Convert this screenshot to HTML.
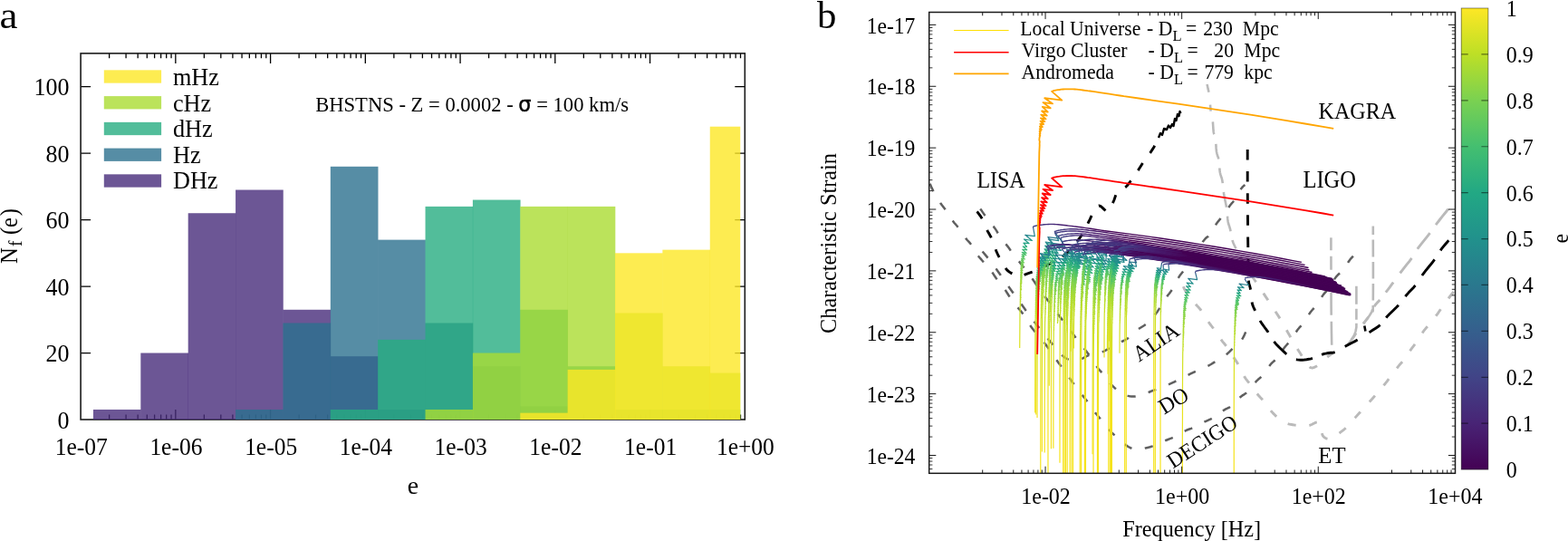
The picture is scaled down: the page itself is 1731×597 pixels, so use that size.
<!DOCTYPE html>
<html><head><meta charset="utf-8"><title>figure</title>
<style>
html,body{margin:0;padding:0;background:#fff;}
svg{display:block;font-family:"Liberation Serif", serif;fill:#000;}
</style></head><body>
<svg width="1731" height="597" viewBox="0 0 1731 597">
<rect width="1731" height="597" fill="#fff"/>
<g id="panelA">
<path d="M120.63 463v-5.4M120.63 58.9v5.4M139.08 463v-5.4M139.08 58.9v5.4M152.16 463v-5.4M152.16 58.9v5.4M162.31 463v-5.4M162.31 58.9v5.4M170.61 463v-5.4M170.61 58.9v5.4M177.62 463v-5.4M177.62 58.9v5.4M183.69 463v-5.4M183.69 58.9v5.4M189.05 463v-5.4M189.05 58.9v5.4M193.84 463v-11M193.84 58.9v11M225.37 463v-5.4M225.37 58.9v5.4M243.82 463v-5.4M243.82 58.9v5.4M256.9 463v-5.4M256.9 58.9v5.4M267.05 463v-5.4M267.05 58.9v5.4M275.35 463v-5.4M275.35 58.9v5.4M282.36 463v-5.4M282.36 58.9v5.4M288.44 463v-5.4M288.44 58.9v5.4M293.79 463v-5.4M293.79 58.9v5.4M298.59 463v-11M298.59 58.9v11M330.12 463v-5.4M330.12 58.9v5.4M348.56 463v-5.4M348.56 58.9v5.4M361.65 463v-5.4M361.65 58.9v5.4M371.8 463v-5.4M371.8 58.9v5.4M380.09 463v-5.4M380.09 58.9v5.4M387.1 463v-5.4M387.1 58.9v5.4M393.18 463v-5.4M393.18 58.9v5.4M398.54 463v-5.4M398.54 58.9v5.4M403.33 463v-11M403.33 58.9v11M434.86 463v-5.4M434.86 58.9v5.4M453.3 463v-5.4M453.3 58.9v5.4M466.39 463v-5.4M466.39 58.9v5.4M476.54 463v-5.4M476.54 58.9v5.4M484.83 463v-5.4M484.83 58.9v5.4M491.85 463v-5.4M491.85 58.9v5.4M497.92 463v-5.4M497.92 58.9v5.4M503.28 463v-5.4M503.28 58.9v5.4M508.07 463v-11M508.07 58.9v11M539.6 463v-5.4M539.6 58.9v5.4M558.05 463v-5.4M558.05 58.9v5.4M571.13 463v-5.4M571.13 58.9v5.4M581.28 463v-5.4M581.28 58.9v5.4M589.58 463v-5.4M589.58 58.9v5.4M596.59 463v-5.4M596.59 58.9v5.4M602.66 463v-5.4M602.66 58.9v5.4M608.02 463v-5.4M608.02 58.9v5.4M612.81 463v-11M612.81 58.9v11M644.35 463v-5.4M644.35 58.9v5.4M662.79 463v-5.4M662.79 58.9v5.4M675.88 463v-5.4M675.88 58.9v5.4M686.03 463v-5.4M686.03 58.9v5.4M694.32 463v-5.4M694.32 58.9v5.4M701.33 463v-5.4M701.33 58.9v5.4M707.41 463v-5.4M707.41 58.9v5.4M712.76 463v-5.4M712.76 58.9v5.4M717.56 463v-11M717.56 58.9v11M749.09 463v-5.4M749.09 58.9v5.4M767.53 463v-5.4M767.53 58.9v5.4M780.62 463v-5.4M780.62 58.9v5.4M790.77 463v-5.4M790.77 58.9v5.4M799.06 463v-5.4M799.06 58.9v5.4M806.08 463v-5.4M806.08 58.9v5.4M812.15 463v-5.4M812.15 58.9v5.4M817.51 463v-5.4M817.51 58.9v5.4M89.1 389.53h11M822.3 389.53h-11M89.1 316.05h11M822.3 316.05h-11M89.1 242.58h11M822.3 242.58h-11M89.1 169.11h11M822.3 169.11h-11M89.1 95.64h11M822.3 95.64h-11" stroke="#000" stroke-width="1.3" fill="none"/>
<rect x="89.1" y="58.9" width="733.2" height="404.1" fill="none" stroke="#1a1a1a" stroke-width="1.6"/>
<g fill="#472c7a" fill-opacity="0.8">
<rect x="102.95" y="451.98" width="52.67" height="11.02"/>
<rect x="155.32" y="389.53" width="52.67" height="73.47"/>
<rect x="207.69" y="235.23" width="52.67" height="227.77"/>
<rect x="260.06" y="209.52" width="52.67" height="253.48"/>
<rect x="312.43" y="341.77" width="52.67" height="121.23"/>
<rect x="364.8" y="393.2" width="52.67" height="69.8"/>
<rect x="417.17" y="451.98" width="52.67" height="11.02"/>
</g>
<g fill="#2c718e" fill-opacity="0.8">
<rect x="260.06" y="451.98" width="52.67" height="11.02"/>
<rect x="312.43" y="356.46" width="52.67" height="106.54"/>
<rect x="364.8" y="183.8" width="52.67" height="279.2"/>
<rect x="417.17" y="264.62" width="52.67" height="198.38"/>
<rect x="469.54" y="356.46" width="52.67" height="106.54"/>
<rect x="521.91" y="404.22" width="52.67" height="58.78"/>
<rect x="574.28" y="448.31" width="52.67" height="14.69"/>
</g>
<g fill="#27ad81" fill-opacity="0.8">
<rect x="364.8" y="451.98" width="52.67" height="11.02"/>
<rect x="417.17" y="374.83" width="52.67" height="88.17"/>
<rect x="469.54" y="227.89" width="52.67" height="235.11"/>
<rect x="521.91" y="220.54" width="52.67" height="242.46"/>
<rect x="574.28" y="341.77" width="52.67" height="121.23"/>
<rect x="626.65" y="404.22" width="52.67" height="58.78"/>
<rect x="679.02" y="451.98" width="52.67" height="11.02"/>
<rect x="731.39" y="451.98" width="52.67" height="11.02"/>
<rect x="783.76" y="451.98" width="33.49" height="11.02"/>
</g>
<g fill="#aadc32" fill-opacity="0.8">
<rect x="469.54" y="451.98" width="52.67" height="11.02"/>
<rect x="521.91" y="389.53" width="52.67" height="73.47"/>
<rect x="574.28" y="227.89" width="52.67" height="235.11"/>
<rect x="626.65" y="227.89" width="52.67" height="235.11"/>
<rect x="679.02" y="345.44" width="52.67" height="117.56"/>
<rect x="731.39" y="404.22" width="52.67" height="58.78"/>
<rect x="783.76" y="411.57" width="33.49" height="51.43"/>
</g>
<g fill="#fde725" fill-opacity="0.8">
<rect x="574.28" y="455.65" width="52.67" height="7.35"/>
<rect x="626.65" y="407.9" width="52.67" height="55.1"/>
<rect x="679.02" y="279.32" width="52.67" height="183.68"/>
<rect x="731.39" y="275.64" width="52.67" height="187.36"/>
<rect x="783.76" y="139.72" width="33.49" height="323.28"/>
</g>
<rect x="114.8" y="77.35" width="63.3" height="14.3" fill="#fde725" fill-opacity="0.8"/>
<text transform="translate(190.93,94.2) scale(1,1.050)" font-size="26.26">mHz</text>
<rect x="114.8" y="106.1" width="63.3" height="14.3" fill="#aadc32" fill-opacity="0.8"/>
<text transform="translate(190.93,122.7) scale(1,1.050)" font-size="26.26">cHz</text>
<rect x="114.8" y="134.85" width="63.3" height="14.3" fill="#27ad81" fill-opacity="0.8"/>
<text transform="translate(190.93,151.2) scale(1,1.050)" font-size="26.26">dHz</text>
<rect x="114.8" y="163.6" width="63.3" height="14.3" fill="#2c718e" fill-opacity="0.8"/>
<text transform="translate(190.93,179.7) scale(1,1.050)" font-size="26.26">Hz</text>
<rect x="114.8" y="192.35" width="63.3" height="14.3" fill="#472c7a" fill-opacity="0.8"/>
<text transform="translate(190.93,208.2) scale(1,1.050)" font-size="26.26">DHz</text>
<text transform="translate(76.5,472.6) scale(1,1.070)" font-size="26" text-anchor="end">0</text>
<text transform="translate(76.5,399.13) scale(1,1.070)" font-size="26" text-anchor="end">20</text>
<text transform="translate(76.5,325.65) scale(1,1.070)" font-size="26" text-anchor="end">40</text>
<text transform="translate(76.5,252.18) scale(1,1.070)" font-size="26" text-anchor="end">60</text>
<text transform="translate(76.5,178.71) scale(1,1.070)" font-size="26" text-anchor="end">80</text>
<text transform="translate(76.5,105.24) scale(1,1.070)" font-size="26" text-anchor="end">100</text>
<text transform="translate(89.65,502.3) scale(1,1.100)" font-size="25.5" text-anchor="middle">1e-07</text>
<text transform="translate(194.39,502.3) scale(1,1.100)" font-size="25.5" text-anchor="middle">1e-06</text>
<text transform="translate(299.14,502.3) scale(1,1.100)" font-size="25.5" text-anchor="middle">1e-05</text>
<text transform="translate(403.88,502.3) scale(1,1.100)" font-size="25.5" text-anchor="middle">1e-04</text>
<text transform="translate(508.62,502.3) scale(1,1.100)" font-size="25.5" text-anchor="middle">1e-03</text>
<text transform="translate(613.36,502.3) scale(1,1.100)" font-size="25.5" text-anchor="middle">1e-02</text>
<text transform="translate(718.11,502.3) scale(1,1.100)" font-size="25.5" text-anchor="middle">1e-01</text>
<text transform="translate(822.85,502.3) scale(1,1.100)" font-size="25.5" text-anchor="middle">1e+00</text>
<text transform="translate(449.69,544.63) scale(1,0.970)" font-size="27.84">e</text>
<text transform="translate(18.8,290.4) rotate(-90) scale(1,1.08)" font-size="24.6"><tspan x="-0.7">N</tspan><tspan x="18.3" dy="4.9" font-size="19.5">f</tspan><tspan x="31.4" dy="-4.9">(</tspan><tspan x="39.3">e</tspan><tspan x="52.2">)</tspan></text>
<text transform="translate(348.2,122.5) scale(1,1.060)" font-size="22.6">BHSTNS - Z = 0.0002 - <tspan font-family="DejaVu Sans, Liberation Sans, sans-serif" font-size="22.5" stroke="#000" stroke-width="0.45">σ</tspan> = 100 km/s</text>
<text transform="translate(-0.53,30.8) scale(1,0.880)" font-size="45.05">a</text>
</g>
<g id="panelB">
<clipPath id="cb"><rect x="1025.7" y="13.5" width="580.8" height="508.8"/></clipPath>
<g clip-path="url(#cb)">
<path d="M1332.5 93 L1333 95 L1333.6 97.9 L1334.4 101.3 L1335 105 L1335.5 109.4 L1335.9 114.4 L1336.3 119.2 L1336.7 123 L1337.2 125.2 L1337.6 126.2 L1338.1 127.3 L1338.5 129.3 L1338.8 132.9 L1339.1 137.5 L1339.4 142.1 L1339.7 145.7 L1340.2 147.8 L1340.8 148.9 L1341.3 150 L1341.8 152 L1342.1 155.4 L1342.4 159.6 L1342.6 163.9 L1343 167.5 L1343.6 170.1 L1344.2 172 L1344.9 173.9 L1345.5 176.3 L1345.9 179.5 L1346.2 183.3 L1346.4 187 L1346.8 190.2 L1347.4 192.6 L1348 194.5 L1348.7 196.5 L1349.3 199 L1349.8 202.3 L1350.2 206 L1350.6 210 L1351.1 214 L1351.8 218.1 L1352.7 222.3 L1353.6 226.5 L1354.3 230.4 L1354.7 234.2 L1355 237.8 L1355.2 241.2 L1355.6 244.2 L1356.1 246.7 L1356.8 248.7 L1357.4 250.7 L1358.1 253 L1358.7 256 L1359.3 259.2 L1359.9 262.5 L1360.6 265.5 L1361.5 268.2 L1362.7 270.7 L1363.7 272.8 L1364.4 274.3" fill="none" stroke="#bababa" stroke-width="2.6" stroke-dasharray="9 14 7 12 14 11 17 10 17 10 17 10 17 10 17 10 17 100" stroke-dashoffset="0" stroke-linejoin="round"/>
<path d="M1364.4 274.3 L1365.8 277 L1367.8 281 L1370 285.2 L1372 289 L1373.8 292 L1375.5 294.8 L1377.3 297.4 L1379 300 L1380.7 302.5 L1382.3 305 L1384 307.5 L1385.9 310.3 L1388.1 313.6 L1390.5 317.2 L1392.9 320.8 L1395.1 324.1 L1396.9 326.9 L1398.6 329.4 L1400.3 332 L1402.4 335.2 L1405.2 339.5 L1408.5 344.5 L1411.7 349.4 L1414.4 353.6 L1416.2 356.6 L1417.5 359 L1418.6 361.2 L1420 363.7 L1421.7 366.8 L1423.7 370.2 L1425.6 373.6 L1427.3 376.6 L1428.8 379.2 L1430.2 381.6 L1431.6 383.7 L1432.9 385.9 L1434.2 388 L1435.5 390.1 L1436.8 392.1 L1438 394 L1439.2 395.9 L1440.3 397.7 L1441.5 399.5 L1442.5 401 L1443.4 402.3 L1444.3 403.5 L1445.1 404.5 L1446 405.2 L1446.9 405.7 L1447.8 405.9 L1448.8 406 L1450 405.7 L1451.4 405.1 L1453.1 404.3 L1454.8 403.2 L1456.5 402 L1458.1 400.7 L1459.7 399.1 L1461.3 397.5 L1463 396 L1464.7 394.6 L1466.4 393.1 L1468.2 391.8 L1470 390.5 L1471.9 389.4 L1473.9 388.4 L1476 387.5 L1478 386.5 L1480.2 385.3 L1482.5 383.9 L1484.6 382.7 L1486 381.8" fill="none" stroke="#bababa" stroke-width="2.9" stroke-dasharray="9.2 14.8" stroke-dashoffset="-10" stroke-linejoin="round"/>
<path d="M1486 381.8 L1487.3 380.3 L1489.1 378.2 L1491.2 375.8 L1493 373.5 L1494.6 371.4 L1496 369.2 L1497.5 367.1 L1499 365 L1500.6 362.9 L1502.2 360.9 L1503.8 358.9 L1505.3 356.9 L1506.7 355.1 L1508 353.4 L1509.4 351.6 L1510.8 349.5 L1512.4 346.8 L1514 343.6 L1515.7 340.5 L1517.3 337.8 L1518.9 335.7 L1520.5 333.9 L1522.1 332.3 L1523.7 330.5 L1525.3 328.6 L1526.8 326.6 L1528.4 324.5 L1530.2 322.2 L1532.2 319.6 L1534.3 316.8 L1536.4 313.9 L1538.5 311.1 L1540.3 308.7 L1541.9 306.4 L1543.7 304 L1545.9 301 L1548.9 297.2 L1552.4 292.7 L1555.9 288.3 L1558.8 284.4 L1560.7 281.6 L1561.9 279.4 L1563.2 277.1 L1565.2 274.2 L1568.3 270.1 L1572.1 265.4 L1575.9 260.7 L1579 256.7 L1581 254 L1582.2 252.1 L1583.5 250.2 L1585.5 247.5 L1588.6 243.5 L1592.4 238.7 L1596.2 234 L1599.3 230 L1601.7 226.9 L1603.7 224.4 L1605.2 222.4 L1606.3 221" fill="none" stroke="#bababa" stroke-width="2.9" stroke-dasharray="0 9 9 13 9.2 13.3 9.7 10.6 13.9 12.5 21 12 22.3 11.2 22.3 50" stroke-dashoffset="0" stroke-linejoin="round"/>
<path d="M1304.7 312 L1305.4 313.8 L1306.4 316.3 L1307.7 319.3 L1309.4 322.3 L1311.6 325.5 L1314.3 328.9 L1317.1 332.3 L1319.5 335.2 L1321.3 337.3 L1322.8 338.8 L1324.3 340.4 L1325.9 342.5 L1327.9 345.5 L1330.1 348.9 L1332.3 352.4 L1334.2 355.4 L1335.7 357.5 L1337 359.2 L1338.3 360.8 L1339.8 362.8 L1341.7 365.6 L1343.9 368.7 L1346.1 372 L1348.1 374.8 L1349.8 377.1 L1351.4 379 L1352.9 380.9 L1354.5 383.1 L1356.3 385.8 L1358.3 388.7 L1360.2 391.7 L1361.9 394.4 L1363.4 396.6 L1364.7 398.6 L1366 400.6 L1367.4 403 L1369 406 L1370.6 409.5 L1372.3 412.9 L1373.9 415.9 L1375.5 418.3 L1377 420.2 L1378.6 422.1 L1380.3 424.2 L1382.1 426.7 L1383.9 429.3 L1385.8 431.9 L1387.7 434.4 L1389.5 436.5 L1391.3 438.5 L1393.2 440.5 L1395.1 442.7 L1397.1 445.3 L1399.3 448.3 L1401.4 451.1 L1403.4 453.7 L1405.3 455.9 L1407.2 457.8 L1409 459.6 L1410.7 461.1 L1412.1 462.3 L1413.4 463.3 L1414.6 464.2 L1416 465 L1417.5 465.8 L1419 466.5 L1420.6 467.2 L1422.5 467.8 L1424.7 468.3 L1427.1 468.7 L1429.6 469.1 L1431.9 469.4 L1434.1 469.6 L1436.2 469.8 L1438.2 470 L1440 470 L1441.5 470 L1442.8 470 L1444.2 469.8 L1445.8 469.4 L1448 468.5 L1450.4 467.2 L1452.8 466.1 L1454.7 465.7 L1455.8 466.1 L1456.5 467 L1457 468.4 L1457.5 470 L1458.1 472.2 L1458.6 474.9 L1459.2 477.6 L1459.8 479.7 L1460.5 481.1 L1461.3 482 L1462.1 482.7 L1463 483.3 L1464 483.8 L1465.1 484.1 L1466.3 484.3 L1467.5 484.2 L1468.8 483.9 L1470.1 483.5 L1471.5 482.8 L1473 482 L1474.5 481 L1476.2 479.9 L1477.9 478.6 L1479.6 477.2 L1481.3 475.9 L1483 474.6 L1484.9 473 L1487.2 470.8 L1490 467.8 L1493.1 464.3 L1496.5 460.4 L1500 456.5 L1503.6 452.5 L1507.4 448.4 L1511.2 444.2 L1515 440 L1518.8 435.6 L1522.7 431 L1526.4 426.7 L1529.3 423.2 L1531.2 420.8 L1532.4 419.2 L1533.4 417.8 L1534.8 415.9 L1536.9 413.1 L1539.3 409.9 L1541.8 406.7 L1544 403.9 L1545.8 401.8 L1547.4 400.1 L1548.9 398.5 L1550.5 396.5 L1552.3 393.9 L1554.2 390.9 L1556.1 388 L1557.8 385.4 L1559.3 383.4 L1560.5 381.9 L1561.8 380.2 L1563.4 378.1 L1565.3 375.1 L1567.5 371.7 L1569.7 368.2 L1571.7 365.2 L1573.4 363.1 L1574.8 361.4 L1576.3 359.8 L1578.1 357.8 L1580.3 355 L1582.7 351.9 L1585.2 348.6 L1587.3 345.8 L1588.9 343.5 L1590.2 341.6 L1591.4 339.7 L1592.9 337.5 L1594.9 334.8 L1597.1 331.9 L1599.3 329 L1601.2 326.5 L1602.8 324.3 L1604.3 322.3 L1605.5 320.7 L1606.3 319.5" fill="none" stroke="#bababa" stroke-width="2.9" stroke-dasharray="9.2 14.8" stroke-dashoffset="-4.5" stroke-linejoin="round"/>
<path d="M1469.4 262.3 L1469.4 277 L1469.5 298.2 L1469.5 320.8 L1469.6 340 L1469.8 355.2 L1470 368.9 L1470.2 380.1 L1470.4 388" fill="none" stroke="#bababa" stroke-width="2.6" stroke-dasharray="14 6.5 15 25 25 7 26 100" stroke-dashoffset="0" stroke-linejoin="round"/>
<path d="M1497.4 315.7 L1497.4 323.5 L1497.4 334.9 L1497.4 346.5 L1497.4 355 L1497.4 359 L1497.4 360.5 L1497.4 360.9 L1497.2 362 L1496.9 363.9 L1496.4 366 L1495.8 368 L1495 370 L1493.9 372 L1492.6 374 L1491.2 375.9 L1490 377.5 L1488.8 378.9 L1487.7 380.1 L1486.7 381.1 L1486 381.8" fill="none" stroke="#bababa" stroke-width="2.6" stroke-dasharray="20 5 12 4 30 100" stroke-dashoffset="0" stroke-linejoin="round"/>
<path d="M1515.8 249.4 L1515.8 266.6 L1515.9 291.8 L1515.9 317.1 L1515.8 335 L1515.7 342.3 L1515.6 343.5 L1515.4 342.2 L1515 342 L1514.5 343.5 L1513.9 344.9 L1513.1 346.3 L1512 348 L1510.4 350.2 L1508.5 352.8 L1506.6 355.2 L1505.3 356.9" fill="none" stroke="#bababa" stroke-width="2.6" stroke-dasharray="9.5 5.5 19 5.5 18.5 5.5 18.5 5.5 30 100" stroke-dashoffset="0" stroke-linejoin="round"/>
<path d="M1025.7 200.5 L1026.4 202.2 L1027.4 204.6 L1028.6 207.4 L1030.1 210.4 L1031.9 213.7 L1034 217.3 L1036.2 220.9 L1038.1 223.9 L1039.6 226 L1040.8 227.6 L1042.1 229.2 L1043.6 231.2 L1045.5 234.1 L1047.6 237.4 L1049.8 240.7 L1051.7 243.6 L1053.3 245.7 L1054.7 247.3 L1056.2 249 L1057.8 251 L1059.8 253.8 L1061.9 256.9 L1064.1 260.1 L1066.1 262.9 L1067.8 265 L1069.4 266.7 L1071 268.4 L1072.5 270.3 L1074 272.7 L1075.5 275.3 L1077 278 L1078.6 280.5 L1080.2 282.7 L1081.8 284.7 L1083.6 286.7 L1085.4 288.8 L1087.5 291.2 L1089.8 293.7 L1092 296.2 L1094 298.6 L1095.5 300.7 L1096.8 302.6 L1098 304.6 L1099.5 306.7 L1101.4 309.1 L1103.6 311.7 L1105.8 314.3 L1107.8 316.9 L1109.4 319.3 L1110.8 321.6 L1112.3 324 L1113.9 326.5 L1115.9 329.3 L1118.2 332.4 L1120.4 335.4 L1122.5 338.1 L1124.2 340.2 L1125.8 342 L1127.3 343.8 L1129 346 L1130.9 348.9 L1132.9 352.2 L1134.9 355.5 L1136.7 358.3 L1138.2 360.4 L1139.4 362.1 L1140.7 363.8 L1142.3 365.7 L1144.3 368.1 L1146.6 370.7 L1149 373.4 L1151.1 375.9 L1152.8 378.1 L1154.4 380.2 L1155.9 382.3 L1157.6 384.7 L1159.6 387.6 L1161.8 390.7 L1164 393.9 L1166 396.7 L1167.6 399 L1169 400.9 L1170.4 402.8 L1172 405 L1173.9 407.6 L1175.9 410.6 L1178 413.4 L1179.8 416 L1181.3 418 L1182.5 419.7 L1183.7 421.4 L1185.3 423.5 L1187.4 426.3 L1189.7 429.5 L1192.1 432.6 L1194.2 435.4 L1195.9 437.4 L1197.2 439 L1198.6 440.7 L1200.2 442.7 L1202.2 445.5 L1204.3 448.7 L1206.5 451.9 L1208.5 454.7 L1210.2 456.8 L1211.6 458.5 L1213.1 460.3 L1214.9 462.4 L1217.2 465.3 L1219.8 468.6 L1222.4 471.8 L1224.6 474.5 L1226.3 476.4 L1227.6 477.7 L1228.9 478.9 L1230.6 480.5 L1232.9 482.7 L1235.5 485.1 L1238.2 487.6 L1240.8 489.7 L1243.2 491.4 L1245.6 493 L1247.9 494.2 L1250 495.2 L1251.9 495.8 L1253.6 496.2 L1255.3 496.3 L1257 496.3 L1258.7 496.1 L1260.4 495.7 L1262.1 495.1 L1263.9 494.6 L1265.7 494.2 L1267.6 493.8 L1269.6 493.3 L1272.2 492.4 L1275.6 491 L1279.5 489.3 L1283.5 487.5 L1286.9 486 L1289.5 485 L1291.6 484.2 L1293.7 483.4 L1296.1 482.3 L1299.1 480.7 L1302.4 478.8 L1305.7 476.9 L1308.7 475.3 L1311.1 474.2 L1313.1 473.5 L1315 472.8 L1317.4 471.8 L1320.3 470.4 L1323.6 468.6 L1326.9 466.9 L1329.9 465.4 L1332.4 464.3 L1334.5 463.4 L1336.7 462.4 L1339.1 461.1 L1341.9 459.2 L1345 457 L1348 454.7 L1350.8 452.8 L1353.2 451.4 L1355.4 450.4 L1357.5 449.3 L1359.7 447.8 L1362.1 445.6 L1364.7 442.9 L1367.2 440.3 L1369.5 438 L1371.5 436.4 L1373.4 435.3 L1375.3 434 L1377.3 432.3 L1379.6 429.7 L1382.1 426.6 L1384.6 423.4 L1386.9 420.7 L1388.9 418.8 L1390.7 417.3 L1392.4 415.8 L1394.3 413.8 L1396.4 411.1 L1398.5 407.9 L1400.7 404.6 L1402.8 401.9 L1404.8 399.9 L1406.7 398.3 L1408.5 396.8 L1410.3 394.9 L1412.1 392.5 L1413.8 389.9 L1415.5 387.2 L1417.2 384.6 L1419 382.3 L1420.8 380.2 L1422.7 378.1 L1424.6 375.7 L1426.6 372.8 L1428.7 369.7 L1430.7 366.5 L1432.6 363.8 L1434.3 361.7 L1435.8 360.1 L1437.4 358.4 L1439 356.4 L1440.8 353.7 L1442.7 350.7 L1444.6 347.6 L1446.5 344.8 L1448.3 342.5 L1450 340.6 L1451.7 338.6 L1453.5 336.4 L1455.4 333.6 L1457.4 330.5 L1459.3 327.5 L1461.1 324.9 L1462.6 323.1 L1463.8 321.8 L1465.1 320.4 L1466.6 318.5 L1468.5 315.6 L1470.6 312.1 L1472.8 308.6 L1474.9 305.6 L1476.8 303.5 L1478.6 301.8 L1480.4 300.2 L1482.3 298.2 L1484.3 295.4 L1486.5 292.2 L1488.6 289 L1490.6 286.2 L1492.7 283.9 L1494.8 281.8 L1496.6 280 L1497.9 278.8" fill="none" stroke="#5f5f5f" stroke-width="2.5" stroke-dasharray="9.2 14.8" stroke-dashoffset="-2.5" stroke-linejoin="round"/>
<path d="M1078.6 225.7 L1079.5 226.9 L1080.8 228.7 L1082.4 230.8 L1084.1 233.1 L1086 235.9 L1088.2 239 L1090.3 242.2 L1092.3 244.9 L1093.9 246.9 L1095.3 248.4 L1096.8 249.9 L1098.3 251.9 L1100.1 254.6 L1102 257.9 L1103.9 261.1 L1105.7 263.9 L1107.3 266 L1108.9 267.8 L1110.5 269.5 L1112.2 271.6 L1114.2 274.3 L1116.3 277.4 L1118.5 280.5 L1120.5 283.2 L1122.2 285.3 L1123.7 287.1 L1125.3 288.9 L1127.1 291.1 L1129.3 293.9 L1131.8 297.1 L1134.3 300.2 L1136.4 303 L1137.9 305 L1139 306.7 L1140.1 308.3 L1141.5 310.4 L1143.4 313.2 L1145.6 316.3 L1147.9 319.6 L1150.2 322.8 L1152.5 325.9 L1154.8 328.9 L1157.2 331.9 L1159.4 334.9 L1161.6 337.9 L1163.8 340.9 L1165.8 343.8 L1167.7 346.4 L1169.2 348.4 L1170.4 350 L1171.6 351.6 L1173.2 353.7 L1175.3 356.5 L1177.8 359.7 L1180.3 362.9 L1182.4 365.7 L1183.9 367.7 L1185.1 369.2 L1186.3 370.9 L1188 373.1 L1190.6 376.4 L1193.7 380.5 L1196.8 384.4 L1199.1 387.5 L1200.3 389.1 L1200.8 389.7 L1201.3 390.3 L1202.3 391.8 L1204.2 394.6 L1206.6 398.3 L1209 402 L1211.1 405 L1212.6 407 L1213.8 408.3 L1215 409.6 L1216.6 411.5 L1218.7 414.2 L1221 417.4 L1223.5 420.6 L1225.9 423.5 L1228.3 425.9 L1230.6 428.1 L1233 430.1 L1235.1 431.8 L1237 433.2 L1238.7 434.2 L1240.3 435.1 L1242 435.8 L1243.7 436.4 L1245.4 436.9 L1247.2 437.3 L1249.1 437.5 L1251.1 437.6 L1253.3 437.6 L1255.6 437.4 L1258.3 436.8 L1261.6 435.7 L1265.3 434.1 L1269 432.5 L1272.2 431.2 L1274.5 430.4 L1276.4 429.8 L1278.2 429.2 L1280.5 428.3 L1283.7 427 L1287.3 425.5 L1291 423.9 L1294.3 422.4 L1296.6 421.3 L1298.4 420.4 L1300.4 419.3 L1303.5 417.8 L1308.3 415.4 L1314.4 412.4 L1320.4 409.5 L1325.2 407.2 L1328.3 405.9 L1330.3 405.1 L1332.1 404.5 L1334.2 403.5 L1336.9 402 L1339.9 400.1 L1342.8 398.2 L1345.5 396.5 L1347.9 395 L1350.1 393.7 L1352.2 392.4 L1354.4 390.7 L1356.8 388.6 L1359.3 386.2 L1361.7 383.8 L1364 381.5 L1366.1 379.6 L1368 378 L1369.8 376.2 L1371.5 374 L1373.2 370.9 L1374.8 367.2 L1376.3 363.7 L1377.6 361 L1378.8 359.4 L1379.8 358.6 L1380.6 358.1 L1381.2 357.8" fill="none" stroke="#5f5f5f" stroke-width="2.5" stroke-dasharray="9.2 14.8" stroke-dashoffset="-6" stroke-linejoin="round"/>
<path d="M1079 270.5 L1079.2 270.8 L1079.4 271 L1080.1 271.9 L1081.8 274 L1084.8 277.7 L1088.9 282.6 L1093.3 288.1 L1097.3 293.3 L1100.8 298.2 L1104.2 303 L1107.5 307.9 L1110.9 312.8 L1114.5 317.7 L1118.1 322.7 L1121.8 327.7 L1125.3 332.5 L1128.7 337.2 L1131.9 341.8 L1135.2 346.3 L1138.6 351 L1142.3 355.8 L1146.1 360.6 L1150 365.5 L1153.9 370.3 L1158.1 375.4 L1162.6 380.7 L1166.8 385.5 L1170.2 389.4 L1172.5 391.9 L1174.1 393.5 L1175.4 394.5 L1177 395.5 L1178.9 396.5 L1180.8 397.3 L1182.9 397.8 L1185 398 L1187.3 397.8 L1189.8 397.3 L1192.2 396.6 L1194.5 395.8 L1196.4 394.9 L1198.2 393.9 L1200 392.8 L1202.3 391.8 L1205.4 391 L1209.1 390.2 L1212.7 389.5 L1215.7 388.8 L1217.6 388.1 L1218.9 387.6 L1220.2 386.8 L1222.2 385.7 L1225.4 384 L1229.4 381.8 L1233.5 379.6 L1236.9 377.7 L1239.4 376.5 L1241.3 375.6 L1243.1 374.7 L1245.2 373.3 L1247.7 371.2 L1250.3 368.8 L1253 366.2 L1255.6 364 L1258.1 362.2 L1260.6 360.7 L1263 359.2 L1265.1 357.7 L1266.9 356.1 L1268.5 354.5 L1269.9 352.9 L1271.4 351.2 L1272.9 349.6 L1274.3 348.1 L1275.9 346.3 L1277.7 343.9 L1280 340.4 L1282.7 336.1 L1285.4 331.7 L1287.7 328.1 L1289.5 325.6 L1291 323.7 L1292.4 321.8 L1294 319.5 L1295.8 316.3 L1297.8 312.6 L1299.7 308.9 L1301.5 305.7 L1302.8 303.6 L1303.9 302.3 L1305.3 300.5 L1307.8 296.9 L1312.1 290.3 L1317.8 281.7 L1323.4 273.2 L1327.9 266.7 L1330.7 263.3 L1332.4 261.8 L1333.8 260.9 L1335.4 259.2 L1337.3 256.3 L1339.3 253 L1341.2 249.6 L1343 246.7 L1344.6 244.6 L1346 242.9 L1347.5 241.2 L1349.2 239.1 L1351.3 236.2 L1353.7 232.8 L1356 229.4 L1358 226.6 L1359.5 224.7 L1360.6 223.5 L1361.7 222.2 L1363.1 220.3 L1364.9 217.4 L1366.9 213.8 L1368.9 210.4 L1370.6 207.7 L1371.9 206.1 L1373 205.1 L1373.8 204.5 L1374.4 204" fill="none" stroke="#5f5f5f" stroke-width="2.5" stroke-dasharray="9.2 14.8" stroke-dashoffset="-9" stroke-linejoin="round"/>
<path d="M1078.6 233.4 L1079.7 234.8 L1081.2 236.8 L1082.9 239.2 L1084.5 241.8 L1086 244.8 L1087.4 248.3 L1088.9 251.8 L1090.2 254.8 L1091.4 257.1 L1092.5 259 L1093.6 260.9 L1094.8 263.3 L1096 266.5 L1097.3 270.1 L1098.6 273.8 L1099.8 277 L1100.9 279.5 L1101.9 281.6 L1103 283.7 L1104.3 286 L1105.9 288.9 L1107.7 292.1 L1109.6 295.2 L1111.6 297.8 L1113.7 299.7 L1115.9 301.1 L1118.1 302.2 L1120.2 303.1 L1122 303.8 L1123.7 304.1 L1125.3 304.3 L1127 304.2 L1128.8 303.9 L1130.6 303.3 L1132.5 302.6 L1134.5 301.8 L1136.6 301.1 L1138.9 300.3 L1141.3 299.5 L1143.9 298.4 L1147 297 L1150.4 295.4 L1153.8 293.8 L1156.7 292.4 L1158.8 291.3 L1160.5 290.3 L1162.1 289.3 L1164 288.2 L1166.4 286.8 L1169 285.3 L1171.7 283.8 L1174.1 282.2 L1176.2 280.8 L1178.1 279.5 L1180 277.9 L1182 276 L1184.2 273.3 L1186.6 270.2 L1188.8 267 L1190.8 264.2 L1192.3 262.1 L1193.5 260.5 L1194.6 258.8 L1195.8 256.7 L1197.3 253.9 L1198.9 250.7 L1200.6 247.4 L1202 244.5 L1203.2 242.1 L1204.2 239.9 L1205.2 237.9 L1206.2 236 L1207.2 234 L1208.1 232.1 L1209 230.3 L1210 229 L1211 228 L1212.1 227.3 L1213.2 227 L1214.6 227.3 L1216.4 228.6 L1218.5 230.6 L1220.5 232.6 L1222.2 233.6 L1223.4 233.3 L1224.3 232.2 L1225.1 230.6 L1226 229 L1227 227.3 L1227.9 225.3 L1228.8 223.2 L1229.8 221 L1230.6 218.7 L1231.4 216.3 L1232.3 214 L1233.6 212 L1235.5 210.4 L1237.9 209.1 L1240.4 207.9 L1242.5 206.5 L1244.1 205 L1245.4 203.5 L1246.6 201.9 L1248 200 L1249.6 197.9 L1251.3 195.6 L1253.1 193 L1255 190.2 L1257.2 186.8 L1259.6 183 L1261.9 179.3 L1263.9 176.3 L1265.4 174.3 L1266.6 172.9 L1267.7 171.7 L1268.9 170 L1270.4 167.7 L1272.1 165.1 L1273.8 162.4 L1275.2 160 L1276.4 157.7 L1277.5 155.4 L1278.4 153.4 L1279 152" fill="none" stroke="#000" stroke-width="2.9" stroke-dasharray="9.6 13.8" stroke-dashoffset="0" stroke-linejoin="round"/>
<path d="M1279 152 L1281 147 L1283 149 L1285 142 L1288 143 L1290 138.5 L1292 141 L1294 137 L1295.5 139 L1297 131 L1298.5 133 L1300 126 L1301.5 128 L1302.5 123 L1303.5 125" fill="none" stroke="#000" stroke-width="2.4" stroke-linejoin="round"/>
<path d="M1377.2 165 L1377.2 200 L1377.6 260 L1378.2 300 L1378.6 312 L1379 313.4 L1379.6 315.3 L1380.2 317.7 L1380.7 320.4 L1381.1 323.6 L1381.4 327.2 L1381.7 330.9 L1382.2 334.2 L1382.9 336.8 L1383.8 339 L1384.8 341.2 L1385.9 343.5 L1387.1 346.1 L1388.3 348.8 L1389.7 351.6 L1391.4 354.5 L1393.5 357.7 L1395.9 361 L1398.4 364.3 L1400.6 367.4 L1402.4 370.2 L1403.9 372.8 L1405.4 375.3 L1407 377.6 L1408.7 379.7 L1410.5 381.5 L1412.2 383.3 L1414 385 L1415.8 386.7 L1417.6 388.4 L1419.3 390 L1420.9 391.4 L1422.3 392.5 L1423.5 393.5 L1424.7 394.3 L1426 395 L1427.4 395.6 L1428.8 396.2 L1430.3 396.6 L1431.9 396.9 L1433.7 397.1 L1435.7 397.2 L1437.8 397.2 L1440 397 L1442.4 396.7 L1444.9 396.3 L1447.4 395.8 L1450 395.1 L1452.6 394.2 L1455.2 393 L1457.8 391.9 L1460.1 391 L1462 390.4 L1463.7 390.1 L1465.3 389.8 L1467 389.5 L1468.8 389.3 L1470.7 389.2 L1472.7 388.9 L1474.9 388.2 L1477.4 387 L1480 385.4 L1482.9 383.6 L1485.9 381.8 L1489.3 379.9 L1493.1 378 L1496.8 376.1 L1499.8 374.4 L1502 373.1 L1503.6 372 L1505 371 L1506.5 370 L1507.9 369.1 L1509.3 368.3 L1510.8 367.4 L1512.7 366.1 L1515.4 364.3 L1518.7 362.2 L1522 360 L1524.7 357.8 L1526.5 355.9 L1527.8 354 L1529.1 352 L1531.1 349.5 L1534.2 346.3 L1537.9 342.7 L1541.7 339 L1544.9 335.7 L1547.1 333 L1548.8 330.7 L1550.3 328.5 L1552.3 326 L1554.9 323.1 L1557.9 320 L1560.8 316.9 L1563.4 313.9 L1565.3 311.2 L1566.9 308.7 L1568.5 306 L1570.7 302.8 L1573.9 298.7 L1577.7 294 L1581.5 289.3 L1584.6 285.3 L1586.7 282.3 L1588.1 279.9 L1589.4 277.6 L1591 275.2 L1593.2 272.4 L1595.6 269.5 L1598.1 266.7 L1600.2 264.1 L1602.1 261.8 L1603.8 259.6 L1605.3 257.8 L1606.3 256.5" fill="none" stroke="#000" stroke-width="2.9" stroke-dasharray="11.5 12.6 11.5 12.6 11.5 12.6 11.5 12.6 11.5 12.6 11.5 12.6 10.3 14 10 12.3 15.8 12 19.6 12.3 18.2 10.9 15 12.7 15.7 15.3 14.6 10.5 19.5 12.2 16.4 13.3 22.3 12 14.4 100" stroke-linejoin="round"/>
<path d="M1506.3 359.6L1507.4 365.4" fill="none" stroke="#000" stroke-width="2.6"/>
<defs><linearGradient id="tg" gradientUnits="userSpaceOnUse" x1="0" y1="0" x2="0" y2="230"><stop offset="0.000" stop-color="#472a79"/><stop offset="0.022" stop-color="#355f8d"/><stop offset="0.043" stop-color="#287d8e"/><stop offset="0.070" stop-color="#21918c"/><stop offset="0.104" stop-color="#29ad80"/><stop offset="0.148" stop-color="#4fc36a"/><stop offset="0.200" stop-color="#7ad151"/><stop offset="0.287" stop-color="#a9db33"/><stop offset="0.400" stop-color="#c8e024"/><stop offset="0.543" stop-color="#dae121"/><stop offset="0.717" stop-color="#e8e21e"/><stop offset="1.000" stop-color="#f6e31c"/></linearGradient><linearGradient id="hg" gradientUnits="userSpaceOnUse" x1="0" y1="0" x2="80" y2="0"><stop offset="0" stop-color="#414487"/><stop offset="0.35" stop-color="#482475"/><stop offset="1" stop-color="#440154"/></linearGradient></defs>
<g fill="none" stroke="url(#tg)" stroke-width="1.2" stroke-linejoin="round">
<path vector-effect="non-scaling-stroke" transform="translate(1126.9,247.4) scale(1.00)" d="M-1.2 136.6 L-1 111.6 L-0.9 95 L-0.9 95 L-0.5 95 L-0.9 93 L-0.5 92.9 L-0.9 91 L-0.4 91.1 L-0.8 89.1 L-0.2 89.4 L-0.8 87.4 L-0.2 87.4 L-0.8 85.4 L-0.1 85.2 L-0.8 83.3 L-0 83.4 L-0.7 81.3 L0.2 81.2 L-0.7 79.5 L0.1 79.9 L-0.7 77.7 L0.2 78.1 L-0.7 75.7 L0.1 75.8 L-0.6 73.7 L0.2 73.5 L-0.6 71.7 L0.7 71.9 L-0.6 69.7 L0.7 69.6 L-0.5 67.9 L0.5 68.2 L-0.5 66.2 L0.6 66.2 L-0.5 64.5 L1.1 64.8 L-0.4 62.5 L1.1 62.8 L-0.4 60.6 L1.2 60.7 L-0.3 58.7 L1.3 59.1 L-0.3 56.7 L1.4 57.2 L-0.2 54.7 L1.8 54.7 L-0.2 52.9 L1.7 53 L-0.1 51.1 L2 51.1 L-0.1 49.3 L1.6 49.3 L-0 47.4 L2.6 47.4 L0.1 45.4 L2.7 45.8 L0.1 43.7 L2.6 44 L0.2 41.8 L3.7 42.5 L0.5 39.8 L3 40.2 L0.7 38 L4.5 38.5 L1 35.7 L3.9 35.9 L1.2 33.5 L5.9 34 L1.4 31 L6.3 32 L1.8 27.9 L6.8 28.4 L2.4 24.6 L6.7 25.1 L3 20.7 L9.2 21.3 L3.6 16.6 L12.5 18.1 L4.8 11.9 L15.4 13.2 L13.5 2.5"/>
<path vector-effect="non-scaling-stroke" transform="translate(1150.1,252.8) scale(1.03)" d="M-1.3 268.4 L-1.3 243.4 L-1.3 218.4 L-1.3 193.4 L-1.2 168.4 L-1.2 143.4 L-1.1 118.4 L-0.9 95 L-0.9 95 L-0.6 95 L-0.9 92.9 L-0.5 92.8 L-0.9 91 L-0.5 91.3 L-0.8 89.1 L-0.5 89.2 L-0.8 87.2 L-0.4 87.1 L-0.8 85.3 L-0.4 85.6 L-0.8 83.5 L-0.2 83.6 L-0.8 81.6 L-0.3 81.6 L-0.7 79.8 L-0.1 79.7 L-0.7 77.7 L0.1 77.7 L-0.7 75.7 L0.1 75.7 L-0.6 73.8 L0.3 73.9 L-0.6 71.9 L0.1 72.2 L-0.6 70.1 L0.3 70 L-0.5 68.2 L0.5 68.6 L-0.5 66.5 L0.3 66.4 L-0.5 64.5 L0.5 64.8 L-0.4 62.7 L0.6 62.6 L-0.4 60.6 L1.2 61 L-0.3 58.5 L1.1 58.7 L-0.3 56.8 L1.3 56.8 L-0.2 54.9 L1.1 55.4 L-0.2 52.9 L1.1 53.1 L-0.1 51.1 L1.7 51.3 L-0.1 49.1 L1.5 49.5 L-0 47.2 L1.6 47.4 L0.1 45.4 L2 45.5 L0.1 43.6 L2.6 44.1 L0.2 41.7 L2.7 41.9 L0.5 39.7 L2.5 40.1 L0.7 38 L3.6 38.5 L1 35.8 L4.5 36.2 L1.2 33.5 L4.5 34 L1.4 30.8 L3.9 31 L1.8 28.1 L5 28.6 L2.4 24.7 L6 25.4 L2.9 21.4 L7.5 22.1 L3.5 17.8 L7.8 18.6 L4 13.8 L11.5 14.9 L6.5 8.6 L18.7 10.1 L13.5 2.5"/>
<path vector-effect="non-scaling-stroke" transform="translate(1151.6,254.9) scale(0.96)" d="M-1.3 253.8 L-1.3 228.8 L-1.3 203.8 L-1.3 178.8 L-1.2 153.8 L-1.1 128.8 L-1 103.8 L-0.9 95 L-0.9 95 L-0.7 95.3 L-0.9 93.1 L-0.5 93.2 L-0.9 91.1 L-0.5 91.1 L-0.8 89 L-0.4 89.1 L-0.8 87.2 L-0.4 87.3 L-0.8 85.1 L-0.2 85 L-0.8 83.2 L-0.2 83 L-0.7 81.3 L-0.1 81.2 L-0.7 79.3 L-0.2 79.6 L-0.7 77.3 L0.1 77.3 L-0.7 75.4 L0.3 75.4 L-0.6 73.5 L0.2 73.6 L-0.6 71.7 L0.2 71.5 L-0.6 69.9 L0.5 70 L-0.5 68.1 L0.6 68.1 L-0.5 66.2 L0.4 66.4 L-0.5 64.3 L0.6 64.3 L-0.4 62.5 L0.9 62.8 L-0.4 60.7 L1.3 61.1 L-0.3 58.8 L1.5 58.8 L-0.3 56.9 L1.1 56.8 L-0.2 55.1 L1.1 55.2 L-0.2 53.2 L1.8 53.7 L-0.1 51.5 L2 51.7 L-0.1 49.7 L2 50.2 L-0 47.8 L2.3 48.3 L0 46 L2.6 46.4 L0.1 44.1 L3 44.5 L0.2 42.2 L2.6 42.4 L0.3 40.5 L3.2 40.9 L0.7 38.5 L3.5 38.7 L0.9 36.6 L4.4 36.8 L1.1 34.2 L4.4 34.6 L1.3 31.8 L5.4 32.5 L1.6 29.1 L6 29.9 L2.2 25.8 L6.1 26.3 L2.8 22.2 L7.8 22.7 L3.3 18.7 L8.3 19.4 L4 14.2 L12.3 15.3 L5.9 9.3 L17.9 11.2 L13.5 2.5"/>
<path vector-effect="non-scaling-stroke" transform="translate(1154.5,257.8) scale(1.01)" d="M-1.3 239.4 L-1.3 214.4 L-1.3 189.4 L-1.2 164.4 L-1.2 139.4 L-1.1 114.4 L-0.9 95 L-0.9 95 L-0.7 95.3 L-0.9 93.2 L-0.7 93.5 L-0.9 91.2 L-0.6 91.4 L-0.8 89.1 L-0.5 89 L-0.8 87.3 L-0.4 87.5 L-0.8 85.3 L-0.3 85.5 L-0.8 83.4 L-0.2 83.3 L-0.8 81.7 L-0.1 81.9 L-0.7 79.8 L-0.1 79.9 L-0.7 77.8 L-0.1 77.6 L-0.7 76 L-0.1 76.2 L-0.6 74.1 L0.2 74 L-0.6 72.4 L0 72.7 L-0.6 70.5 L0.2 70.7 L-0.5 68.7 L0.5 69.1 L-0.5 66.7 L0.6 66.8 L-0.5 64.8 L0.5 64.8 L-0.4 62.8 L0.9 63.1 L-0.4 61 L0.7 61 L-0.3 59.1 L1.1 59.6 L-0.3 57.4 L1 57.8 L-0.3 55.6 L1.1 56 L-0.2 53.8 L1.2 54.3 L-0.1 51.9 L1.7 52.1 L-0.1 49.9 L1.5 50.2 L-0 48.1 L1.7 48.1 L0 46.3 L2 46.7 L0.1 44.5 L2.2 44.8 L0.2 42.5 L2.5 43 L0.4 40.4 L2.7 41 L0.6 38.6 L3.3 38.8 L0.9 36.7 L3.2 37.2 L1.1 34.3 L3.3 34.6 L1.3 31.7 L3.8 32.2 L1.6 29.2 L5.8 29.8 L2.1 26.3 L6.1 26.9 L2.6 23 L7.3 23.8 L3.2 19.3 L8.3 20.1 L3.8 15.2 L10.2 16 L5.5 10.3 L19.6 12.1 L13.5 2.5"/>
<path vector-effect="non-scaling-stroke" transform="translate(1158.2,259.9) scale(0.94)" d="M-1.3 287.4 L-1.3 262.4 L-1.3 237.4 L-1.3 212.4 L-1.3 187.4 L-1.2 162.4 L-1.2 137.4 L-1 112.4 L-0.9 95 L-0.9 95 L-0.6 95.3 L-0.9 93.2 L-0.6 93.2 L-0.9 91.4 L-0.5 91.6 L-0.9 89.7 L-0.5 90 L-0.8 87.7 L-0.4 87.8 L-0.8 85.9 L-0.2 86.2 L-0.8 84.2 L-0.3 84 L-0.8 82.1 L-0.2 82.1 L-0.7 80.1 L-0.2 80.3 L-0.7 78.2 L-0.1 78.1 L-0.7 76.3 L-0.1 76.5 L-0.6 74.6 L0.1 74.5 L-0.6 72.8 L0 73.2 L-0.6 70.9 L0.4 71.2 L-0.5 68.8 L0.3 68.7 L-0.5 67 L0.6 67.2 L-0.5 64.9 L0.8 65.3 L-0.4 63 L0.7 63.1 L-0.4 61.3 L1 61.7 L-0.3 59.4 L1.3 59.4 L-0.3 57.4 L1.3 57.8 L-0.2 55.4 L1.2 55.5 L-0.2 53.5 L1.8 53.5 L-0.1 51.6 L1.9 51.7 L-0.1 49.9 L1.9 50 L-0 48 L2.2 48.5 L0 46.2 L2.4 46.6 L0.1 44.4 L2.4 44.5 L0.2 42.6 L2.8 42.8 L0.3 40.8 L2.8 41.3 L0.6 38.9 L3.4 39.3 L0.9 37 L4.4 37.3 L1.1 35 L3.8 35.4 L1.3 32.3 L4.7 32.5 L1.5 29.8 L5.1 30.3 L2 26.6 L6.1 27.5 L2.6 23.2 L6.9 23.9 L3.1 19.9 L8.6 20.5 L3.7 15.9 L8.7 16.5 L5.1 11.2 L17 12.7 L13.5 2.5"/>
<path vector-effect="non-scaling-stroke" transform="translate(1143.8,269.5) scale(0.87)" d="M-1.3 213.8 L-1.3 188.8 L-1.2 163.8 L-1.2 138.8 L-1.1 113.8 L-0.9 95 L-0.9 95 L-0.6 94.8 L-0.9 93.1 L-0.5 93 L-0.9 91 L-0.5 91.1 L-0.8 89 L-0.4 88.8 L-0.8 87 L-0.2 87.3 L-0.8 84.9 L-0.2 85.2 L-0.8 82.9 L-0.2 83 L-0.7 80.8 L-0.1 80.8 L-0.7 79.1 L-0 79.1 L-0.7 77.1 L-0.1 77 L-0.7 75.1 L0.4 75 L-0.6 73.3 L0.2 73.3 L-0.6 71.4 L0.5 71.6 L-0.6 69.7 L0.7 69.6 L-0.5 67.9 L0.7 68.3 L-0.5 65.9 L0.9 66.3 L-0.4 64 L1.1 64.3 L-0.4 62.1 L0.7 62 L-0.4 60.1 L1.4 60.1 L-0.3 58.4 L1.6 58.4 L-0.3 56.5 L1.6 56.5 L-0.2 54.8 L1.8 55.3 L-0.2 52.9 L2 53.4 L-0.1 50.9 L2.4 51 L-0.1 49 L2.6 49.2 L-0 47.2 L1.9 47.6 L0.1 45.4 L2.6 45.9 L0.1 43.6 L3.2 43.8 L0.2 41.7 L2.7 42.2 L0.5 39.7 L3.2 39.8 L0.8 37.7 L3.9 38.3 L1 35.4 L3.6 35.6 L1.2 32.8 L5.6 33.4 L1.4 30.2 L4.7 30.8 L1.9 27.3 L5.8 27.7 L2.5 24.2 L8.2 24.8 L3.1 20.3 L8.8 21.2 L3.7 16.1 L9.1 16.8 L5 11.5 L18 13.5 L13.5 2.5"/>
<path vector-effect="non-scaling-stroke" transform="translate(1144.9,270.4) scale(0.93)" d="M-1.3 201.3 L-1.2 176.3 L-1.2 151.3 L-1.1 126.3 L-1 101.3 L-0.9 95 L-0.9 95 L-0.6 95 L-0.9 93.3 L-0.5 93 L-0.9 91.5 L-0.5 91.5 L-0.9 89.7 L-0.5 90 L-0.8 87.9 L-0.4 87.6 L-0.8 85.8 L-0.2 85.8 L-0.8 84 L-0.2 83.9 L-0.8 82.1 L-0.1 82.1 L-0.7 80.1 L-0 80.4 L-0.7 78.4 L0.1 78.7 L-0.7 76.6 L0.2 76.9 L-0.7 74.7 L0.1 75 L-0.6 72.9 L0.1 72.7 L-0.6 71 L0.4 71.2 L-0.6 69.2 L0.2 69.1 L-0.5 67.4 L0.8 67.8 L-0.5 65.5 L0.7 65.5 L-0.4 63.8 L0.5 63.6 L-0.4 62 L1 61.9 L-0.4 60.3 L1.1 60.8 L-0.3 58.5 L1.3 58.7 L-0.3 56.4 L1.4 56.7 L-0.2 54.5 L1.6 54.7 L-0.2 52.7 L1.5 53.2 L-0.1 50.8 L2 50.8 L-0.1 48.8 L1.9 48.8 L0 46.8 L1.8 47.3 L0.1 45 L2.2 45.2 L0.2 43 L2.9 43 L0.3 41 L2.8 41 L0.5 39.3 L3.1 39.5 L0.9 37.2 L3.8 37.5 L1.1 34.8 L3.5 35.3 L1.3 32.2 L4.9 33 L1.5 29.6 L4.8 30 L2.1 26.5 L6.4 27 L2.6 23 L7.5 23.8 L3.2 19.5 L7.7 20.2 L3.7 15.8 L9.8 16.7 L5.2 10.9 L14.6 12.1 L13.5 2.5"/>
<path vector-effect="non-scaling-stroke" transform="translate(1146.1,273) scale(0.83)" d="M-1.3 226.4 L-1.3 201.4 L-1.2 176.4 L-1.2 151.4 L-1.1 126.4 L-1 101.4 L-0.9 95 L-0.9 95 L-0.6 94.9 L-0.9 92.9 L-0.6 93.2 L-0.9 91.1 L-0.4 91.1 L-0.8 89.1 L-0.4 89.2 L-0.8 87 L-0.3 87.3 L-0.8 84.9 L-0.2 85.1 L-0.8 83.1 L-0.1 83.1 L-0.7 81.1 L0 81.1 L-0.7 79 L0.1 79.4 L-0.7 77.3 L-0 77.2 L-0.7 75.2 L0.1 75.4 L-0.6 73.2 L0.5 73.2 L-0.6 71.2 L0.2 71.5 L-0.6 69.5 L0.3 69.3 L-0.5 67.7 L0.5 67.8 L-0.5 65.8 L0.7 66.1 L-0.4 64 L0.6 64.3 L-0.4 62.2 L1.1 62.4 L-0.4 60.2 L0.9 60.5 L-0.3 58.2 L1.1 58.3 L-0.3 56.4 L1.2 56.5 L-0.2 54.4 L1.9 54.9 L-0.2 52.5 L1.8 52.5 L-0.1 50.7 L1.5 51 L-0.1 48.8 L2.4 49.1 L0 46.8 L2 47 L0.1 44.9 L3 45.1 L0.2 43 L2.8 43.4 L0.3 40.9 L3.2 41.2 L0.6 39.2 L2.9 39.7 L0.8 37.4 L3.8 37.8 L1.1 35.1 L4.8 35.7 L1.2 32.9 L4.4 33.1 L1.5 30 L6.2 30.6 L2 26.9 L5.9 27.2 L2.5 24 L7.6 24.8 L3 20.7 L9.5 21.4 L3.6 16.7 L10.7 17.5 L4.5 12.7 L13.5 13.7 L13.5 2.5"/>
<path vector-effect="non-scaling-stroke" transform="translate(1161.5,264.7) scale(0.81)" d="M-1.3 284.5 L-1.3 259.5 L-1.3 234.5 L-1.3 209.5 L-1.3 184.5 L-1.2 159.5 L-1.2 134.5 L-1 109.5 L-0.9 95 L-0.9 95 L-0.7 95.3 L-0.9 92.9 L-0.6 93.1 L-0.9 91.1 L-0.5 91.1 L-0.8 89.1 L-0.4 89.3 L-0.8 87.1 L-0.5 86.9 L-0.8 85.2 L-0.3 85.2 L-0.8 83.1 L-0.3 83.2 L-0.7 81 L-0.3 81.3 L-0.7 79.1 L0 79.2 L-0.7 77.2 L0.1 77.5 L-0.7 75.2 L0.1 75.2 L-0.6 73.2 L0.3 73.5 L-0.6 71.2 L0.2 71.6 L-0.6 69.2 L0.5 69.4 L-0.5 67.3 L0.4 67.6 L-0.5 65.4 L0.4 65.4 L-0.4 63.7 L0.6 63.7 L-0.4 61.7 L0.8 61.9 L-0.4 59.7 L0.6 60 L-0.3 57.7 L1.2 57.8 L-0.3 55.6 L0.9 56.1 L-0.2 53.7 L1.1 54.1 L-0.1 51.8 L1.4 51.7 L-0.1 49.8 L1.9 50.2 L-0 47.9 L2.1 47.9 L0 45.8 L1.7 45.9 L0.1 43.9 L1.7 44.1 L0.2 42.1 L2.9 42.3 L0.4 40.3 L3.2 40.7 L0.7 38.5 L3.3 39.1 L1 36.3 L3.3 36.7 L1.1 34.2 L3.4 34.6 L1.3 31.5 L3.8 31.8 L1.7 28.7 L4.7 28.9 L2.3 25.3 L6 25.9 L2.9 21.5 L7.6 22 L3.5 17.4 L8.3 18 L4.1 13.4 L12.4 14.6 L6.3 8.9 L18.1 10.3 L13.5 2.5"/>
<path vector-effect="non-scaling-stroke" transform="translate(1164.1,274.6) scale(0.95)" d="M-1.3 231.8 L-1.3 206.8 L-1.3 181.8 L-1.2 156.8 L-1.1 131.8 L-1 106.8 L-0.9 95 L-0.9 95 L-0.7 94.9 L-0.9 93.3 L-0.6 93.3 L-0.9 91.5 L-0.6 91.7 L-0.9 89.6 L-0.5 89.4 L-0.8 87.5 L-0.5 87.7 L-0.8 85.8 L-0.3 85.6 L-0.8 84 L-0.3 83.9 L-0.8 82.1 L-0.2 82.4 L-0.7 80 L-0.1 80.1 L-0.7 78.3 L-0 78.1 L-0.7 76.5 L-0.1 76.6 L-0.6 74.6 L0 74.7 L-0.6 72.5 L0.3 72.6 L-0.6 70.8 L0.1 70.9 L-0.5 68.9 L0.4 69 L-0.5 66.9 L0.6 66.8 L-0.5 65 L0.4 64.9 L-0.4 63 L0.4 62.8 L-0.4 61.2 L1 61.7 L-0.3 59.4 L0.6 59.7 L-0.3 57.6 L1.1 58 L-0.3 55.7 L0.9 55.9 L-0.2 53.8 L1 53.7 L-0.2 52 L1.5 52.5 L-0.1 49.9 L1.5 50.1 L-0 48.1 L2.1 48.6 L0 46.2 L1.9 46.7 L0.1 44.2 L2 44.3 L0.2 42.1 L2.6 42.4 L0.4 40.4 L2.3 40.9 L0.6 38.7 L3.2 39.1 L0.9 36.4 L4 36.6 L1.1 33.9 L4.2 34.4 L1.3 31.6 L3.9 31.7 L1.6 29 L5.5 29.4 L2.1 26.1 L6.2 26.5 L2.7 22.7 L7.3 23.5 L3.2 19.2 L7.7 19.9 L3.8 15.5 L9.3 16.4 L5 11.3 L12.6 12.1 L13.5 2.5"/>
<path vector-effect="non-scaling-stroke" transform="translate(1171.1,268.3) scale(0.87)" d="M-1.3 278.6 L-1.3 253.6 L-1.3 228.6 L-1.3 203.6 L-1.3 178.6 L-1.2 153.6 L-1.1 128.6 L-1 103.6 L-0.9 95 L-0.9 95 L-0.5 94.9 L-0.9 93 L-0.5 93.3 L-0.9 91 L-0.5 91.2 L-0.8 89.1 L-0.5 89.3 L-0.8 87.3 L-0.2 87.2 L-0.8 85.5 L-0.1 85.6 L-0.8 83.5 L-0 83.3 L-0.8 81.4 L-0.1 81.5 L-0.7 79.5 L-0.1 79.7 L-0.7 77.4 L-0 77.6 L-0.7 75.4 L0.3 75.7 L-0.6 73.7 L0.2 74 L-0.6 71.8 L0.5 71.7 L-0.6 70.1 L0.5 70.5 L-0.5 68.2 L0.4 68.4 L-0.5 66.3 L0.6 66.2 L-0.5 64.3 L1.2 64.5 L-0.4 62.4 L1.3 62.5 L-0.4 60.4 L0.9 60.4 L-0.3 58.6 L1.4 58.6 L-0.3 56.8 L1.6 57.4 L-0.2 55.1 L1.4 55.3 L-0.2 53.3 L1.3 53.4 L-0.1 51.6 L2.4 52 L-0.1 49.6 L2.5 49.9 L-0 47.6 L2.5 47.9 L0 45.6 L2.1 45.7 L0.1 43.7 L2.4 44.1 L0.2 41.6 L3.1 42 L0.5 39.8 L3.9 40.5 L0.7 38.1 L4.2 38.6 L1 35.9 L3.7 36.5 L1.2 33.5 L5.3 34.1 L1.4 31 L5.1 31.8 L1.7 28.2 L5.6 28.9 L2.3 24.9 L8.7 25.6 L2.8 21.7 L9.1 22.5 L3.5 17.5 L9.4 18.4 L4.4 12.9 L16.7 14.3 L7.2 8 L21.7 10 L13.5 2.5"/>
<path vector-effect="non-scaling-stroke" transform="translate(1174.8,275.9) scale(0.85)" d="M-1.3 297.6 L-1.3 272.6 L-1.3 247.6 L-1.3 222.6 L-1.3 197.6 L-1.2 172.6 L-1.2 147.6 L-1.1 122.6 L-0.9 95 L-0.9 95 L-0.6 95 L-0.9 93.2 L-0.5 93.3 L-0.9 91.2 L-0.5 91.3 L-0.8 89.2 L-0.5 89.2 L-0.8 87.4 L-0.4 87.3 L-0.8 85.4 L-0.2 85.7 L-0.8 83.3 L-0.3 83.4 L-0.7 81.4 L-0.1 81.2 L-0.7 79.7 L0.2 80 L-0.7 77.6 L0.2 77.6 L-0.7 75.7 L-0 76 L-0.6 73.7 L0.4 73.6 L-0.6 71.7 L0.3 71.8 L-0.6 69.8 L0.3 70 L-0.5 68 L0.7 68.3 L-0.5 66 L0.7 66.3 L-0.5 64.1 L0.8 64.3 L-0.4 62.3 L1.2 62.2 L-0.4 60.4 L0.9 60.8 L-0.3 58.4 L1.4 58.8 L-0.3 56.4 L1.3 56.7 L-0.2 54.3 L1.1 54.6 L-0.2 52.6 L1.8 52.7 L-0.1 50.6 L1.6 50.9 L-0.1 48.7 L1.5 48.8 L0 46.9 L2.2 47.4 L0.1 44.9 L1.9 45.2 L0.2 43 L3 43.4 L0.3 41 L2.9 41.3 L0.5 39.2 L4.1 39.5 L0.9 37.3 L3.7 37.7 L1 35.2 L4 35.7 L1.3 32.6 L5.2 33.3 L1.5 29.8 L6.2 30.3 L2 27 L6.8 27.7 L2.6 23.5 L7.7 24.3 L3.2 19.8 L8.3 20.3 L3.8 15.3 L11.6 16.2 L5.1 11.2 L16.9 12.5 L13.5 2.5"/>
<path vector-effect="non-scaling-stroke" transform="translate(1176.3,264.1) scale(0.93)" d="M-1.3 285.3 L-1.3 260.3 L-1.3 235.3 L-1.3 210.3 L-1.3 185.3 L-1.2 160.3 L-1.2 135.3 L-1 110.3 L-0.9 95 L-0.9 95 L-0.5 95.2 L-0.9 92.9 L-0.5 93 L-0.9 91 L-0.4 90.8 L-0.8 89.1 L-0.4 89.4 L-0.8 87.2 L-0.2 87.6 L-0.8 85.1 L-0.2 85.3 L-0.8 83.4 L-0.1 83.7 L-0.8 81.5 L-0.2 81.8 L-0.7 79.4 L0.1 79.8 L-0.7 77.4 L0.1 77.6 L-0.7 75.4 L0.4 75.8 L-0.6 73.4 L0.4 73.6 L-0.6 71.4 L0.3 71.4 L-0.6 69.6 L0.4 69.6 L-0.5 67.5 L0.6 67.7 L-0.5 65.7 L1.1 66.1 L-0.4 64 L1.1 63.9 L-0.4 62.1 L1.4 62.2 L-0.4 60.4 L1.3 60.5 L-0.3 58.3 L1.3 58.5 L-0.3 56.3 L1.6 56.5 L-0.2 54.4 L1.3 54.4 L-0.2 52.5 L1.6 52.5 L-0.1 50.5 L2.4 51.1 L-0.1 48.6 L1.7 48.7 L0 46.7 L2.2 46.8 L0.1 44.9 L2.8 45.2 L0.2 42.8 L3.5 43.3 L0.3 40.9 L2.9 41 L0.6 39.1 L3.8 39.5 L0.9 36.9 L4.7 37.4 L1.1 34.5 L4.3 35.3 L1.3 32.1 L4.7 32.4 L1.5 29.6 L4.8 29.8 L2 26.7 L6.9 27.6 L2.6 23.1 L7.8 23.8 L3.2 19.6 L8.4 20.3 L3.7 15.8 L10.2 16.6 L5.1 11.2 L18.9 13.1 L13.5 2.5"/>
<path vector-effect="non-scaling-stroke" transform="translate(1177.8,272.6) scale(0.99)" d="M-1.3 259.8 L-1.3 234.8 L-1.3 209.8 L-1.3 184.8 L-1.2 159.8 L-1.2 134.8 L-1 109.8 L-0.9 95 L-0.9 95 L-0.7 95 L-0.9 93.2 L-0.5 93.3 L-0.9 91.3 L-0.5 91.4 L-0.8 89.2 L-0.6 89.5 L-0.8 87.4 L-0.5 87.3 L-0.8 85.4 L-0.4 85.7 L-0.8 83.4 L-0.3 83.6 L-0.7 81.3 L-0.2 81.4 L-0.7 79.4 L-0.2 79.5 L-0.7 77.6 L-0.2 77.7 L-0.7 75.5 L0.2 75.8 L-0.6 73.6 L0.2 73.6 L-0.6 71.6 L0 71.7 L-0.6 69.6 L0.3 69.6 L-0.5 67.5 L0.2 67.5 L-0.5 65.8 L0.3 66.1 L-0.4 64 L0.8 64.4 L-0.4 62.1 L0.7 62.1 L-0.4 60.1 L0.8 60.4 L-0.3 58.2 L1.1 58.3 L-0.3 56.5 L1.3 56.5 L-0.2 54.6 L1.5 54.8 L-0.2 52.6 L1.1 52.8 L-0.1 50.6 L1.8 51.1 L-0.1 48.8 L1.6 49 L-0 47 L1.6 47.2 L0.1 45 L1.9 45 L0.2 43 L2.1 43.1 L0.3 41 L2.4 41.4 L0.6 39.2 L2.9 39.2 L0.9 37 L3.3 37.5 L1.1 34.7 L3.6 35.2 L1.3 32 L4 32.6 L1.6 29 L4.4 29.7 L2.2 25.7 L6.2 26.3 L2.8 22.3 L8 23 L3.3 18.7 L7.2 19.3 L3.9 14.9 L9.6 15.9 L5.4 10.3 L15 11.4 L13.5 2.5"/>
<path vector-effect="non-scaling-stroke" transform="translate(1179.3,270) scale(0.83)" d="M-1.3 314.3 L-1.3 289.3 L-1.3 264.3 L-1.3 239.3 L-1.3 214.3 L-1.3 189.3 L-1.2 164.3 L-1.2 139.3 L-1.1 114.3 L-0.9 95 L-0.9 95 L-0.7 94.8 L-0.9 93.1 L-0.5 93.1 L-0.9 91.1 L-0.5 91.4 L-0.8 89.2 L-0.5 89.3 L-0.8 87.4 L-0.3 87.7 L-0.8 85.4 L-0.3 85.5 L-0.8 83.3 L-0.2 83.6 L-0.8 81.5 L-0.1 81.7 L-0.7 79.7 L0 79.9 L-0.7 77.7 L0.1 77.6 L-0.7 75.9 L-0.1 76.3 L-0.6 74.2 L0 74.1 L-0.6 72.4 L0.1 72.2 L-0.6 70.3 L0.5 70.6 L-0.5 68.2 L0.7 68.4 L-0.5 66.2 L0.7 66.3 L-0.5 64.1 L0.8 64.6 L-0.4 62.2 L0.7 62.6 L-0.4 60.5 L1 60.7 L-0.3 58.5 L1.2 58.9 L-0.3 56.7 L0.8 57.1 L-0.2 55 L1.4 55 L-0.2 53.2 L1.5 53.3 L-0.1 51.4 L1.8 51.9 L-0.1 49.4 L1.8 49.8 L-0 47.7 L1.9 47.9 L0 45.9 L1.7 46.3 L0.1 43.9 L1.7 44 L0.2 42.1 L2.7 42.6 L0.4 40.2 L2.7 40.5 L0.7 38.1 L3.8 38.4 L1 36 L3.3 36.1 L1.2 33.5 L3.8 34 L1.4 30.8 L4.6 31 L1.8 27.8 L5.6 28.2 L2.4 24.5 L6 25.2 L3 20.8 L7.3 21.5 L3.6 16.5 L9.4 17.4 L4.7 12.2 L15.1 13.5 L13.5 2.5"/>
<path vector-effect="non-scaling-stroke" transform="translate(1182.3,278.4) scale(0.93)" d="M-1.3 271.7 L-1.3 246.7 L-1.3 221.7 L-1.3 196.7 L-1.2 171.7 L-1.2 146.7 L-1.1 121.7 L-0.9 95 L-0.9 95 L-0.6 94.8 L-0.9 93 L-0.5 92.8 L-0.9 91.1 L-0.5 91.4 L-0.8 89.3 L-0.4 89.7 L-0.8 87.4 L-0.3 87.2 L-0.8 85.6 L-0.4 85.8 L-0.8 83.6 L-0.1 83.9 L-0.8 81.7 L-0 81.9 L-0.7 79.7 L0.1 79.6 L-0.7 77.6 L0 77.6 L-0.7 75.9 L0 75.9 L-0.6 74.1 L0.1 74.4 L-0.6 72.3 L0.5 72.6 L-0.6 70.4 L0.7 70.8 L-0.5 68.4 L0.6 68.8 L-0.5 66.5 L0.4 66.9 L-0.5 64.8 L0.8 65.1 L-0.4 62.7 L0.7 63.1 L-0.4 60.8 L1.3 60.9 L-0.3 58.8 L1.4 58.8 L-0.3 56.7 L1 56.9 L-0.2 54.7 L1.8 54.9 L-0.2 52.8 L1.7 52.9 L-0.1 50.7 L2.3 50.9 L-0.1 48.9 L2 49.4 L-0 47.1 L1.8 47.5 L0.1 45.3 L1.9 45.7 L0.1 43.3 L2.3 43.3 L0.3 41.2 L3.5 41.5 L0.5 39.4 L2.7 39.7 L0.9 37.3 L3.9 37.6 L1 35.3 L4.1 35.6 L1.2 32.9 L4.2 33.2 L1.4 30.5 L5.8 30.9 L1.9 27.6 L6.4 28 L2.4 24.7 L7.3 25.2 L3 20.9 L7.4 21.7 L3.5 17.1 L10.6 17.9 L4.4 12.8 L16.3 14.6 L6.7 8.5 L20.6 10.5 L13.5 2.5"/>
<path vector-effect="non-scaling-stroke" transform="translate(1184.1,269.1) scale(0.88)" d="M-1.3 296.5 L-1.3 271.5 L-1.3 246.5 L-1.3 221.5 L-1.3 196.5 L-1.2 171.5 L-1.2 146.5 L-1.1 121.5 L-0.9 95 L-0.9 95 L-0.5 94.9 L-0.9 93 L-0.6 93 L-0.9 91.3 L-0.5 91.2 L-0.8 89.2 L-0.4 89.5 L-0.8 87.4 L-0.3 87.4 L-0.8 85.4 L-0.3 85.2 L-0.8 83.5 L-0 83.6 L-0.8 81.7 L0.1 81.6 L-0.7 79.9 L0.1 80.3 L-0.7 78.1 L0.3 78.2 L-0.7 76.3 L0.2 76.7 L-0.6 74.6 L0.5 74.6 L-0.6 72.8 L0.3 73.2 L-0.6 71 L0.5 71.3 L-0.5 69 L0.9 69.3 L-0.5 67 L0.9 67 L-0.5 65 L1.1 65.1 L-0.4 63.2 L1 63.5 L-0.4 61.4 L1.1 61.7 L-0.4 59.7 L0.9 59.9 L-0.3 57.8 L1.7 58.1 L-0.3 55.9 L1.2 56.2 L-0.2 54 L2.2 54.2 L-0.2 52.1 L2.4 52.6 L-0.1 50.2 L2.1 50.8 L-0 48.2 L2.4 48.2 L0 46.4 L2.4 46.7 L0.1 44.4 L3.2 44.8 L0.2 42.5 L3.3 43.1 L0.3 40.8 L2.7 41.4 L0.6 38.9 L3.4 39.2 L0.9 37 L4 37.6 L1.1 34.9 L4.4 35.5 L1.3 32.6 L4.7 32.9 L1.5 29.6 L6.6 30.2 L2 26.6 L8.1 27.2 L2.6 23.3 L8.1 23.8 L3.1 19.9 L8.7 20.5 L3.7 15.7 L10.8 17 L4.9 11.6 L16 13.5 L13.5 2.5"/>
<path vector-effect="non-scaling-stroke" transform="translate(1185.7,267.9) scale(0.93)" d="M-1.3 281 L-1.3 256 L-1.3 231 L-1.3 206 L-1.3 181 L-1.2 156 L-1.1 131 L-1 106 L-0.9 95 L-0.9 95 L-0.7 95.2 L-0.9 93.1 L-0.6 93.1 L-0.9 91 L-0.6 91.1 L-0.8 89.1 L-0.5 89 L-0.8 87 L-0.4 86.9 L-0.8 85.2 L-0.1 85.6 L-0.8 83.2 L-0.2 83.6 L-0.7 81.4 L0.1 81.4 L-0.7 79.4 L0.1 79.4 L-0.7 77.5 L-0.1 77.4 L-0.7 75.6 L0.3 75.5 L-0.6 73.6 L0.4 73.9 L-0.6 71.6 L0.5 72 L-0.6 69.7 L0.2 69.8 L-0.5 67.9 L0.4 68.2 L-0.5 66.1 L0.8 66 L-0.5 64.3 L0.7 64.7 L-0.4 62.6 L1.1 62.5 L-0.4 60.7 L0.8 61.1 L-0.3 58.8 L1.3 58.9 L-0.3 56.9 L1.4 56.8 L-0.2 54.9 L1.6 55.1 L-0.2 53 L1.4 53.3 L-0.1 51.2 L2.1 51.5 L-0.1 49.2 L1.9 49.7 L-0 47.3 L2.4 47.5 L0.1 45.2 L2.5 45.7 L0.1 43.5 L3.1 44.1 L0.3 41.6 L3.1 42.1 L0.5 39.5 L3 40 L0.8 37.5 L3.4 38.1 L1 35.3 L4.5 35.8 L1.2 33 L4.1 33.5 L1.4 30.2 L5 30.5 L2 27.1 L7.1 28.1 L2.5 23.7 L7.7 24.1 L3.1 20.1 L7.5 20.9 L3.7 16.1 L10.1 16.9 L4.8 12 L17.1 13.7 L13.5 2.5"/>
<path vector-effect="non-scaling-stroke" transform="translate(1193.5,273.4) scale(1.00)" d="M-1.3 256.7 L-1.3 231.7 L-1.3 206.7 L-1.3 181.7 L-1.2 156.7 L-1.1 131.7 L-1 106.7 L-0.9 95 L-0.9 95 L-0.6 95.2 L-0.9 93 L-0.5 93.2 L-0.9 90.9 L-0.5 90.8 L-0.8 89.1 L-0.4 89 L-0.8 87.3 L-0.2 87.3 L-0.8 85.2 L-0.3 85.6 L-0.8 83.4 L-0.2 83.5 L-0.8 81.5 L-0.2 81.3 L-0.7 79.5 L0 79.4 L-0.7 77.5 L0.1 77.4 L-0.7 75.6 L0.1 75.8 L-0.6 73.5 L0.3 73.7 L-0.6 71.7 L0.2 71.7 L-0.6 69.6 L0.5 70 L-0.5 67.7 L0.8 68.1 L-0.5 65.7 L0.7 65.8 L-0.4 63.7 L0.8 63.9 L-0.4 61.8 L1.1 62.3 L-0.4 59.9 L0.8 60.2 L-0.3 57.9 L1.5 58.2 L-0.3 55.9 L1.4 56.5 L-0.2 54.2 L2 54.4 L-0.2 52.2 L2 52.6 L-0.1 50.1 L2.4 50.3 L-0 48.1 L2.4 48.7 L0 46.1 L2.1 46.3 L0.1 44.3 L2.3 44.8 L0.2 42.6 L2.3 43 L0.3 40.6 L3.7 40.9 L0.7 38.6 L3.5 39.2 L0.9 36.7 L3.8 37.2 L1.1 34.6 L4.9 35.1 L1.3 32 L4.1 32.3 L1.5 29.4 L5.9 30.2 L2.1 26.4 L5.9 27.1 L2.6 23.2 L8.6 23.8 L3.2 19.7 L9.8 20.8 L3.8 15.5 L10.7 16.7 L5.2 11 L20.2 12.9 L13.5 2.5"/>
<path vector-effect="non-scaling-stroke" transform="translate(1194.7,265.4) scale(0.80)" d="M-1.3 330 L-1.3 305 L-1.3 280 L-1.3 255 L-1.3 230 L-1.3 205 L-1.3 180 L-1.2 155 L-1.1 130 L-1 105 L-0.9 95 L-0.9 95 L-0.6 95.1 L-0.9 93.2 L-0.5 93 L-0.9 91.5 L-0.5 91.3 L-0.9 89.7 L-0.4 89.6 L-0.8 87.6 L-0.5 87.7 L-0.8 85.7 L-0.4 85.5 L-0.8 83.6 L-0.3 83.6 L-0.8 81.5 L-0.2 81.6 L-0.7 79.8 L-0 79.7 L-0.7 77.7 L-0.1 77.7 L-0.7 75.8 L0.3 75.8 L-0.6 73.7 L0.3 74 L-0.6 71.8 L0.2 72.2 L-0.6 70 L0.3 69.9 L-0.5 68.2 L0.6 68.4 L-0.5 66.4 L0.6 66.4 L-0.5 64.6 L0.9 65.1 L-0.4 62.8 L0.5 62.8 L-0.4 61.1 L0.8 61.5 L-0.3 59 L0.8 59 L-0.3 57.2 L0.9 57.6 L-0.2 55.1 L1.3 55.2 L-0.2 53.3 L1.5 53.6 L-0.1 51.3 L1.8 51.8 L-0.1 49.6 L1.9 50 L-0 47.9 L2 47.9 L0 46 L2.1 46.4 L0.1 44.2 L2.8 44.5 L0.2 42.3 L3.1 42.4 L0.4 40.2 L2.7 40.7 L0.7 38.4 L4.2 38.6 L1 36.3 L4.8 36.8 L1.1 34 L4.1 34.3 L1.3 31.4 L5.4 31.9 L1.7 28.4 L6.6 28.9 L2.3 25.3 L7 26 L2.8 21.9 L6.9 22.4 L3.4 18 L10.7 19.1 L3.9 14.2 L12.2 15.5 L5.7 9.8 L21.9 11.8 L13.5 2.5"/>
<path vector-effect="non-scaling-stroke" transform="translate(1198.6,276.3) scale(0.94)" d="M-1.3 270.4 L-1.3 245.4 L-1.3 220.4 L-1.3 195.4 L-1.2 170.4 L-1.2 145.4 L-1.1 120.4 L-0.9 95 L-0.9 95 L-0.5 95.3 L-0.9 93.2 L-0.5 93 L-0.9 91.3 L-0.4 91.3 L-0.9 89.5 L-0.4 89.9 L-0.8 87.8 L-0.2 88.2 L-0.8 85.8 L-0.1 85.8 L-0.8 83.8 L-0.1 84.1 L-0.8 82.1 L-0.2 82.2 L-0.7 80.2 L0.2 80.6 L-0.7 78.1 L-0.1 77.9 L-0.7 76.3 L0.4 76.7 L-0.6 74.4 L0.3 74.7 L-0.6 72.6 L0.5 72.9 L-0.6 70.9 L0.5 71.1 L-0.5 69 L0.6 68.9 L-0.5 67.1 L0.5 67.3 L-0.5 65.2 L0.7 65.6 L-0.4 63.2 L1.2 63.3 L-0.4 61.4 L0.9 61.5 L-0.3 59.5 L1.2 59.8 L-0.3 57.6 L1.6 58.1 L-0.3 55.7 L1.8 55.8 L-0.2 53.9 L1.5 54.2 L-0.1 51.9 L1.6 52.3 L-0.1 50.1 L2.4 50.6 L-0 48.1 L1.9 48.5 L0 46.2 L2.2 46.7 L0.1 44.3 L3.2 44.9 L0.2 42.4 L2.7 42.8 L0.4 40.4 L2.8 40.8 L0.7 38.6 L3.9 38.8 L1 36.4 L5.2 36.9 L1.1 34.3 L5.2 34.6 L1.3 31.7 L5.4 32.1 L1.6 28.9 L5.1 29.1 L2.2 25.8 L7.8 26.8 L2.7 22.7 L7.5 23.2 L3.3 18.8 L9.2 19.8 L3.9 14.5 L12.1 15.5 L5.8 9.5 L20.9 11.9 L13.5 2.5"/>
<path vector-effect="non-scaling-stroke" transform="translate(1199.6,267.6) scale(0.87)" d="M-1.3 302.6 L-1.3 277.6 L-1.3 252.6 L-1.3 227.6 L-1.3 202.6 L-1.3 177.6 L-1.2 152.6 L-1.1 127.6 L-1 102.6 L-0.9 95 L-0.9 95 L-0.5 95.1 L-0.9 93.1 L-0.6 93.4 L-0.9 91.3 L-0.5 91.3 L-0.8 89.3 L-0.3 89.5 L-0.8 87.5 L-0.4 87.5 L-0.8 85.7 L-0.3 85.9 L-0.8 83.9 L-0 84 L-0.8 82 L-0.1 82 L-0.7 80 L0.1 80.2 L-0.7 78.3 L-0.1 78.4 L-0.7 76.5 L0.2 76.6 L-0.6 74.6 L0.3 74.6 L-0.6 72.7 L0.2 72.7 L-0.6 70.6 L0.5 70.5 L-0.5 68.6 L0.4 68.4 L-0.5 66.7 L0.8 67 L-0.5 64.7 L0.9 64.7 L-0.4 62.8 L1.2 63 L-0.4 60.7 L0.8 61 L-0.3 59 L1.6 59.3 L-0.3 56.9 L1.1 57.2 L-0.2 55 L1.2 55 L-0.2 53.1 L2.1 53.4 L-0.1 51 L1.8 51 L-0.1 49.1 L2.6 49.3 L-0 47.2 L2.3 47.7 L0.1 45.4 L2.3 45.7 L0.1 43.7 L3.2 44.2 L0.2 41.9 L2.5 42.3 L0.4 40.2 L2.7 40.3 L0.7 38.3 L4.4 38.7 L1 36.3 L3.5 36.4 L1.2 33.9 L4.2 34.5 L1.4 31.3 L5.4 32 L1.7 28.2 L6.6 29.1 L2.3 25.4 L7.1 26.4 L2.8 21.9 L8.6 22.7 L3.4 18 L9 18.5 L4.1 13.5 L10.8 14.4 L6.3 8.8 L18.9 10.3 L13.5 2.5"/>
<path vector-effect="non-scaling-stroke" transform="translate(1207.3,268.5) scale(0.93)" d="M-1.3 250.2 L-1.3 225.2 L-1.3 200.2 L-1.2 175.2 L-1.2 150.2 L-1.1 125.2 L-1 100.2 L-0.9 95 L-0.9 95 L-0.6 94.9 L-0.9 92.9 L-0.6 93 L-0.9 91.2 L-0.5 91.1 L-0.8 89.2 L-0.4 89.3 L-0.8 87.2 L-0.4 87 L-0.8 85.4 L-0.4 85.5 L-0.8 83.6 L-0.2 83.4 L-0.8 81.6 L-0.2 81.6 L-0.7 79.6 L-0.2 79.9 L-0.7 77.8 L-0 77.6 L-0.7 76 L0.3 76.1 L-0.6 74.1 L0.2 74.2 L-0.6 72.3 L0.1 72.7 L-0.6 70.6 L0.4 70.7 L-0.5 68.7 L0.3 68.8 L-0.5 67 L0.6 67 L-0.5 65.2 L0.5 65.3 L-0.4 63.4 L0.6 63.4 L-0.4 61.4 L0.9 61.5 L-0.3 59.3 L0.7 59.5 L-0.3 57.4 L1.1 57.6 L-0.3 55.6 L1 55.5 L-0.2 53.6 L1.3 53.6 L-0.1 51.8 L1.9 51.9 L-0.1 49.9 L1.6 50 L-0 48 L2.2 48.4 L0 46 L1.7 46.2 L0.1 44.3 L1.9 44.7 L0.2 42.4 L2.5 42.9 L0.3 40.7 L3.2 41 L0.6 38.7 L3.7 38.9 L0.9 36.7 L3 36.8 L1.1 34.7 L4.8 35.4 L1.3 32.4 L5.3 33.1 L1.5 30 L5.3 30.5 L2 27 L5.7 27.6 L2.5 23.7 L7.5 24.2 L3.1 20.3 L8.3 20.7 L3.6 16.4 L9.4 17.1 L4.9 11.7 L15.3 13 L13.5 2.5"/>
<path vector-effect="non-scaling-stroke" transform="translate(1208.3,275.6) scale(0.97)" d="M-1.3 262.9 L-1.3 237.9 L-1.3 212.9 L-1.3 187.9 L-1.2 162.9 L-1.2 137.9 L-1 112.9 L-0.9 95 L-0.9 95 L-0.6 94.9 L-0.9 93.2 L-0.6 93 L-0.9 91.4 L-0.6 91.6 L-0.9 89.6 L-0.5 89.8 L-0.8 87.8 L-0.5 87.7 L-0.8 86 L-0.4 85.8 L-0.8 84 L-0.2 84.3 L-0.8 81.9 L-0.1 81.9 L-0.7 80.1 L-0.2 80.3 L-0.7 78.1 L0.1 78.1 L-0.7 76.1 L-0.1 76.2 L-0.6 74.3 L0.1 74.1 L-0.6 72.4 L0.4 72.6 L-0.6 70.4 L0.5 70.5 L-0.5 68.4 L0.2 68.6 L-0.5 66.3 L0.6 66.4 L-0.5 64.5 L0.3 64.9 L-0.4 62.6 L0.8 63 L-0.4 60.9 L0.8 60.8 L-0.3 59 L1.1 59.5 L-0.3 57.2 L0.9 57.3 L-0.2 55.4 L1.6 55.9 L-0.2 53.7 L1.1 54.1 L-0.1 51.7 L1.6 51.7 L-0.1 49.7 L1.4 50.2 L-0 47.9 L1.9 47.9 L0 46.1 L2.2 46.2 L0.1 44.4 L2.2 44.8 L0.2 42.5 L1.9 42.8 L0.3 40.7 L2.6 41 L0.6 38.9 L2.8 39.2 L0.9 37 L3.6 37.3 L1.1 34.6 L4.6 35.2 L1.3 32.1 L5.1 32.8 L1.5 29.6 L4.7 29.8 L2 26.9 L6.3 27.4 L2.5 23.9 L7.4 24.7 L3.1 19.9 L8 20.4 L3.7 15.8 L10.9 16.8 L5.1 11.1 L13.1 12.1 L13.5 2.5"/>
<path vector-effect="non-scaling-stroke" transform="translate(1212.5,270.2) scale(0.79)" d="M-1.3 330.1 L-1.3 305.1 L-1.3 280.1 L-1.3 255.1 L-1.3 230.1 L-1.3 205.1 L-1.3 180.1 L-1.2 155.1 L-1.1 130.1 L-1 105.1 L-0.9 95 L-0.9 95 L-0.6 94.9 L-0.9 93 L-0.5 92.8 L-0.9 91.3 L-0.5 91.5 L-0.8 89.2 L-0.5 89.4 L-0.8 87.3 L-0.4 87.5 L-0.8 85.4 L-0.3 85.2 L-0.8 83.7 L-0 83.5 L-0.8 81.8 L-0.2 81.6 L-0.7 79.9 L0 79.9 L-0.7 78.1 L-0.1 78.5 L-0.7 76.4 L0.3 76.4 L-0.6 74.4 L0.1 74.2 L-0.6 72.3 L0.5 72.7 L-0.6 70.4 L0.7 70.8 L-0.5 68.5 L0.6 68.5 L-0.5 66.4 L0.6 66.6 L-0.5 64.7 L0.9 64.6 L-0.4 62.9 L0.7 63.1 L-0.4 60.8 L1.1 61.2 L-0.3 58.8 L1.5 59.3 L-0.3 57 L1.3 57.4 L-0.2 55.3 L1.7 55.5 L-0.2 53.2 L1.7 53.3 L-0.1 51.5 L1.4 51.4 L-0.1 49.7 L2.4 50.3 L-0 47.8 L2.4 48 L0 45.9 L2.5 46.1 L0.1 44.1 L3.1 44.5 L0.2 42.2 L3.1 42.3 L0.4 40.3 L3.5 40.5 L0.7 38.3 L3.6 38.6 L1 36 L4.8 36.6 L1.2 33.5 L4 33.9 L1.4 31 L4.7 31.8 L1.7 28.4 L6.6 29 L2.2 25.5 L8 26.4 L2.8 22 L7.3 22.5 L3.4 18.5 L8.3 19 L3.9 14.3 L12.3 15.6 L5.7 9.7 L19.1 11.8 L13.5 2.5"/>
<path vector-effect="non-scaling-stroke" transform="translate(1213.5,279.3) scale(0.80)" d="M-1.3 312.1 L-1.3 287.1 L-1.3 262.1 L-1.3 237.1 L-1.3 212.1 L-1.3 187.1 L-1.2 162.1 L-1.2 137.1 L-1 112.1 L-0.9 95 L-0.9 95 L-0.6 95.2 L-0.9 93 L-0.4 93.1 L-0.9 90.9 L-0.4 90.7 L-0.8 89.2 L-0.5 89.1 L-0.8 87.2 L-0.2 87.6 L-0.8 85.2 L-0.1 85.4 L-0.8 83.2 L-0.1 83 L-0.8 81.4 L-0.1 81.5 L-0.7 79.4 L-0.1 79.5 L-0.7 77.4 L0.2 77.8 L-0.7 75.4 L0.5 75.7 L-0.6 73.3 L0.2 73.6 L-0.6 71.3 L0.4 71.7 L-0.6 69.5 L0.7 69.4 L-0.5 67.5 L0.5 67.5 L-0.5 65.4 L0.9 65.4 L-0.4 63.6 L1.2 64 L-0.4 61.8 L1.2 62.1 L-0.4 59.8 L1.1 60.2 L-0.3 57.8 L1.6 57.9 L-0.3 55.8 L1.8 56 L-0.2 54 L1.8 54.2 L-0.2 52.1 L1.5 52.4 L-0.1 50 L2.2 50.1 L-0 47.9 L2.6 48.3 L0 46.2 L2.4 46.7 L0.1 44.3 L2.3 44.9 L0.2 42.4 L3.4 42.7 L0.4 40.4 L3.3 40.9 L0.6 38.6 L3.2 39.3 L0.9 36.6 L4.6 37.3 L1.1 34.3 L5.4 34.7 L1.3 31.9 L4.5 32.2 L1.6 29.1 L5.1 29.5 L2.2 25.7 L6.2 26 L2.8 22.2 L9.3 23.1 L3.3 18.5 L9.6 19.5 L3.9 14.2 L10.5 15.3 L5.6 10 L22.7 12.6 L13.5 2.5"/>
<path vector-effect="non-scaling-stroke" transform="translate(1224.9,271.3) scale(0.85)" d="M-1.3 303.3 L-1.3 278.3 L-1.3 253.3 L-1.3 228.3 L-1.3 203.3 L-1.3 178.3 L-1.2 153.3 L-1.1 128.3 L-1 103.3 L-0.9 95 L-0.9 95 L-0.6 95 L-0.9 93.2 L-0.4 93.4 L-0.9 91.2 L-0.4 91.2 L-0.8 89.3 L-0.3 89.2 L-0.8 87.4 L-0.2 87.3 L-0.8 85.3 L-0.1 85.6 L-0.8 83.5 L-0.1 83.8 L-0.8 81.5 L0.1 81.8 L-0.7 79.6 L0 79.5 L-0.7 77.7 L-0 77.7 L-0.7 76 L0.3 76.3 L-0.6 74.1 L0.2 74.2 L-0.6 72.1 L0.2 72 L-0.6 70 L0.4 70 L-0.5 68.3 L0.5 68.5 L-0.5 66.4 L1 66.8 L-0.5 64.4 L0.8 64.6 L-0.4 62.4 L1.3 62.7 L-0.4 60.6 L1 60.9 L-0.3 58.6 L1 58.8 L-0.3 56.9 L1.1 57.1 L-0.2 55 L2 55.5 L-0.2 52.9 L2.1 53.4 L-0.1 50.9 L2.3 51.1 L-0.1 49.2 L2.6 49.3 L-0 47.4 L2.4 47.5 L0.1 45.5 L2.3 45.8 L0.1 43.4 L2.2 43.6 L0.3 41.4 L3.6 42.1 L0.5 39.6 L4.2 39.8 L0.8 37.5 L3.8 37.8 L1.1 35.1 L4 35.3 L1.2 32.7 L5.7 33.4 L1.5 30.1 L5.7 30.6 L2 27 L7.2 27.5 L2.5 24 L7.1 24.7 L3.1 20.2 L10.6 21.5 L3.6 16.6 L10.8 17.9 L4.5 12.6 L12.9 13.5 L13.5 2.5"/>
<path vector-effect="non-scaling-stroke" transform="translate(1226.3,278.3) scale(0.76)" d="M-1.3 329.2 L-1.3 304.2 L-1.3 279.2 L-1.3 254.2 L-1.3 229.2 L-1.3 204.2 L-1.3 179.2 L-1.2 154.2 L-1.1 129.2 L-1 104.2 L-0.9 95 L-0.9 95 L-0.6 95 L-0.9 93.1 L-0.5 93.3 L-0.9 91.1 L-0.5 91 L-0.8 89.1 L-0.3 89.3 L-0.8 87.3 L-0.2 87.3 L-0.8 85.5 L-0.3 85.7 L-0.8 83.8 L-0.2 83.7 L-0.8 82 L0 81.9 L-0.7 80 L-0 80.3 L-0.7 78 L0.1 78.4 L-0.7 76.2 L0.1 76.2 L-0.6 74.2 L0.3 74.2 L-0.6 72.2 L0.3 72.5 L-0.6 70.4 L0.4 70.5 L-0.5 68.3 L0.7 68.6 L-0.5 66.4 L0.5 66.6 L-0.5 64.3 L1 64.8 L-0.4 62.5 L1 62.9 L-0.4 60.8 L1.2 60.9 L-0.3 59 L1.1 59.4 L-0.3 57 L1.4 57.3 L-0.2 54.9 L2.2 55.5 L-0.2 53.2 L1.6 53.7 L-0.1 51.3 L1.9 51.5 L-0.1 49.3 L2.1 49.6 L-0 47.5 L2.9 47.6 L0 45.8 L2.7 46.2 L0.1 43.8 L2.7 43.9 L0.2 41.9 L3.7 42.6 L0.4 39.9 L4.3 40.4 L0.7 38.1 L3.8 38.7 L1 35.9 L4.3 36.5 L1.2 33.3 L5.3 33.6 L1.4 30.9 L4.8 31.1 L1.8 27.8 L6 28.3 L2.3 24.9 L9 26.1 L2.8 21.8 L8.2 22.2 L3.4 18.3 L9.2 18.9 L4 14 L12.8 15.1 L5.8 9.5 L23.3 12 L13.5 2.5"/>
<path vector-effect="non-scaling-stroke" transform="translate(1227.5,272) scale(0.84)" d="M-1.3 308.1 L-1.3 283.1 L-1.3 258.1 L-1.3 233.1 L-1.3 208.1 L-1.3 183.1 L-1.2 158.1 L-1.1 133.1 L-1 108.1 L-0.9 95 L-0.9 95 L-0.7 95.1 L-0.9 93.1 L-0.6 93 L-0.9 91.2 L-0.4 91.3 L-0.8 89.3 L-0.4 89.4 L-0.8 87.4 L-0.4 87.3 L-0.8 85.3 L-0.3 85.1 L-0.8 83.3 L-0.2 83.2 L-0.7 81.3 L-0.2 81.6 L-0.7 79.3 L-0.2 79.7 L-0.7 77.6 L0.1 77.8 L-0.7 75.7 L0.2 75.7 L-0.6 74 L-0 74.2 L-0.6 72 L0.1 72.3 L-0.6 70.1 L0.3 70.3 L-0.5 68.3 L0.6 68.6 L-0.5 66.2 L0.4 66 L-0.5 64.2 L0.5 64.1 L-0.4 62.3 L1 62.3 L-0.4 60.4 L0.9 60.7 L-0.3 58.3 L1.1 58.7 L-0.3 56.3 L0.9 56.6 L-0.2 54.6 L1 55 L-0.2 52.7 L1.7 52.6 L-0.1 50.6 L1.2 50.8 L-0.1 48.7 L1.4 49 L0 47 L2.3 47.4 L0.1 45 L1.8 45.5 L0.1 43.3 L2.6 43.7 L0.3 41.6 L2.5 41.7 L0.5 39.7 L3.3 40.2 L0.8 37.8 L3.8 38.3 L1 35.7 L3.1 35.9 L1.2 33.2 L3.6 33.7 L1.4 30.5 L3.9 30.9 L1.8 27.9 L5.5 28.1 L2.4 24.8 L6.8 25.5 L2.9 21.2 L7.8 22.1 L3.5 17.6 L9 18.3 L4.3 13 L12.3 13.9 L13.5 2.5"/>
<path vector-effect="non-scaling-stroke" transform="translate(1228.5,276.1) scale(0.85)" d="M-1.3 297.3 L-1.3 272.3 L-1.3 247.3 L-1.3 222.3 L-1.3 197.3 L-1.2 172.3 L-1.2 147.3 L-1.1 122.3 L-0.9 95 L-0.9 95 L-0.6 94.8 L-0.9 93.2 L-0.6 93.4 L-0.9 91.5 L-0.6 91.4 L-0.9 89.6 L-0.5 89.9 L-0.8 87.8 L-0.5 88 L-0.8 86.1 L-0.3 86.3 L-0.8 84.2 L-0.3 84.2 L-0.8 82.2 L-0.2 82.2 L-0.7 80.4 L-0.3 80.4 L-0.7 78.4 L-0.1 78.5 L-0.7 76.4 L-0.1 76.6 L-0.6 74.6 L0 74.9 L-0.6 72.7 L0.1 72.6 L-0.6 70.9 L0.2 71.2 L-0.5 68.9 L0.3 69.3 L-0.5 67.1 L0.2 67.4 L-0.5 65 L0.5 65.3 L-0.4 63.3 L0.6 63.2 L-0.4 61.4 L0.5 61.3 L-0.3 59.4 L0.6 59.8 L-0.3 57.7 L0.7 57.7 L-0.3 55.8 L1.2 55.8 L-0.2 53.9 L1 54.1 L-0.1 51.9 L1.1 52.1 L-0.1 50.1 L1.6 50.2 L-0 48.3 L1.5 48.3 L0 46.6 L2.2 46.9 L0.1 44.8 L2.3 44.9 L0.2 43 L2 43.3 L0.3 41.2 L2.7 41.7 L0.5 39.4 L2.6 39.4 L0.9 37.3 L3.9 38 L1 35.2 L3.2 35.6 L1.2 32.7 L4 33.4 L1.5 29.9 L5.1 30.7 L2 26.8 L6.2 27.5 L2.6 23.3 L7.5 23.7 L3.1 19.8 L7.6 20.5 L3.7 16.1 L9.8 17.1 L4.9 11.5 L14.3 12.9 L13.5 2.5"/>
<path vector-effect="non-scaling-stroke" transform="translate(1159.4,272.6) scale(0.93)" d="M-1.2 164.8 L-1.2 139.8 L-1.1 114.8 L-0.9 95 L-0.9 95 L-0.6 95.2 L-0.9 93 L-0.6 93.2 L-0.9 91.3 L-0.6 91.2 L-0.9 89.5 L-0.5 89.4 L-0.8 87.7 L-0.3 87.7 L-0.8 85.8 L-0.2 86.1 L-0.8 83.9 L-0.2 84.3 L-0.8 81.8 L-0 81.7 L-0.7 79.9 L-0.2 79.7 L-0.7 78 L-0.2 77.9 L-0.7 76.2 L0.3 76.5 L-0.6 74.3 L0.3 74.3 L-0.6 72.2 L0.3 72.7 L-0.6 70.3 L0.6 70.8 L-0.5 68.4 L0.5 68.3 L-0.5 66.5 L0.8 66.7 L-0.5 64.6 L0.6 64.9 L-0.4 62.8 L1 63.1 L-0.4 60.8 L0.6 61.1 L-0.3 58.8 L1.1 58.9 L-0.3 56.8 L1 57 L-0.2 54.9 L1.6 55.2 L-0.2 53.1 L1.4 53.3 L-0.1 51.4 L1.4 51.6 L-0.1 49.6 L2 49.9 L-0 47.6 L2 48.2 L0 45.8 L2 45.8 L0.1 43.9 L2.5 44.4 L0.2 41.8 L2.8 42 L0.4 40.1 L2.7 40.4 L0.7 38.3 L3.6 38.7 L1 36.3 L4 36.8 L1.2 33.7 L4.1 34.1 L1.4 31.3 L4.4 31.8 L1.7 28.2 L5.9 28.9 L2.3 25.3 L7.1 26.2 L2.8 21.9 L6.8 22.4 L3.4 17.9 L9.3 19 L4.2 13.3 L11.6 14.4 L6.2 8.9 L21.7 10.9 L13.5 2.5"/>
<path vector-effect="non-scaling-stroke" transform="translate(1183,273.1) scale(0.76)" d="M-1.2 150.8 L-1.1 125.8 L-1 100.8 L-0.9 95 L-0.9 95 L-0.6 94.9 L-0.9 92.9 L-0.5 92.8 L-0.9 91.2 L-0.5 91 L-0.8 89.3 L-0.5 89.5 L-0.8 87.5 L-0.5 87.3 L-0.8 85.4 L-0.3 85.6 L-0.8 83.5 L-0.1 83.8 L-0.8 81.5 L-0.2 81.4 L-0.7 79.7 L0.1 79.6 L-0.7 77.9 L0.2 77.9 L-0.7 76 L-0 75.8 L-0.6 74.1 L0.1 73.9 L-0.6 72 L0.5 72.1 L-0.6 70.1 L0.3 70.1 L-0.5 68.1 L0.4 68 L-0.5 66.1 L0.4 66 L-0.5 64.1 L0.9 64.2 L-0.4 62.3 L0.7 62.5 L-0.4 60.4 L0.8 60.6 L-0.3 58.5 L0.8 58.3 L-0.3 56.4 L1.1 56.7 L-0.2 54.3 L1.4 54.5 L-0.2 52.3 L1.3 52.6 L-0.1 50.3 L2.2 50.9 L-0 48.3 L2.1 48.5 L0 46.3 L2.3 46.9 L0.1 44.5 L2.7 44.7 L0.2 42.6 L2.4 43.1 L0.3 40.8 L2.3 41.1 L0.6 38.8 L2.8 39 L0.9 36.7 L4.2 36.9 L1.1 34.5 L3.9 35.2 L1.3 32.1 L4.3 32.5 L1.5 29.6 L4.8 29.9 L2 26.7 L6.6 27.3 L2.5 23.7 L7.5 24.2 L3.1 20.4 L7.4 21.1 L3.6 16.4 L9.2 17.3 L4.9 11.6 L18 13.4 L13.5 2.5"/>
<path vector-effect="non-scaling-stroke" transform="translate(1186.3,276.1) scale(0.76)" d="M-1.2 142.6 L-1.1 117.6 L-0.9 95 L-0.9 95 L-0.6 94.9 L-0.9 93 L-0.6 93.2 L-0.9 91 L-0.5 91.1 L-0.8 89.2 L-0.5 89 L-0.8 87.4 L-0.4 87.3 L-0.8 85.4 L-0.2 85.7 L-0.8 83.5 L-0.3 83.5 L-0.8 81.5 L-0.1 81.5 L-0.7 79.7 L0.1 79.5 L-0.7 78 L0.1 77.9 L-0.7 76.2 L-0 76.2 L-0.6 74.5 L0.1 74.4 L-0.6 72.7 L0.4 73 L-0.6 70.8 L0.4 71 L-0.5 68.9 L0.4 69.2 L-0.5 67.2 L0.7 67.4 L-0.5 65.4 L0.5 65.4 L-0.4 63.6 L0.6 63.6 L-0.4 61.6 L1.1 61.9 L-0.4 59.8 L0.8 60.3 L-0.3 58 L1 58.3 L-0.3 56.2 L0.9 56.3 L-0.2 54.2 L1.3 54.2 L-0.2 52.3 L1.8 52.7 L-0.1 50.5 L1.4 50.8 L-0 48.5 L2.2 48.7 L0 46.5 L2.6 46.7 L0.1 44.4 L2.4 44.6 L0.2 42.4 L3 42.8 L0.3 40.7 L2.7 41.2 L0.6 38.7 L3.4 39 L0.9 36.8 L4 37.2 L1.1 34.4 L4 34.9 L1.3 31.8 L4.6 32.3 L1.6 28.8 L4.9 29.5 L2.2 26 L6.8 26.4 L2.7 22.9 L6.4 23.7 L3.2 19.2 L8 19.8 L3.9 14.7 L9.8 15.8 L5.3 10.6 L18.6 12.3 L13.5 2.5"/>
<path vector-effect="non-scaling-stroke" transform="translate(1225.5,273.3) scale(0.71)" d="M-1.2 145.3 L-1.1 120.3 L-0.9 95 L-0.9 95 L-0.6 94.8 L-0.9 93 L-0.5 93.1 L-0.9 91.1 L-0.4 91 L-0.8 89.2 L-0.4 89.5 L-0.8 87.4 L-0.2 87.2 L-0.8 85.6 L-0.2 85.6 L-0.8 83.9 L-0.3 83.8 L-0.8 82 L-0.1 82.2 L-0.7 79.9 L0 79.8 L-0.7 78.2 L-0 78.2 L-0.7 76.1 L0.3 76.3 L-0.6 74.1 L0.2 73.9 L-0.6 72.1 L0.5 72.4 L-0.6 70.3 L0.5 70.4 L-0.5 68.4 L0.4 68.7 L-0.5 66.3 L0.8 66.3 L-0.5 64.3 L1 64.6 L-0.4 62.4 L0.6 62.3 L-0.4 60.4 L0.8 60.8 L-0.3 58.3 L1.4 58.5 L-0.3 56.5 L1.3 56.9 L-0.2 54.5 L1.1 54.9 L-0.2 52.5 L2 53.1 L-0.1 50.6 L1.4 51.1 L-0.1 48.9 L1.8 49 L-0 47.1 L2.6 47.7 L0.1 45.4 L2.2 45.9 L0.1 43.6 L2 43.6 L0.2 41.7 L3.3 42.1 L0.5 39.8 L2.8 40 L0.7 38 L4.4 38.4 L1 35.9 L4.3 36.6 L1.2 33.5 L4.4 33.8 L1.4 30.8 L4.2 31 L1.7 28.2 L5.2 28.6 L2.3 25 L8 26 L2.8 21.8 L7.7 22.5 L3.5 17.7 L10.5 18.8 L4.3 13.1 L14.9 14.4 L6.7 8.5 L19.9 10.5 L13.5 2.5"/>
<path vector-effect="non-scaling-stroke" transform="translate(1168.3,270.9) scale(0.96)" d="M-0.9 89.6 L-0.8 87.6 L-0.8 87.6 L-0.5 87.5 L-0.8 85.6 L-0.3 86 L-0.8 83.8 L-0.4 83.6 L-0.8 82 L-0.2 82.1 L-0.7 80.1 L-0.3 80.3 L-0.7 78.3 L0.1 78.2 L-0.7 76.3 L0.1 76.6 L-0.6 74.3 L0.2 74.4 L-0.6 72.3 L0.2 72.5 L-0.6 70.4 L0.2 70.4 L-0.5 68.6 L0.5 68.8 L-0.5 66.8 L0.6 66.7 L-0.5 65.1 L0.6 65.3 L-0.4 63.1 L0.7 63.4 L-0.4 61.2 L0.8 61.4 L-0.3 59.4 L1.1 59.8 L-0.3 57.6 L0.9 58 L-0.3 55.6 L1.4 55.9 L-0.2 53.7 L1 54.2 L-0.2 52 L1.3 52.4 L-0.1 50.2 L1.7 50.7 L-0 48.2 L1.9 48.3 L0 46.3 L2.2 46.5 L0.1 44.3 L2 44.5 L0.2 42.4 L2.2 43 L0.3 40.7 L2.1 41 L0.6 38.6 L2.7 38.8 L0.9 36.6 L4.2 36.8 L1.1 34.3 L3.7 34.8 L1.3 31.6 L5.1 31.9 L1.6 28.9 L5 29.5 L2.2 26 L5.7 26.8 L2.6 23 L7.4 23.8 L3.2 19.2 L8.7 19.8 L3.8 15.3 L10.2 16 L5.2 10.9 L16.7 12.6 L13.5 2.5"/>
<path vector-effect="non-scaling-stroke" transform="translate(1223.4,275.2) scale(0.99)" d="M-1 111.5 L-0.9 95 L-0.9 95 L-0.6 95 L-0.9 93 L-0.5 93 L-0.9 91.2 L-0.5 91 L-0.8 89.1 L-0.3 89.1 L-0.8 87.3 L-0.2 87.1 L-0.8 85.5 L-0.3 85.5 L-0.8 83.7 L-0.2 83.7 L-0.8 82 L0.1 82.2 L-0.7 80 L0.1 80.3 L-0.7 78 L0.1 77.8 L-0.7 76.1 L0.3 76.2 L-0.6 74.1 L0.5 74.2 L-0.6 72.1 L0.2 72.4 L-0.6 70.2 L0.7 70.2 L-0.5 68.3 L1 68.6 L-0.5 66.5 L1.1 66.5 L-0.5 64.8 L1.2 65.1 L-0.4 62.9 L1.2 62.9 L-0.4 60.9 L1.3 61.2 L-0.3 59.1 L1.2 59.3 L-0.3 57 L1.5 57.6 L-0.2 55.2 L1.3 55.7 L-0.2 53.2 L1.8 53.5 L-0.1 51.5 L2.3 51.6 L-0.1 49.5 L2.3 50 L-0 47.5 L2.9 47.9 L0.1 45.5 L2.9 45.9 L0.1 43.4 L2.6 43.8 L0.3 41.5 L3.6 42.2 L0.5 39.7 L3.5 40 L0.8 37.7 L4.5 38.1 L1 35.4 L5.2 36 L1.2 33 L4.6 33.6 L1.4 30.6 L4.9 30.9 L1.8 27.7 L6.5 28.3 L2.4 24.6 L7.6 25.3 L3 20.8 L8.9 21.9 L3.6 16.8 L11.2 17.7 L4.6 12.3 L17.8 14.3 L13.5 2.5"/>
<path vector-effect="non-scaling-stroke" transform="translate(1219.9,275.2) scale(0.73)" d="M-1.2 163.3 L-1.2 138.3 L-1.1 113.3 L-0.9 95 L-0.9 95 L-0.6 95.2 L-0.9 93.2 L-0.5 93.5 L-0.9 91.4 L-0.5 91.7 L-0.9 89.5 L-0.4 89.4 L-0.8 87.6 L-0.3 87.6 L-0.8 85.7 L-0.2 86 L-0.8 83.7 L-0.2 83.8 L-0.8 81.9 L0.1 81.8 L-0.7 79.9 L-0 79.7 L-0.7 78 L0.3 78.3 L-0.7 76.1 L0.5 76.2 L-0.6 74.1 L0.3 74.2 L-0.6 72.1 L0.4 72.3 L-0.6 70.3 L0.3 70.3 L-0.5 68.3 L0.9 68.5 L-0.5 66.3 L1.1 66.8 L-0.5 64.3 L1.2 64.4 L-0.4 62.3 L1.2 62.7 L-0.4 60.3 L1.4 60.8 L-0.3 58.4 L1.8 58.6 L-0.3 56.6 L1.2 56.7 L-0.2 54.7 L1.7 54.8 L-0.2 52.7 L1.8 53.1 L-0.1 50.8 L1.8 50.8 L-0.1 49 L2.5 49.3 L-0 47.1 L1.9 47.4 L0.1 45.1 L2.9 45.5 L0.1 43.3 L3.1 43.9 L0.3 41.2 L3.2 41.4 L0.5 39.4 L3.7 39.6 L0.8 37.6 L5 38.2 L1 35.6 L5.1 36.1 L1.2 33.2 L4.9 33.7 L1.4 30.8 L4.6 31.1 L1.7 28.2 L6.9 28.9 L2.3 25.3 L8.3 26.2 L2.8 22 L8.3 22.7 L3.3 18.5 L8.3 19.2 L4 14.1 L11.8 15.3 L6.1 9 L19.4 11 L13.5 2.5"/>
<path vector-effect="non-scaling-stroke" transform="translate(1224.1,272.9) scale(0.77)" d="M-1.3 181.6 L-1.2 156.6 L-1.1 131.6 L-1 106.6 L-0.9 95 L-0.9 95 L-0.6 94.8 L-0.9 93.1 L-0.6 92.9 L-0.9 91.2 L-0.4 91.2 L-0.9 89.4 L-0.5 89.3 L-0.8 87.4 L-0.3 87.4 L-0.8 85.6 L-0.3 85.5 L-0.8 83.8 L-0.1 84 L-0.8 81.8 L-0.2 81.7 L-0.7 79.7 L-0.2 79.9 L-0.7 77.9 L0.1 77.9 L-0.7 76 L0.2 76.3 L-0.6 74.2 L0 74.4 L-0.6 72.2 L0.4 72.5 L-0.6 70.4 L0.5 70.5 L-0.5 68.4 L0.7 68.5 L-0.5 66.4 L0.8 66.8 L-0.5 64.6 L0.8 64.7 L-0.4 62.8 L0.7 62.9 L-0.4 60.8 L1.3 61.1 L-0.3 58.9 L0.9 58.8 L-0.3 57.1 L1.3 57.3 L-0.2 55.3 L1.4 55.7 L-0.2 53.5 L1.6 53.5 L-0.1 51.7 L1.4 52.1 L-0.1 49.8 L1.9 50.2 L-0 47.8 L2 48.1 L0 45.9 L2.1 46.4 L0.1 44.1 L2.9 44.7 L0.2 42.1 L2.7 42.4 L0.4 40 L3.1 40.7 L0.7 38.2 L3.4 38.3 L1 36 L4.5 36.6 L1.2 33.8 L4.8 34.2 L1.4 31.2 L4.6 31.4 L1.7 28.4 L4.7 28.9 L2.3 25.3 L6.8 26.2 L2.9 21.6 L7.6 22.3 L3.5 17.8 L10.6 18.5 L4.1 13.5 L12.6 14.5 L6.3 8.8 L21.3 11.1 L13.5 2.5"/>
<path vector-effect="non-scaling-stroke" transform="translate(1236.9,284) scale(0.76)" d="M-1.2 139 L-1.1 114 L-0.9 95 L-0.9 95 L-0.7 95.2 L-0.9 93.3 L-0.6 93.5 L-0.9 91.4 L-0.5 91.4 L-0.8 89.4 L-0.5 89.3 L-0.8 87.5 L-0.4 87.7 L-0.8 85.6 L-0.3 85.9 L-0.8 83.7 L-0.2 83.8 L-0.8 81.7 L-0.3 82 L-0.7 79.9 L-0.2 79.9 L-0.7 77.9 L-0.2 77.7 L-0.7 75.9 L-0 76.1 L-0.6 74.1 L0 74.3 L-0.6 72.4 L0.3 72.8 L-0.6 70.4 L0.2 70.3 L-0.5 68.6 L0.5 69 L-0.5 66.8 L0.6 67 L-0.5 64.9 L0.6 65 L-0.4 62.9 L0.9 63.2 L-0.4 61.1 L0.9 61.1 L-0.3 59.4 L0.9 59.5 L-0.3 57.5 L0.7 57.4 L-0.2 55.5 L0.9 55.6 L-0.2 53.4 L1.6 53.5 L-0.1 51.4 L1.8 51.6 L-0.1 49.3 L1.9 49.8 L-0 47.6 L1.5 48 L0 45.6 L2.1 45.7 L0.1 43.9 L2.2 43.9 L0.2 42 L2 42.4 L0.4 39.9 L2.8 40.5 L0.8 37.9 L3 38.4 L1 35.7 L4.2 36.2 L1.2 33.4 L4 33.6 L1.4 30.7 L3.8 31.1 L1.8 27.8 L5.2 28.5 L2.4 24.5 L7 25.5 L3 20.8 L8.6 21.7 L3.6 16.9 L10.3 18 L4.5 12.6 L12.1 13.7 L13.5 2.5"/>
<path vector-effect="non-scaling-stroke" transform="translate(1242.6,282.9) scale(0.70)" d="M-1.3 353 L-1.3 328 L-1.3 303 L-1.3 278 L-1.3 253 L-1.3 228 L-1.3 203 L-1.3 178 L-1.2 153 L-1.1 128 L-1 103 L-0.9 95 L-0.9 95 L-0.6 95 L-0.9 93 L-0.5 92.8 L-0.9 91.1 L-0.4 91.2 L-0.8 89.3 L-0.5 89.4 L-0.8 87.5 L-0.4 87.4 L-0.8 85.5 L-0.2 85.5 L-0.8 83.8 L-0.2 83.9 L-0.8 82 L0.1 82.1 L-0.7 80 L-0.2 80 L-0.7 77.9 L0.1 78 L-0.7 75.9 L0.1 76.1 L-0.6 73.8 L0.5 73.8 L-0.6 71.8 L0.2 72.1 L-0.6 70 L0.4 70 L-0.5 68.3 L0.4 68.5 L-0.5 66.4 L1 66.6 L-0.5 64.4 L1 64.5 L-0.4 62.6 L0.9 62.7 L-0.4 60.5 L1 60.8 L-0.3 58.5 L1.4 58.8 L-0.3 56.4 L1.4 56.4 L-0.2 54.4 L1.5 54.8 L-0.2 52.5 L1.8 52.5 L-0.1 50.6 L2 50.8 L-0.1 48.8 L1.8 48.8 L-0 47 L2.3 47.4 L0.1 45.1 L2.8 45.7 L0.2 43.2 L2.5 43.4 L0.3 41.4 L2.7 42 L0.5 39.6 L2.9 40 L0.8 37.8 L3.6 38.1 L1 35.5 L3.9 35.9 L1.2 33.2 L5.1 33.5 L1.4 30.5 L5.8 31.4 L1.8 27.8 L5.2 28.3 L2.4 24.5 L7.2 24.9 L2.9 21.1 L9.7 22.3 L3.5 17.5 L8.9 18.2 L4.1 13.4 L11.9 14.7 L6.5 8.7 L17.2 9.9 L13.5 2.5"/>
<path vector-effect="non-scaling-stroke" transform="translate(1244.1,285.5) scale(0.65)" d="M-1.3 376.2 L-1.3 351.2 L-1.3 326.2 L-1.3 301.2 L-1.3 276.2 L-1.3 251.2 L-1.3 226.2 L-1.3 201.2 L-1.2 176.2 L-1.2 151.2 L-1.1 126.2 L-1 101.2 L-0.9 95 L-0.9 95 L-0.6 95.1 L-0.9 93 L-0.5 93.2 L-0.9 91 L-0.4 91.2 L-0.8 89 L-0.3 89.2 L-0.8 87.2 L-0.3 87.5 L-0.8 85.3 L-0.3 85.5 L-0.8 83.5 L0.1 83.6 L-0.8 81.5 L-0.1 81.5 L-0.7 79.7 L-0.1 79.9 L-0.7 77.9 L0.1 78.1 L-0.7 75.9 L0.3 76.1 L-0.6 74 L0.2 74 L-0.6 72.2 L0.3 72.5 L-0.6 70.1 L0.6 70.1 L-0.5 68.4 L0.5 68.3 L-0.5 66.6 L0.5 66.6 L-0.5 64.8 L0.9 64.8 L-0.4 63 L0.9 63.4 L-0.4 61 L1.2 61.1 L-0.3 59.2 L1.5 59.4 L-0.3 57.2 L1.4 57.1 L-0.2 55.4 L1.4 55.9 L-0.2 53.5 L1.4 53.9 L-0.1 51.4 L1.8 51.6 L-0.1 49.4 L2.5 49.6 L-0 47.3 L2.8 47.7 L0.1 45.3 L2.8 45.7 L0.1 43.4 L2.8 43.7 L0.2 41.6 L2.8 42 L0.5 39.6 L3.2 39.8 L0.8 37.6 L4.8 38.2 L1 35.2 L4.2 35.4 L1.2 32.7 L4.6 32.9 L1.5 30.1 L6.1 30.7 L1.9 27.2 L6.9 28 L2.5 24 L7.6 24.7 L3 20.5 L10.7 21.7 L3.7 16.2 L12.5 17.1 L4.8 11.9 L16.1 13.4 L13.5 2.5"/>
<path vector-effect="non-scaling-stroke" transform="translate(1274.5,288.3) scale(0.60)" d="M-1.3 402.8 L-1.3 377.8 L-1.3 352.8 L-1.3 327.8 L-1.3 302.8 L-1.3 277.8 L-1.3 252.8 L-1.3 227.8 L-1.3 202.8 L-1.3 177.8 L-1.2 152.8 L-1.1 127.8 L-1 102.8 L-0.9 95 L-0.9 95 L-0.7 95.1 L-0.9 92.9 L-0.6 93 L-0.9 91 L-0.5 91.1 L-0.8 89 L-0.4 88.9 L-0.8 87 L-0.4 86.9 L-0.8 85 L-0.4 85.3 L-0.8 83 L-0.1 83.3 L-0.7 81 L-0.1 81.4 L-0.7 79.3 L-0.1 79.2 L-0.7 77.5 L-0 77.6 L-0.7 75.4 L0 75.6 L-0.6 73.5 L0.2 73.4 L-0.6 71.5 L0.2 71.6 L-0.6 69.5 L0.3 69.9 L-0.5 67.7 L0.6 68.2 L-0.5 65.7 L0.5 65.5 L-0.4 63.8 L0.8 64.3 L-0.4 62.1 L0.5 61.9 L-0.4 60 L0.6 60.4 L-0.3 58.3 L1.3 58.4 L-0.3 56.4 L1 56.8 L-0.2 54.6 L1.2 55 L-0.2 52.9 L1.7 53.4 L-0.1 50.8 L1.3 50.9 L-0.1 49 L2.2 49.3 L-0 47.3 L1.7 47.8 L0.1 45.4 L2 45.5 L0.1 43.5 L2.8 43.9 L0.2 41.7 L2.1 41.7 L0.5 39.7 L2.5 39.9 L0.8 37.8 L4 38 L1 35.5 L3.9 35.9 L1.2 33.1 L3.6 33.7 L1.4 30.3 L4.9 30.7 L1.9 27.2 L6.3 27.9 L2.5 23.9 L7.6 24.7 L3 20.6 L7.9 21.2 L3.6 16.7 L8.1 17.2 L4.6 12.4 L11.8 13.6 L13.5 2.5"/>
<path vector-effect="non-scaling-stroke" transform="translate(1276.1,290.7) scale(0.60)" d="M-1.3 398.9 L-1.3 373.9 L-1.3 348.9 L-1.3 323.9 L-1.3 298.9 L-1.3 273.9 L-1.3 248.9 L-1.3 223.9 L-1.3 198.9 L-1.2 173.9 L-1.2 148.9 L-1.1 123.9 L-0.9 95 L-0.9 95 L-0.7 95.2 L-0.9 93 L-0.5 93 L-0.9 91 L-0.5 90.9 L-0.8 89.2 L-0.5 89.4 L-0.8 87.2 L-0.4 87.5 L-0.8 85.2 L-0.3 85.4 L-0.8 83.4 L-0.3 83.4 L-0.7 81.3 L-0 81.6 L-0.7 79.3 L-0.2 79.1 L-0.7 77.2 L0.1 77.2 L-0.7 75.2 L0.1 75.6 L-0.6 73.2 L0.2 73.2 L-0.6 71.2 L0.4 71.4 L-0.6 69.3 L0.4 69.5 L-0.5 67.3 L0.6 67.7 L-0.5 65.5 L0.6 65.5 L-0.4 63.5 L0.5 63.7 L-0.4 61.6 L1 61.8 L-0.4 59.6 L1.1 59.6 L-0.3 57.8 L1.4 58.1 L-0.3 55.9 L1.5 56.3 L-0.2 54 L1 53.9 L-0.2 51.9 L1.4 52.5 L-0.1 50 L1.5 49.9 L-0 48.2 L1.8 48.6 L0 46.4 L1.7 46.4 L0.1 44.6 L2.5 44.9 L0.2 42.6 L3 42.9 L0.3 40.7 L2.5 40.7 L0.6 38.7 L2.7 38.8 L0.9 36.8 L3.9 37.5 L1.1 34.6 L4 34.7 L1.3 32.2 L4.7 32.6 L1.5 29.5 L5.5 29.8 L2.1 26.3 L6.5 27.1 L2.6 23.1 L7.4 23.6 L3.2 19.3 L8.7 19.9 L3.8 15.6 L9.6 16.3 L4.9 11.6 L13.7 12.9 L13.5 2.5"/>
<path vector-effect="non-scaling-stroke" transform="translate(1281.8,290.3) scale(0.60)" d="M-1.3 399.4 L-1.3 374.4 L-1.3 349.4 L-1.3 324.4 L-1.3 299.4 L-1.3 274.4 L-1.3 249.4 L-1.3 224.4 L-1.3 199.4 L-1.2 174.4 L-1.2 149.4 L-1.1 124.4 L-0.9 95 L-0.9 95 L-0.6 95 L-0.9 93 L-0.6 93.2 L-0.9 91 L-0.4 90.9 L-0.8 89.1 L-0.3 89 L-0.8 87.1 L-0.4 87 L-0.8 85.3 L-0.2 85.6 L-0.8 83.6 L-0.1 83.7 L-0.8 81.7 L-0.2 82 L-0.7 79.7 L-0 79.6 L-0.7 77.7 L-0 77.7 L-0.7 75.9 L0.1 75.8 L-0.6 74.1 L0.3 74.2 L-0.6 72.4 L0.2 72.5 L-0.6 70.7 L0.5 70.9 L-0.5 68.8 L0.7 69 L-0.5 67.1 L0.8 67.2 L-0.5 65.4 L0.6 65.6 L-0.4 63.4 L0.7 63.7 L-0.4 61.5 L1 61.5 L-0.4 59.6 L1 59.9 L-0.3 57.7 L1.5 57.8 L-0.3 55.8 L1.7 56.1 L-0.2 53.9 L1.6 54.4 L-0.1 51.9 L1.3 51.9 L-0.1 50.1 L1.8 50.3 L-0 48.3 L1.5 48.4 L0 46.5 L2.5 46.9 L0.1 44.5 L2.6 44.9 L0.2 42.7 L2.4 43.2 L0.3 40.7 L2.5 41.2 L0.6 39 L3.3 39.5 L0.9 37.1 L4.2 37.7 L1.1 34.8 L3.6 34.9 L1.3 32.5 L4.1 32.9 L1.5 29.6 L6.1 30.1 L2 26.6 L6.2 27.2 L2.5 23.6 L6.9 24.2 L3.2 19.7 L9.7 20.7 L3.8 15.4 L12.2 16.7 L5.1 11.3 L14.7 12.9 L13.5 2.5"/>
<path vector-effect="non-scaling-stroke" transform="translate(1306.6,297.5) scale(0.95)" d="M-1.3 244.7 L-1.3 219.7 L-1.3 194.7 L-1.2 169.7 L-1.2 144.7 L-1.1 119.7 L-0.9 95 L-0.9 95 L-0.7 95 L-0.9 93.1 L-0.5 93.3 L-0.9 91.1 L-0.6 91 L-0.8 89 L-0.3 89.3 L-0.8 87 L-0.2 87.1 L-0.8 85.1 L-0.3 84.8 L-0.8 83.1 L-0.3 82.9 L-0.7 81.2 L-0.2 81.3 L-0.7 79.4 L0 79.3 L-0.7 77.5 L0.1 77.4 L-0.7 75.5 L0.2 75.6 L-0.6 73.5 L0.4 73.7 L-0.6 71.7 L0.3 71.9 L-0.6 69.9 L0.3 70 L-0.5 67.9 L0.4 67.8 L-0.5 66 L0.8 66.3 L-0.5 64.3 L0.4 64.2 L-0.4 62.3 L1 62.7 L-0.4 60.5 L0.9 60.9 L-0.3 58.6 L0.9 58.5 L-0.3 56.5 L1.5 57 L-0.2 54.6 L1.8 54.7 L-0.2 52.6 L1.9 52.8 L-0.1 50.7 L1.7 50.7 L-0.1 48.9 L1.5 48.9 L-0 47 L2.4 47.4 L0.1 45.1 L2.8 45.5 L0.1 43.2 L2.3 43.6 L0.3 41.2 L2.5 41.5 L0.6 39.2 L2.9 39.6 L0.9 37.3 L3.8 37.4 L1.1 34.9 L3.9 35.4 L1.3 32.4 L5 33.2 L1.5 29.5 L5.7 30.2 L2.1 26.4 L7 26.9 L2.6 23.2 L8 23.8 L3.2 19.2 L8.2 20.2 L3.8 15.3 L11.1 16.4 L5.4 10.3 L15.8 11.8 L13.5 2.5"/>
<path vector-effect="non-scaling-stroke" transform="translate(1363.3,305.7) scale(0.80)" d="M-1.3 280.4 L-1.3 255.4 L-1.3 230.4 L-1.3 205.4 L-1.3 180.4 L-1.2 155.4 L-1.1 130.4 L-1 105.4 L-0.9 95 L-0.9 95 L-0.6 95 L-0.9 93.1 L-0.5 93.5 L-0.9 91.4 L-0.5 91.4 L-0.9 89.4 L-0.4 89.7 L-0.8 87.7 L-0.4 87.7 L-0.8 85.9 L-0.3 86.1 L-0.8 84 L-0.2 83.9 L-0.8 82 L-0.2 81.8 L-0.7 80.2 L-0.1 80.3 L-0.7 78.4 L0.3 78.3 L-0.7 76.6 L0.3 77 L-0.7 74.8 L0.3 74.8 L-0.6 73 L0.6 73.3 L-0.6 71 L0.4 70.9 L-0.6 69 L0.4 69.2 L-0.5 67.2 L0.9 67.4 L-0.5 65.1 L1 65.1 L-0.4 63.2 L0.9 63.4 L-0.4 61.3 L1 61.6 L-0.3 59.5 L1.3 59.6 L-0.3 57.8 L1.1 58.1 L-0.3 55.9 L1.1 55.9 L-0.2 53.8 L2.1 54 L-0.1 51.8 L1.4 51.9 L-0.1 49.7 L2.2 50.2 L-0 47.8 L2 48.1 L0 46 L2 46.1 L0.1 44.2 L3.4 44.6 L0.2 42.1 L3.3 42.3 L0.4 40.1 L2.7 40.6 L0.7 38.2 L4.5 38.9 L1 36.3 L5.2 37 L1.1 34 L4.7 34.4 L1.3 31.6 L5.3 32.2 L1.7 28.6 L6.7 29.1 L2.3 25.4 L8.2 26.3 L2.8 21.9 L7.4 22.3 L3.4 17.8 L8.9 18.8 L4 13.8 L12.3 15 L5.9 9.3 L18.9 11.3 L13.5 2.5"/>
</g>
<g fill="none" stroke-width="1.4" stroke-linejoin="round">
<path transform="translate(1140.4,0)" stroke="url(#hg)" d="M0 250.1 L0.7 249.9 L1.8 249.5 L3 249.2 L4.2 248.9 L5.4 248.7 L6.9 248.5 L8.6 248.2 L10.5 248 L12.5 247.7 L14.7 247.6 L17.1 247.5 L19.4 247.4 L21.5 247.4 L23.5 247.5 L25.5 247.6 L27.6 247.8 L29.7 248 L32 248.2 L34.4 248.5 L36.9 248.8 L39.5 249.1 L42.2 249.4 L45 249.8 L48.5 250.2 L53 250.8 L58.2 251.6 L63.5 252.3 L69.4 253.2 L75.3 254.1 L79.5 254.7"/>
<path stroke="#440154" d="M1219.9 254.7 L1234.9 256.6 L1249.9 258.6 L1264.9 260.6 L1279.9 262.8 L1294.9 265 L1309.9 267.2 L1324.9 269.6 L1339.9 272 L1354.9 274.5 L1369.9 277.1 L1384.9 279.7 L1399.9 282.4 L1414.9 285.2 L1429.9 288.1 L1436.9 289.4"/>
<path transform="translate(1164,0)" stroke="url(#hg)" d="M0 255.6 L0.8 255.3 L1.9 255 L3.1 254.6 L4.3 254.3 L5.6 254.1 L7.1 253.8 L8.9 253.6 L10.8 253.3 L12.9 253.1 L15.2 252.9 L17.7 252.8 L20 252.8 L22.2 252.8 L24.2 252.8 L26.3 253 L28.5 253.1 L30.7 253.3 L33.1 253.6 L35.5 253.8 L38.1 254.2 L40.8 254.5 L43.6 254.8 L46.5 255.2 L50.1 255.6 L54.8 256.3 L60.1 257.1 L65.6 257.9 L71.6 258.8 L77.8 259.7"/>
<path stroke="#440154" d="M1241.9 259.7 L1246.2 260.4 L1261.2 262.4 L1276.2 264.5 L1291.2 266.7 L1306.2 269 L1321.2 271.3 L1336.2 273.7 L1351.2 276.2 L1366.2 278.7 L1381.2 281.4 L1396.2 284 L1411.2 286.8 L1426.2 289.6 L1440.6 292.4"/>
<path transform="translate(1164.6,0)" stroke="url(#hg)" d="M0 257.6 L0.7 257.3 L1.8 257 L2.9 256.7 L4 256.4 L5.2 256.2 L6.6 255.9 L8.3 255.7 L10.1 255.5 L12 255.3 L14.2 255.1 L16.5 255 L18.7 254.9 L20.7 255 L22.6 255 L24.5 255.1 L26.5 255.3 L28.6 255.5 L30.8 255.7 L33 255.9 L35.4 256.2 L38 256.6 L40.5 256.9 L43.3 257.2 L46.6 257.6 L51 258.2 L56 258.9 L61.1 259.7 L66.7 260.5 L72.4 261.4 L76.4 262"/>
<path stroke="#440154" d="M1241 262 L1256 264 L1271 266.1 L1286 268.3 L1301 270.5 L1316 272.8 L1331 275.2 L1346 277.6 L1361 280.1 L1376 282.7 L1391 285.4 L1406 288.1 L1421 291 L1436 293.8 L1444.5 295.5"/>
<path transform="translate(1168.1,0)" stroke="url(#hg)" d="M0 260.5 L0.8 260.3 L1.8 259.9 L3 259.6 L4.2 259.3 L5.5 259.1 L7 258.9 L8.7 258.6 L10.6 258.3 L12.6 258.1 L14.8 258 L17.2 257.9 L19.5 257.8 L21.6 257.8 L23.6 257.9 L25.7 258 L27.8 258.1 L30 258.3 L32.2 258.6 L34.6 258.8 L37.1 259.2 L39.8 259.5 L42.5 259.8 L45.3 260.2 L48.9 260.6 L53.4 261.2 L58.6 262 L64 262.8 L69.9 263.7 L75.9 264.6"/>
<path stroke="#440154" d="M1244 264.6 L1248.2 265.2 L1263.2 267.3 L1278.2 269.4 L1293.2 271.6 L1308.2 273.9 L1323.2 276.2 L1338.2 278.6 L1353.2 281.1 L1368.2 283.7 L1383.2 286.3 L1398.2 289 L1413.2 291.8 L1428.2 294.6 L1443.2 297.5 L1445.4 298"/>
<path transform="translate(1170.9,0)" stroke="url(#hg)" d="M0 262.4 L0.7 262.2 L1.7 261.9 L2.8 261.5 L3.9 261.3 L5.1 261.1 L6.5 260.8 L8.1 260.6 L9.8 260.4 L11.7 260.2 L13.8 260 L16.1 259.9 L18.2 259.9 L20.2 259.9 L22.1 259.9 L24 260 L25.9 260.2 L28 260.4 L30.1 260.6 L32.3 260.8 L34.6 261.1 L37.1 261.4 L39.6 261.7 L42.3 262.1 L45.6 262.5 L49.8 263.1 L54.7 263.8 L59.7 264.5 L65.2 265.3 L70.8 266.2 L74.7 266.8"/>
<path stroke="#440154" d="M1245.6 266.8 L1260.6 268.8 L1275.6 270.9 L1290.6 273.1 L1305.6 275.4 L1320.6 277.7 L1335.6 280.1 L1350.6 282.6 L1365.6 285.1 L1380.6 287.7 L1395.6 290.4 L1410.6 293.2 L1425.6 296 L1440.6 298.9 L1448.5 300.5"/>
<path transform="translate(1155.5,0)" stroke="url(#hg)" d="M0 271.9 L0.6 271.7 L1.6 271.4 L2.6 271.1 L3.6 270.8 L4.7 270.6 L6 270.4 L7.5 270.2 L9.1 270 L10.8 269.8 L12.8 269.7 L14.8 269.6 L16.8 269.5 L18.6 269.5 L20.4 269.6 L22.1 269.7 L23.9 269.8 L25.8 270 L27.8 270.2 L29.8 270.4 L32 270.7 L34.3 271 L36.6 271.3 L39 271.6 L42.1 271.9 L46 272.5 L50.5 273.1 L55.1 273.8 L60.2 274.5 L65.3 275.3 L69 275.8"/>
<path stroke="#440154" d="M1224.5 275.8 L1239.5 277.8 L1254.5 279.8 L1269.5 281.9 L1284.5 284 L1299.5 286.2 L1314.5 288.5 L1329.5 290.9 L1344.5 293.3 L1359.5 295.9 L1374.5 298.4 L1389.5 301.1 L1404.5 303.8 L1419.5 306.6 L1434.5 309.5 L1449.5 312.5 L1464.5 315.5 L1479.5 318.6 L1484.2 319.6"/>
<path transform="translate(1157.5,0)" stroke="url(#hg)" d="M0 272.9 L0.7 272.7 L1.7 272.3 L2.8 272 L3.9 271.8 L5.1 271.6 L6.4 271.3 L8 271.1 L9.8 270.9 L11.7 270.7 L13.7 270.5 L15.9 270.4 L18.1 270.4 L20 270.4 L21.9 270.4 L23.8 270.5 L25.7 270.7 L27.7 270.9 L29.8 271.1 L32 271.3 L34.3 271.6 L36.8 271.9 L39.3 272.2 L41.9 272.5 L45.2 273 L49.4 273.6 L54.2 274.2 L59.2 275 L64.6 275.7 L70.2 276.6 L74.1 277.1"/>
<path stroke="#440154" d="M1231.6 277.1 L1246.6 279.1 L1261.6 281.2 L1276.6 283.3 L1291.6 285.5 L1306.6 287.7 L1321.6 290.1 L1336.6 292.5 L1351.6 295 L1366.6 297.5 L1381.6 300.1 L1396.6 302.8 L1411.6 305.6 L1426.6 308.4 L1441.6 311.3 L1456.6 314.3 L1471.6 317.4 L1485.1 320.2"/>
<path transform="translate(1157.3,0)" stroke="url(#hg)" d="M0 275.3 L0.6 275.1 L1.5 274.8 L2.5 274.5 L3.4 274.3 L4.5 274.1 L5.7 273.9 L7.1 273.7 L8.7 273.5 L10.3 273.3 L12.2 273.2 L14.1 273.1 L16 273 L17.7 273 L19.4 273.1 L21.1 273.2 L22.8 273.3 L24.6 273.5 L26.4 273.7 L28.4 273.9 L30.4 274.1 L32.6 274.4 L34.8 274.7 L37.2 274.9 L40.1 275.3 L43.8 275.8 L48.1 276.5 L52.4 277.1 L57.3 277.8 L62.2 278.5 L65.7 279"/>
<path stroke="#440154" d="M1222.9 279 L1237.9 280.9 L1252.9 282.9 L1267.9 285 L1282.9 287.2 L1297.9 289.4 L1312.9 291.7 L1327.9 294 L1342.9 296.5 L1357.9 299 L1372.9 301.6 L1387.9 304.2 L1402.9 306.9 L1417.9 309.7 L1432.9 312.6 L1447.9 315.5 L1462.9 318.6 L1477.9 321.6 L1490.2 324.2"/>
<path transform="translate(1172.5,0)" stroke="url(#hg)" d="M0 266.9 L0.6 266.7 L1.5 266.4 L2.4 266.2 L3.4 266 L4.4 265.8 L5.6 265.6 L7 265.4 L8.5 265.2 L10.1 265 L12 264.9 L13.9 264.8 L15.7 264.7 L17.4 264.7 L19 264.8 L20.7 264.9 L22.4 265 L24.1 265.1 L26 265.3 L27.9 265.6 L29.9 265.8 L32 266.1 L34.2 266.3 L36.5 266.6 L39.3 267 L43 267.5 L47.2 268.1 L51.5 268.7 L56.3 269.4 L61.1 270.1 L64.5 270.6 L79.5 272.6"/>
<path stroke="#440154" d="M1252 272.6 L1267 274.7 L1282 276.9 L1297 279.1 L1312 281.4 L1327 283.7 L1342 286.2 L1357 288.7 L1372 291.2 L1387 293.9 L1402 296.6 L1417 299.4 L1432 302.3 L1447 305.2 L1462 308.2 L1473.5 310.6"/>
<path transform="translate(1177,0)" stroke="url(#hg)" d="M0 277.1 L0.7 276.9 L1.7 276.6 L2.9 276.3 L4 276 L5.2 275.8 L6.6 275.6 L8.2 275.3 L10 275.1 L11.9 274.9 L14 274.7 L16.3 274.6 L18.5 274.6 L20.5 274.6 L22.4 274.6 L24.3 274.7 L26.3 274.9 L28.4 275.1 L30.5 275.3 L32.8 275.5 L35.1 275.8 L37.6 276.2 L40.2 276.5 L42.9 276.8 L46.2 277.2 L50.5 277.8 L55.5 278.5 L60.5 279.3 L66.1 280.1 L71.8 281 L75.8 281.6"/>
<path stroke="#440154" d="M1252.7 281.6 L1267.7 283.7 L1282.7 285.9 L1297.7 288.1 L1312.7 290.4 L1327.7 292.7 L1342.7 295.2 L1357.7 297.7 L1372.7 300.3 L1387.7 302.9 L1402.7 305.6 L1417.7 308.4 L1432.7 311.3 L1447.7 314.2 L1462.7 317.2 L1477.7 320.3 L1488.6 322.6"/>
<path transform="translate(1182.9,0)" stroke="url(#hg)" d="M0 270.7 L0.7 270.5 L1.6 270.2 L2.6 269.9 L3.6 269.6 L4.8 269.4 L6 269.2 L7.5 269 L9.2 268.8 L10.9 268.6 L12.9 268.5 L15 268.4 L17 268.3 L18.8 268.3 L20.5 268.4 L22.3 268.5 L24.1 268.6 L26 268.8 L28 269 L30.1 269.2 L32.2 269.5 L34.5 269.8 L36.9 270.1 L39.4 270.4 L42.4 270.8 L46.4 271.3 L50.9 272 L55.5 272.7 L60.7 273.5 L65.9 274.3 L69.5 274.8"/>
<path stroke="#440154" d="M1252.4 274.8 L1267.4 276.9 L1282.4 279 L1297.4 281.3 L1312.4 283.6 L1327.4 285.9 L1342.4 288.4 L1357.4 290.9 L1372.4 293.4 L1387.4 296.1 L1402.4 298.8 L1417.4 301.6 L1432.4 304.5 L1447.4 307.4 L1462.4 310.4 L1476.3 313.3"/>
<path transform="translate(1186.3,0)" stroke="url(#hg)" d="M0 278.2 L0.6 278 L1.6 277.7 L2.6 277.4 L3.6 277.2 L4.6 277 L5.9 276.8 L7.3 276.6 L8.9 276.3 L10.7 276.2 L12.6 276 L14.6 275.9 L16.6 275.9 L18.3 275.9 L20 276 L21.8 276 L23.6 276.2 L25.4 276.3 L27.3 276.5 L29.4 276.8 L31.5 277 L33.7 277.3 L36 277.6 L38.4 277.9 L41.4 278.3 L45.3 278.8 L49.7 279.5 L54.2 280.2 L59.2 280.9 L64.3 281.7 L67.9 282.3"/>
<path stroke="#440154" d="M1254.2 282.3 L1269.2 284.4 L1284.2 286.5 L1299.2 288.7 L1314.2 291 L1329.2 293.4 L1344.2 295.8 L1359.2 298.4 L1374.2 300.9 L1389.2 303.6 L1404.2 306.3 L1419.2 309.1 L1434.2 312 L1449.2 315 L1464.2 318 L1479.2 321.1 L1487.6 322.8"/>
<path transform="translate(1188.9,0)" stroke="url(#hg)" d="M0 266.7 L0.7 266.4 L1.7 266.1 L2.8 265.8 L3.9 265.5 L5.1 265.3 L6.4 265.1 L8 264.9 L9.8 264.6 L11.6 264.4 L13.7 264.3 L15.9 264.2 L18.1 264.1 L20 264.1 L21.9 264.2 L23.8 264.3 L25.7 264.4 L27.7 264.6 L29.8 264.8 L32 265.1 L34.3 265.4 L36.8 265.7 L39.3 266 L41.9 266.3 L45.2 266.8 L49.4 267.4 L54.2 268.1 L59.2 268.9 L64.6 269.7 L70.2 270.6 L74.1 271.2"/>
<path stroke="#440154" d="M1263 271.2 L1278 273.3 L1293 275.5 L1308 277.8 L1323 280.1 L1338 282.5 L1353 285 L1368 287.6 L1383 290.2 L1398 292.9 L1413 295.7 L1428 298.5 L1443 301.4 L1458 304.4 L1464.4 305.7"/>
<path transform="translate(1191.2,0)" stroke="url(#hg)" d="M0 275.3 L0.7 275.1 L1.8 274.7 L3 274.4 L4.1 274.1 L5.4 273.9 L6.8 273.7 L8.5 273.4 L10.4 273.2 L12.4 273 L14.6 272.8 L17 272.7 L19.2 272.6 L21.3 272.6 L23.3 272.7 L25.3 272.8 L27.3 273 L29.5 273.2 L31.7 273.4 L34.1 273.7 L36.5 274 L39.1 274.3 L41.8 274.6 L44.6 275 L48.1 275.5 L52.5 276.1 L57.7 276.9 L62.9 277.7 L68.7 278.6 L74.6 279.6 L78.8 280.2"/>
<path stroke="#440154" d="M1269.9 280.2 L1284.9 282.4 L1299.9 284.6 L1314.9 286.9 L1329.9 289.3 L1344.9 291.7 L1359.9 294.2 L1374.9 296.8 L1389.9 299.5 L1404.9 302.2 L1419.9 305 L1434.9 307.9 L1449.9 310.9 L1464.9 313.9 L1479.9 317 L1481.9 317.4"/>
<path transform="translate(1190.5,0)" stroke="url(#hg)" d="M0 272.2 L0.6 272 L1.5 271.7 L2.5 271.5 L3.5 271.2 L4.5 271 L5.7 270.8 L7.1 270.6 L8.7 270.4 L10.3 270.3 L12.2 270.1 L14.2 270 L16.1 270 L17.8 270 L19.4 270 L21.1 270.1 L22.8 270.3 L24.6 270.4 L26.5 270.6 L28.4 270.8 L30.5 271.1 L32.7 271.4 L34.9 271.6 L37.2 271.9 L40.1 272.3 L43.9 272.8 L48.2 273.5 L52.5 274.1 L57.4 274.9 L62.3 275.7 L65.8 276.2"/>
<path stroke="#440154" d="M1256.2 276.2 L1271.2 278.3 L1286.2 280.5 L1301.2 282.7 L1316.2 285 L1331.2 287.4 L1346.2 289.8 L1361.2 292.4 L1376.2 294.9 L1391.2 297.6 L1406.2 300.4 L1421.2 303.2 L1436.2 306 L1451.2 309 L1466.2 312 L1481.1 315.1"/>
<path transform="translate(1194.8,0)" stroke="url(#hg)" d="M0 280.9 L0.7 280.7 L1.7 280.4 L2.8 280.1 L3.9 279.8 L5 279.6 L6.4 279.4 L8 279.1 L9.7 278.9 L11.6 278.7 L13.6 278.6 L15.8 278.5 L18 278.4 L19.9 278.4 L21.7 278.5 L23.6 278.6 L25.6 278.7 L27.5 278.9 L29.6 279.1 L31.8 279.4 L34.1 279.7 L36.6 280 L39 280.3 L41.7 280.6 L44.9 281.1 L49.1 281.7 L53.9 282.4 L58.8 283.2 L64.2 284 L69.7 284.9 L73.6 285.5"/>
<path stroke="#440154" d="M1268.4 285.5 L1283.4 287.7 L1298.4 289.9 L1313.4 292.2 L1328.4 294.5 L1343.4 297 L1358.4 299.5 L1373.4 302.1 L1388.4 304.7 L1403.4 307.5 L1418.4 310.3 L1433.4 313.1 L1448.4 316.1 L1463.4 319.1 L1478.4 322.2 L1491.3 324.9"/>
<path transform="translate(1196,0)" stroke="url(#hg)" d="M0 271.5 L0.7 271.3 L1.6 271 L2.6 270.7 L3.7 270.5 L4.8 270.2 L6.1 270 L7.6 269.8 L9.2 269.6 L11 269.4 L13 269.3 L15.1 269.2 L17.1 269.1 L18.9 269.1 L20.6 269.2 L22.4 269.3 L24.3 269.4 L26.2 269.6 L28.2 269.8 L30.2 270 L32.4 270.3 L34.8 270.6 L37.1 270.9 L39.6 271.2 L42.7 271.6 L46.6 272.2 L51.2 272.9 L55.9 273.6 L61 274.4 L66.3 275.3 L69.9 275.8"/>
<path stroke="#440154" d="M1265.9 275.8 L1280.9 278 L1295.9 280.2 L1310.9 282.5 L1325.9 284.8 L1340.9 287.3 L1355.9 289.8 L1370.9 292.3 L1385.9 295 L1400.9 297.7 L1415.9 300.5 L1430.9 303.3 L1445.9 306.3 L1460.9 309.3 L1475.7 312.3"/>
<path transform="translate(1198.3,0)" stroke="url(#hg)" d="M0 270.4 L0.7 270.2 L1.7 269.8 L2.8 269.5 L3.9 269.3 L5.1 269 L6.4 268.8 L8 268.6 L9.8 268.4 L11.7 268.2 L13.7 268 L16 267.9 L18.1 267.9 L20 267.9 L21.9 267.9 L23.8 268 L25.7 268.2 L27.7 268.4 L29.9 268.6 L32.1 268.8 L34.4 269.1 L36.8 269.5 L39.3 269.8 L42 270.1 L45.2 270.5 L49.5 271.2 L54.3 271.9 L59.2 272.7 L64.7 273.5 L70.3 274.4 L74.2 275.1"/>
<path stroke="#440154" d="M1272.5 275.1 L1287.5 277.2 L1302.5 279.5 L1317.5 281.8 L1332.5 284.2 L1347.5 286.6 L1362.5 289.2 L1377.5 291.8 L1392.5 294.4 L1407.5 297.2 L1422.5 300 L1437.5 302.9 L1452.5 305.9 L1467.5 308.9 L1472 309.8"/>
<path transform="translate(1207,0)" stroke="url(#hg)" d="M0 276.1 L0.7 275.8 L1.8 275.5 L3 275.1 L4.2 274.9 L5.4 274.6 L6.9 274.4 L8.6 274.1 L10.5 273.9 L12.5 273.7 L14.7 273.5 L17.1 273.4 L19.4 273.4 L21.5 273.4 L23.5 273.5 L25.5 273.6 L27.6 273.7 L29.7 273.9 L32 274.2 L34.4 274.5 L36.8 274.8 L39.5 275.2 L42.2 275.5 L45 275.9 L48.5 276.4 L53 277 L58.2 277.9 L63.5 278.7 L69.3 279.7 L75.3 280.6 L79.5 281.3"/>
<path stroke="#440154" d="M1286.5 281.3 L1301.5 283.6 L1316.5 285.9 L1331.5 288.3 L1346.5 290.7 L1361.5 293.2 L1376.5 295.8 L1391.5 298.5 L1406.5 301.2 L1421.5 304.1 L1436.5 306.9 L1451.5 309.9 L1466.5 312.9 L1480.5 315.8"/>
<path transform="translate(1205.5,0)" stroke="url(#hg)" d="M0 267.6 L0.6 267.4 L1.5 267.1 L2.4 266.9 L3.3 266.7 L4.4 266.5 L5.5 266.3 L6.9 266.1 L8.4 265.9 L10 265.7 L11.8 265.6 L13.7 265.5 L15.6 265.4 L17.2 265.4 L18.8 265.5 L20.4 265.6 L22.1 265.7 L23.8 265.9 L25.7 266.1 L27.6 266.3 L29.5 266.6 L31.7 266.8 L33.8 267.1 L36.1 267.4 L38.9 267.8 L42.5 268.3 L46.7 268.9 L50.9 269.6 L55.6 270.3 L60.4 271.1 L63.7 271.7 L78.7 273.8"/>
<path stroke="#440154" d="M1284.2 273.8 L1299.2 276 L1314.2 278.3 L1329.2 280.7 L1344.2 283.1 L1359.2 285.7 L1374.2 288.2 L1389.2 290.9 L1404.2 293.6 L1419.2 296.4 L1434.2 299.3 L1449.2 302.3 L1462.7 305"/>
<path transform="translate(1211.3,0)" stroke="url(#hg)" d="M0 278.8 L0.7 278.6 L1.7 278.2 L2.8 277.9 L3.9 277.7 L5.1 277.5 L6.5 277.2 L8.1 277 L9.8 276.8 L11.7 276.6 L13.8 276.4 L16.1 276.3 L18.2 276.3 L20.1 276.3 L22 276.4 L23.9 276.5 L25.9 276.6 L27.9 276.8 L30 277.1 L32.2 277.3 L34.6 277.7 L37.1 278 L39.6 278.3 L42.2 278.6 L45.5 279.1 L49.7 279.8 L54.6 280.5 L59.6 281.3 L65.1 282.2 L70.7 283.1 L74.6 283.8"/>
<path stroke="#440154" d="M1285.8 283.8 L1300.8 286 L1315.8 288.3 L1330.8 290.7 L1345.8 293.1 L1360.8 295.7 L1375.8 298.3 L1390.8 300.9 L1405.8 303.7 L1420.8 306.5 L1435.8 309.4 L1450.8 312.3 L1465.8 315.3 L1480.8 318.4 L1484.2 319.1"/>
<path transform="translate(1211.3,0)" stroke="url(#hg)" d="M0 270 L0.6 269.7 L1.6 269.4 L2.6 269.2 L3.6 268.9 L4.7 268.7 L6 268.5 L7.5 268.3 L9.1 268.1 L10.8 267.9 L12.8 267.8 L14.8 267.7 L16.8 267.6 L18.6 267.6 L20.3 267.7 L22.1 267.8 L23.9 267.9 L25.8 268.1 L27.7 268.3 L29.8 268.6 L32 268.9 L34.3 269.2 L36.6 269.5 L39 269.8 L42.1 270.2 L46 270.8 L50.5 271.5 L55.1 272.2 L60.1 273.1 L65.3 273.9 L68.9 274.5"/>
<path stroke="#440154" d="M1280.2 274.5 L1295.2 276.7 L1310.2 279 L1325.2 281.3 L1340.2 283.8 L1355.2 286.3 L1370.2 288.8 L1385.2 291.5 L1400.2 294.2 L1415.2 296.9 L1430.2 299.8 L1445.2 302.7 L1460.2 305.7 L1470.3 307.8"/>
<path transform="translate(1219.8,0)" stroke="url(#hg)" d="M0 270.9 L0.7 270.7 L1.7 270.4 L2.8 270.1 L3.9 269.8 L5 269.6 L6.4 269.4 L8 269.2 L9.7 268.9 L11.6 268.7 L13.7 268.6 L15.9 268.5 L18 268.5 L19.9 268.5 L21.8 268.6 L23.6 268.7 L25.6 268.8 L27.6 269 L29.7 269.3 L31.9 269.5 L34.2 269.9 L36.6 270.2 L39.1 270.5 L41.7 270.9 L45 271.3 L49.2 272 L54 272.7 L58.9 273.5 L64.3 274.4 L69.8 275.4 L73.7 276"/>
<path stroke="#440154" d="M1293.5 276 L1308.5 278.3 L1323.5 280.6 L1338.5 283.1 L1353.5 285.5 L1368.5 288.1 L1383.5 290.7 L1398.5 293.4 L1413.5 296.2 L1428.5 299.1 L1443.5 302 L1458.5 305 L1470.8 307.5"/>
<path transform="translate(1221.4,0)" stroke="url(#hg)" d="M0 278.1 L0.7 277.9 L1.8 277.5 L2.9 277.2 L4 277 L5.3 276.7 L6.7 276.5 L8.3 276.3 L10.1 276 L12.1 275.8 L14.3 275.7 L16.6 275.6 L18.8 275.6 L20.8 275.6 L22.7 275.7 L24.7 275.8 L26.7 276 L28.8 276.2 L31 276.4 L33.3 276.7 L35.7 277 L38.2 277.4 L40.8 277.7 L43.6 278.1 L46.9 278.6 L51.3 279.3 L56.3 280.1 L61.5 280.9 L67.1 281.9 L72.9 282.8 L77 283.5"/>
<path stroke="#440154" d="M1298.3 283.5 L1313.3 285.8 L1328.3 288.2 L1343.3 290.6 L1358.3 293.1 L1373.3 295.7 L1388.3 298.4 L1403.3 301.1 L1418.3 303.9 L1433.3 306.8 L1448.3 309.7 L1463.3 312.7 L1478.3 315.8 L1482.4 316.6"/>
<path transform="translate(1223.1,0)" stroke="url(#hg)" d="M0 272.3 L0.6 272.1 L1.4 271.8 L2.4 271.6 L3.3 271.3 L4.3 271.2 L5.4 271 L6.8 270.8 L8.2 270.6 L9.8 270.4 L11.6 270.3 L13.5 270.2 L15.3 270.2 L16.9 270.2 L18.5 270.3 L20.1 270.4 L21.7 270.5 L23.4 270.7 L25.2 270.9 L27.1 271.1 L29 271.4 L31.1 271.7 L33.2 271.9 L35.4 272.2 L38.2 272.6 L41.7 273.2 L45.8 273.8 L50 274.5 L54.6 275.2 L59.3 276 L62.6 276.6 L77.6 278.8"/>
<path stroke="#440154" d="M1300.7 278.8 L1315.7 281.1 L1330.7 283.5 L1345.7 285.9 L1360.7 288.4 L1375.7 291 L1390.7 293.7 L1405.7 296.4 L1420.7 299.3 L1435.7 302.1 L1450.7 305.1 L1465.7 308.1 L1471.1 309.2"/>
<path transform="translate(1224.3,0)" stroke="url(#hg)" d="M0 281.4 L0.6 281.2 L1.5 280.9 L2.4 280.7 L3.3 280.5 L4.4 280.3 L5.5 280.1 L6.9 279.9 L8.4 279.7 L10 279.5 L11.8 279.4 L13.7 279.3 L15.6 279.3 L17.2 279.3 L18.8 279.4 L20.5 279.5 L22.2 279.6 L23.9 279.8 L25.7 280 L27.6 280.2 L29.6 280.5 L31.7 280.8 L33.9 281.1 L36.1 281.4 L39 281.8 L42.6 282.3 L46.7 283 L51 283.7 L55.7 284.5 L60.5 285.3 L63.9 285.8 L78.9 288.1"/>
<path stroke="#440154" d="M1303.2 288.1 L1318.2 290.4 L1333.2 292.8 L1348.2 295.2 L1363.2 297.8 L1378.2 300.4 L1393.2 303 L1408.2 305.8 L1423.2 308.6 L1438.2 311.5 L1453.2 314.5 L1468.2 317.5 L1483.2 320.6 L1487.2 321.5"/>
<path transform="translate(1236.4,0)" stroke="url(#hg)" d="M0 273.5 L0.6 273.3 L1.6 273 L2.6 272.7 L3.6 272.5 L4.6 272.3 L5.9 272.1 L7.3 271.9 L8.9 271.7 L10.7 271.5 L12.6 271.4 L14.6 271.4 L16.5 271.3 L18.3 271.4 L20 271.4 L21.8 271.5 L23.5 271.7 L25.4 271.9 L27.3 272.1 L29.3 272.4 L31.4 272.7 L33.7 273 L36 273.3 L38.4 273.6 L41.4 274.1 L45.2 274.7 L49.6 275.4 L54.2 276.2 L59.2 277 L64.2 277.9 L67.8 278.5"/>
<path stroke="#440154" d="M1304.2 278.5 L1319.2 280.8 L1334.2 283.2 L1349.2 285.7 L1364.2 288.2 L1379.2 290.8 L1394.2 293.5 L1409.2 296.2 L1424.2 299.1 L1439.2 302 L1454.2 304.9 L1469.2 308 L1471.9 308.5"/>
<path transform="translate(1236.6,0)" stroke="url(#hg)" d="M0 280.2 L0.6 280.1 L1.4 279.8 L2.3 279.5 L3.2 279.4 L4.2 279.2 L5.3 279 L6.6 278.8 L8 278.6 L9.6 278.5 L11.3 278.4 L13.1 278.3 L14.8 278.3 L16.4 278.3 L17.9 278.4 L19.5 278.5 L21.1 278.6 L22.7 278.8 L24.5 279 L26.3 279.2 L28.2 279.5 L30.2 279.8 L32.2 280.1 L34.4 280.3 L37.1 280.7 L40.5 281.3 L44.5 281.9 L48.6 282.6 L53 283.3 L57.6 284.1 L60.8 284.7 L75.8 286.9"/>
<path stroke="#440154" d="M1312.4 286.9 L1327.4 289.3 L1342.4 291.7 L1357.4 294.2 L1372.4 296.8 L1387.4 299.5 L1402.4 302.2 L1417.4 305 L1432.4 307.8 L1447.4 310.8 L1462.4 313.8 L1477.4 316.9 L1485.2 318.5"/>
<path transform="translate(1238.8,0)" stroke="url(#hg)" d="M0 274.2 L0.6 273.9 L1.5 273.7 L2.5 273.4 L3.5 273.2 L4.6 273 L5.8 272.8 L7.2 272.6 L8.8 272.4 L10.5 272.2 L12.3 272.1 L14.3 272.1 L16.2 272 L18 272.1 L19.7 272.1 L21.4 272.2 L23.1 272.4 L24.9 272.6 L26.8 272.8 L28.8 273.1 L30.9 273.4 L33.1 273.7 L35.3 274 L37.7 274.3 L40.6 274.7 L44.4 275.3 L48.7 276.1 L53.2 276.8 L58.1 277.6 L63.1 278.5 L66.6 279.1"/>
<path stroke="#440154" d="M1305.4 279.1 L1320.4 281.4 L1335.4 283.8 L1350.4 286.3 L1365.4 288.8 L1380.4 291.4 L1395.4 294.1 L1410.4 296.9 L1425.4 299.7 L1440.4 302.6 L1455.4 305.6 L1470.4 308.6 L1472.5 309.1"/>
<path transform="translate(1240,0)" stroke="url(#hg)" d="M0 278.2 L0.6 278 L1.6 277.7 L2.6 277.4 L3.6 277.2 L4.6 277 L5.9 276.8 L7.3 276.6 L8.9 276.4 L10.7 276.3 L12.6 276.2 L14.6 276.1 L16.6 276.1 L18.3 276.1 L20 276.2 L21.8 276.3 L23.6 276.4 L25.4 276.6 L27.3 276.9 L29.4 277.1 L31.5 277.4 L33.7 277.7 L36 278.1 L38.4 278.4 L41.4 278.8 L45.3 279.4 L49.7 280.2 L54.2 280.9 L59.2 281.8 L64.3 282.7 L67.9 283.3"/>
<path stroke="#440154" d="M1307.9 283.3 L1322.9 285.6 L1337.9 288 L1352.9 290.5 L1367.9 293.1 L1382.9 295.7 L1397.9 298.4 L1412.9 301.2 L1427.9 304 L1442.9 306.9 L1457.9 309.9 L1472.9 313 L1477.3 313.9"/>
<path transform="translate(1171.9,0)" stroke="url(#hg)" d="M0 275.1 L0.7 274.9 L1.7 274.6 L2.8 274.2 L3.9 274 L5.1 273.8 L6.4 273.6 L8 273.3 L9.7 273.1 L11.6 272.9 L13.7 272.7 L15.9 272.6 L18 272.6 L19.9 272.6 L21.8 272.7 L23.7 272.8 L25.6 272.9 L27.6 273.1 L29.7 273.3 L31.9 273.6 L34.2 273.8 L36.7 274.2 L39.2 274.4 L41.8 274.8 L45 275.2 L49.2 275.8 L54.1 276.5 L59 277.2 L64.4 278 L70 278.8 L73.8 279.4"/>
<path stroke="#440154" d="M1245.7 279.4 L1260.7 281.5 L1275.7 283.6 L1290.7 285.8 L1305.7 288 L1320.7 290.4 L1335.7 292.8 L1350.7 295.2 L1365.7 297.8 L1380.7 300.4 L1395.7 303.1 L1410.7 305.8 L1425.7 308.7 L1440.7 311.6 L1455.7 314.6 L1470.7 317.6 L1485.6 320.7"/>
<path transform="translate(1193.3,0)" stroke="url(#hg)" d="M0 275.2 L0.6 275 L1.4 274.7 L2.3 274.5 L3.2 274.3 L4.1 274.1 L5.2 273.9 L6.5 273.7 L8 273.5 L9.5 273.4 L11.2 273.2 L13 273.2 L14.8 273.1 L16.3 273.1 L17.8 273.2 L19.4 273.3 L21 273.4 L22.6 273.5 L24.3 273.7 L26.1 273.9 L28 274.1 L30 274.4 L32.1 274.6 L34.2 274.9 L36.9 275.3 L40.3 275.7 L44.3 276.3 L48.3 276.9 L52.7 277.6 L57.3 278.3 L60.4 278.8 L75.4 280.9"/>
<path stroke="#440154" d="M1268.7 280.9 L1283.7 283.1 L1298.7 285.3 L1313.7 287.6 L1328.7 289.9 L1343.7 292.4 L1358.7 294.9 L1373.7 297.5 L1388.7 300.1 L1403.7 302.9 L1418.7 305.7 L1433.7 308.5 L1448.7 311.5 L1463.7 314.5 L1478.7 317.6 L1484.7 318.8"/>
<path transform="translate(1196.6,0)" stroke="url(#hg)" d="M0 278.2 L0.6 278 L1.4 277.7 L2.3 277.4 L3.2 277.2 L4.2 277.1 L5.3 276.9 L6.6 276.7 L8 276.5 L9.6 276.3 L11.3 276.2 L13.1 276.1 L14.8 276.1 L16.4 276.1 L17.9 276.1 L19.5 276.2 L21.1 276.3 L22.7 276.5 L24.5 276.7 L26.3 276.9 L28.2 277.1 L30.2 277.4 L32.2 277.6 L34.4 277.9 L37.1 278.2 L40.5 278.7 L44.5 279.3 L48.5 280 L53 280.6 L57.6 281.4 L60.8 281.9 L75.8 284"/>
<path stroke="#440154" d="M1272.4 284 L1287.4 286.1 L1302.4 288.4 L1317.4 290.7 L1332.4 293.1 L1347.4 295.5 L1362.4 298 L1377.4 300.6 L1392.4 303.3 L1407.4 306.1 L1422.4 308.9 L1437.4 311.8 L1452.4 314.7 L1467.4 317.8 L1482.4 320.9 L1488.2 322.1"/>
<path transform="translate(1235.1,0)" stroke="url(#hg)" d="M0 275.1 L0.5 274.9 L1.3 274.7 L2.1 274.5 L3 274.3 L3.9 274.1 L4.9 273.9 L6.1 273.8 L7.5 273.6 L8.9 273.5 L10.5 273.4 L12.2 273.3 L13.8 273.3 L15.3 273.3 L16.7 273.4 L18.2 273.5 L19.7 273.6 L21.2 273.7 L22.8 273.9 L24.5 274.1 L26.2 274.4 L28.1 274.7 L30 274.9 L32 275.2 L34.5 275.5 L37.8 276 L41.4 276.6 L45.2 277.2 L49.4 277.9 L53.6 278.6 L56.6 279.1 L71.6 281.4"/>
<path stroke="#440154" d="M1306.8 281.4 L1321.8 283.7 L1336.8 286.2 L1351.8 288.6 L1366.8 291.2 L1381.8 293.8 L1396.8 296.5 L1411.8 299.3 L1426.8 302.1 L1441.8 305 L1456.8 308 L1471.8 311 L1475.7 311.9"/>
<path transform="translate(1181.3,0)" stroke="url(#hg)" d="M0 273.5 L0.7 273.3 L1.7 272.9 L2.9 272.6 L4 272.3 L5.2 272.1 L6.6 271.9 L8.2 271.6 L10.1 271.4 L12 271.2 L14.1 271 L16.4 270.9 L18.6 270.9 L20.6 270.9 L22.5 271 L24.5 271.1 L26.5 271.2 L28.5 271.4 L30.7 271.6 L33 271.9 L35.4 272.2 L37.9 272.5 L40.5 272.8 L43.2 273.1 L46.5 273.6 L50.9 274.2 L55.9 274.9 L60.9 275.7 L66.6 276.6 L72.3 277.4 L76.3 278.1"/>
<path stroke="#440154" d="M1257.6 278.1 L1272.6 280.2 L1287.6 282.3 L1302.6 284.6 L1317.6 286.9 L1332.6 289.3 L1347.6 291.7 L1362.6 294.3 L1377.6 296.9 L1392.6 299.6 L1407.6 302.3 L1422.6 305.1 L1437.6 308 L1452.6 311 L1467.6 314 L1482.6 317.1 L1483.8 317.4"/>
<path transform="translate(1236.8,0)" stroke="url(#hg)" d="M0 277.7 L0.7 277.4 L1.8 277.1 L3 276.8 L4.1 276.5 L5.4 276.3 L6.8 276.1 L8.5 275.8 L10.3 275.6 L12.4 275.4 L14.6 275.3 L16.9 275.2 L19.2 275.2 L21.2 275.2 L23.2 275.3 L25.2 275.4 L27.3 275.6 L29.4 275.8 L31.6 276.1 L34 276.4 L36.4 276.7 L39 277.1 L41.7 277.5 L44.5 277.9 L47.9 278.4 L52.4 279.1 L57.5 279.9 L62.7 280.8 L68.5 281.8 L74.4 282.9 L78.6 283.6"/>
<path stroke="#440154" d="M1315.3 283.6 L1330.3 286 L1345.3 288.4 L1360.3 290.9 L1375.3 293.5 L1390.3 296.2 L1405.3 298.9 L1420.3 301.7 L1435.3 304.6 L1450.3 307.5 L1465.3 310.6 L1475.3 312.6"/>
<path transform="translate(1229.8,0)" stroke="url(#hg)" d="M0 277.1 L0.5 276.9 L1.3 276.6 L2.2 276.4 L3.1 276.2 L4 276 L5.1 275.9 L6.3 275.7 L7.7 275.5 L9.2 275.4 L10.8 275.3 L12.6 275.2 L14.2 275.2 L15.8 275.2 L17.2 275.3 L18.7 275.3 L20.2 275.5 L21.8 275.6 L23.5 275.8 L25.2 276 L27 276.3 L29 276.6 L30.9 276.8 L33 277.1 L35.6 277.5 L38.9 278 L42.7 278.6 L46.6 279.2 L50.9 279.9 L55.3 280.6 L58.3 281.2 L73.3 283.4"/>
<path stroke="#440154" d="M1303.1 283.4 L1318.1 285.7 L1333.1 288.1 L1348.1 290.6 L1363.1 293.1 L1378.1 295.7 L1393.1 298.4 L1408.1 301.1 L1423.1 303.9 L1438.1 306.8 L1453.1 309.8 L1468.1 312.8 L1478.9 315.1"/>
<path transform="translate(1234.5,0)" stroke="url(#hg)" d="M0 274.9 L0.6 274.7 L1.4 274.5 L2.3 274.2 L3.2 274 L4.2 273.8 L5.3 273.7 L6.6 273.5 L8.1 273.3 L9.6 273.1 L11.3 273 L13.2 273 L14.9 272.9 L16.5 273 L18.1 273 L19.6 273.1 L21.2 273.3 L22.9 273.4 L24.6 273.6 L26.4 273.9 L28.3 274.1 L30.4 274.4 L32.4 274.7 L34.6 275 L37.3 275.4 L40.8 275.9 L44.8 276.6 L48.8 277.2 L53.3 278 L57.9 278.8 L61.1 279.3 L76.1 281.6"/>
<path stroke="#440154" d="M1310.6 281.6 L1325.6 283.9 L1340.6 286.4 L1355.6 288.9 L1370.6 291.4 L1385.6 294.1 L1400.6 296.8 L1415.6 299.6 L1430.6 302.4 L1445.6 305.3 L1460.6 308.3 L1475 311.3"/>
<path transform="translate(1247.1,0)" stroke="url(#hg)" d="M0 285.9 L0.6 285.7 L1.4 285.4 L2.3 285.2 L3.2 285 L4.1 284.8 L5.3 284.6 L6.5 284.5 L8 284.3 L9.5 284.1 L11.2 284 L13 284 L14.8 284 L16.3 284 L17.9 284.1 L19.4 284.2 L21 284.3 L22.6 284.5 L24.3 284.7 L26.2 284.9 L28 285.2 L30.1 285.5 L32.1 285.8 L34.2 286.1 L36.9 286.5 L40.3 287 L44.3 287.7 L48.3 288.3 L52.8 289.1 L57.3 289.9 L60.5 290.4 L75.5 292.8"/>
<path stroke="#440154" d="M1322.6 292.8 L1337.6 295.2 L1352.6 297.7 L1367.6 300.2 L1382.6 302.8 L1397.6 305.5 L1412.6 308.3 L1427.6 311.2 L1442.6 314.1 L1457.6 317.1 L1472.6 320.1 L1487.6 323.3 L1487.9 323.3"/>
<path transform="translate(1252,0)" stroke="url(#hg)" d="M0 284.6 L0.5 284.5 L1.3 284.2 L2.1 284 L2.9 283.8 L3.8 283.7 L4.8 283.5 L6 283.4 L7.3 283.2 L8.8 283.1 L10.3 283 L12 282.9 L13.6 282.9 L15 283 L16.4 283 L17.8 283.1 L19.3 283.2 L20.8 283.4 L22.4 283.6 L24.1 283.8 L25.8 284.1 L27.6 284.3 L29.5 284.6 L31.5 284.9 L34 285.2 L37.1 285.8 L40.7 286.4 L44.5 287 L48.5 287.7 L52.7 288.4 L55.6 288.9 L70.6 291.2"/>
<path stroke="#440154" d="M1322.7 291.2 L1337.7 293.7 L1352.7 296.1 L1367.7 298.7 L1382.7 301.3 L1397.7 304 L1412.7 306.8 L1427.7 309.6 L1442.7 312.5 L1457.7 315.5 L1472.7 318.6 L1487.2 321.6"/>
<path transform="translate(1252.9,0)" stroke="url(#hg)" d="M0 287.1 L0.5 286.9 L1.2 286.7 L1.9 286.5 L2.7 286.3 L3.5 286.2 L4.5 286.1 L5.6 285.9 L6.8 285.8 L8.1 285.6 L9.6 285.6 L11.1 285.5 L12.6 285.5 L14 285.5 L15.3 285.6 L16.6 285.7 L17.9 285.8 L19.3 285.9 L20.8 286.1 L22.3 286.3 L24 286.6 L25.7 286.8 L27.4 287 L29.2 287.3 L31.5 287.6 L34.5 288.1 L37.8 288.7 L41.3 289.2 L45.1 289.9 L49 290.6 L51.7 291 L66.7 293.3"/>
<path stroke="#440154" d="M1319.5 293.3 L1334.5 295.7 L1349.5 298.2 L1364.5 300.8 L1379.5 303.4 L1394.5 306 L1409.5 308.8 L1424.5 311.6 L1439.5 314.5 L1454.5 317.5 L1469.5 320.5 L1484.5 323.7 L1489.8 324.8"/>
<path transform="translate(1282.6,0)" stroke="url(#hg)" d="M0 289.7 L0.4 289.6 L1.1 289.4 L1.8 289.2 L2.5 289 L3.3 288.9 L4.1 288.8 L5.2 288.7 L6.3 288.5 L7.5 288.4 L8.8 288.4 L10.3 288.3 L11.6 288.3 L12.9 288.4 L14.1 288.4 L15.3 288.5 L16.6 288.7 L17.8 288.8 L19.2 289 L20.6 289.2 L22.1 289.4 L23.7 289.7 L25.3 289.9 L27 290.1 L29.1 290.5 L31.8 290.9 L34.9 291.5 L38.1 292 L41.6 292.7 L45.2 293.3 L47.7 293.8 L62.7 296.2 L77.7 298.7"/>
<path stroke="#440154" d="M1360.3 298.7 L1375.3 301.3 L1390.3 304 L1405.3 306.7 L1420.3 309.5 L1435.3 312.4 L1450.3 315.4 L1465.3 318.4 L1480.3 321.5 L1490.7 323.7"/>
<path transform="translate(1284.2,0)" stroke="url(#hg)" d="M0 292 L0.4 291.9 L1.1 291.7 L1.8 291.5 L2.5 291.4 L3.3 291.2 L4.1 291.1 L5.2 291 L6.3 290.9 L7.5 290.8 L8.8 290.7 L10.3 290.7 L11.6 290.7 L12.9 290.7 L14.1 290.8 L15.3 290.9 L16.6 291 L17.8 291.2 L19.2 291.3 L20.6 291.5 L22.1 291.8 L23.7 292 L25.3 292.2 L27 292.5 L29.1 292.8 L31.8 293.3 L34.9 293.8 L38.1 294.4 L41.6 295 L45.2 295.7 L47.7 296.1 L62.7 298.6 L77.7 301.1"/>
<path stroke="#440154" d="M1361.9 301.1 L1376.9 303.7 L1391.9 306.4 L1406.9 309.1 L1421.9 311.9 L1436.9 314.8 L1451.9 317.8 L1466.9 320.8 L1481.9 323.9 L1491.3 325.9"/>
<path transform="translate(1289.9,0)" stroke="url(#hg)" d="M0 291.7 L0.4 291.5 L1.1 291.3 L1.8 291.2 L2.5 291 L3.3 290.9 L4.1 290.8 L5.2 290.6 L6.3 290.5 L7.5 290.4 L8.8 290.4 L10.3 290.3 L11.6 290.3 L12.9 290.4 L14.1 290.4 L15.3 290.5 L16.6 290.7 L17.8 290.8 L19.2 291 L20.6 291.2 L22.1 291.4 L23.7 291.7 L25.3 291.9 L27 292.2 L29.1 292.5 L31.8 293 L34.9 293.5 L38.1 294.1 L41.6 294.7 L45.2 295.4 L47.7 295.8 L62.7 298.3 L77.7 300.9"/>
<path stroke="#440154" d="M1367.6 300.9 L1382.6 303.5 L1397.6 306.2 L1412.6 309 L1427.6 311.8 L1442.6 314.7 L1457.6 317.7 L1472.6 320.8 L1487.6 323.9 L1491.2 324.7"/>
<path transform="translate(1319.4,0)" stroke="url(#hg)" d="M0 299.5 L0.7 299.3 L1.7 299 L2.8 298.7 L4 298.5 L5.2 298.3 L6.6 298.1 L8.2 297.9 L10 297.7 L11.9 297.6 L14 297.5 L16.3 297.5 L18.4 297.5 L20.4 297.6 L22.3 297.8 L24.2 297.9 L26.2 298.2 L28.3 298.4 L30.4 298.7 L32.7 299.1 L35 299.5 L37.5 299.9 L40.1 300.3 L42.8 300.8 L46.1 301.4 L50.4 302.2 L55.3 303.1 L60.3 304.1 L65.9 305.2 L71.5 306.3 L75.5 307.1"/>
<path stroke="#440154" d="M1394.9 307.1 L1409.9 309.9 L1424.9 312.7 L1439.9 315.6 L1454.9 318.6 L1469.9 321.6 L1484.9 324.7 L1489.8 325.8"/>
<path transform="translate(1374.1,0)" stroke="url(#hg)" d="M0 307 L0.6 306.9 L1.5 306.6 L2.4 306.4 L3.3 306.2 L4.4 306.1 L5.5 306 L6.9 305.8 L8.4 305.7 L10 305.6 L11.8 305.6 L13.7 305.6 L15.5 305.7 L17.2 305.8 L18.8 305.9 L20.4 306.1 L22.1 306.3 L23.8 306.6 L25.6 306.9 L27.5 307.2 L29.5 307.5 L31.6 307.9 L33.7 308.3 L36 308.7 L38.8 309.3 L42.4 310 L46.6 310.8 L50.8 311.7 L55.5 312.7 L60.3 313.7 L63.6 314.5 L78.6 317.4"/>
<path stroke="#440154" d="M1452.7 317.4 L1467.7 320.5 L1482.7 323.6 L1489.1 324.9"/>
</g>
<path fill="none" stroke="#ff0000" stroke-width="1.8" stroke-linejoin="round" d="M1145.2 391 L1147.3 264 L1147.4 262 L1147.5 260 L1147.6 258 L1147.7 256 L1147.6 254 L1147.8 252 L1147.3 250 L1147.5 248 L1147.9 246 L1147.6 245 L1148.3 245.3 L1147.6 243 L1148.5 242.9 L1147.6 240.6 L1149 240.5 L1147.7 238.1 L1149.8 238.7 L1147.9 235.2 L1150.9 235.8 L1148.3 232.4 L1152.2 232.7 L1148.6 229.4 L1153.4 229.9 L1148.9 226.1 L1154.6 227.1 L1149.3 222.4 L1155.8 223.4 L1150.1 218.2 L1156.8 219.4 L1150.8 213.5 L1159.7 215 L1151.5 208.8 L1162.1 210.1 L1153.2 203.9 L1172.3 206.4 L1161.1 196.5 L1161.8 196.3 L1162.9 195.9 L1164.1 195.6 L1165.3 195.3 L1166.5 195.1 L1168 194.9 L1169.7 194.7 L1171.6 194.4 L1173.6 194.2 L1175.8 194.1 L1178.2 194 L1180.5 194 L1182.6 194 L1184.6 194.1 L1186.6 194.2 L1188.7 194.4 L1190.8 194.6 L1193.1 194.9 L1195.5 195.2 L1198 195.5 L1200.6 195.9 L1203.3 196.2 L1206.1 196.6 L1209.6 197.1 L1214.1 197.8 L1219.3 198.6 L1224.6 199.4 L1230.5 200.3 L1236.4 201.2 L1240.6 201.9 L1260.6 204.7 L1280.6 207.5 L1300.6 210.3 L1320.6 213.3 L1340.6 216.3 L1360.6 219.3 L1380.6 222.4 L1400.6 225.6 L1420.6 228.9 L1440.6 232.2 L1460.6 235.5 L1472.2 237.6"/>
<path fill="none" stroke="#ffa500" stroke-width="1.8" stroke-linejoin="round" d="M1145.2 295.3 L1147.3 168.3 L1147.4 166.3 L1147.5 164.3 L1147.6 162.3 L1147.7 160.3 L1147.6 158.3 L1147.8 156.3 L1147.3 154.3 L1147.5 152.3 L1147.9 150.3 L1147.6 149.3 L1148.3 149.6 L1147.6 147.3 L1148.5 147.2 L1147.6 144.9 L1149 144.8 L1147.7 142.4 L1149.8 143 L1147.9 139.5 L1150.9 140.1 L1148.3 136.7 L1152.2 137 L1148.6 133.7 L1153.4 134.2 L1148.9 130.4 L1154.6 131.4 L1149.3 126.7 L1155.8 127.7 L1150.1 122.5 L1156.8 123.7 L1150.8 117.8 L1159.7 119.3 L1151.5 113.1 L1162.1 114.4 L1153.2 108.2 L1172.3 110.7 L1161.1 100.8 L1161.8 100.6 L1162.9 100.2 L1164.1 99.9 L1165.3 99.6 L1166.5 99.4 L1168 99.2 L1169.7 99 L1171.6 98.7 L1173.6 98.5 L1175.8 98.4 L1178.2 98.3 L1180.5 98.3 L1182.6 98.3 L1184.6 98.4 L1186.6 98.5 L1188.7 98.7 L1190.8 98.9 L1193.1 99.2 L1195.5 99.5 L1198 99.8 L1200.6 100.2 L1203.3 100.5 L1206.1 100.9 L1209.6 101.4 L1214.1 102.1 L1219.3 102.9 L1224.6 103.7 L1230.5 104.6 L1236.4 105.5 L1240.6 106.2 L1260.6 109 L1280.6 111.8 L1300.6 114.6 L1320.6 117.6 L1340.6 120.6 L1360.6 123.6 L1380.6 126.7 L1400.6 129.9 L1420.6 133.2 L1440.6 136.5 L1460.6 139.8 L1472.2 141.9"/>
</g>
<path d="M1025.7 517.55h3.7M1606.5 517.55h-3.7M1025.7 513h3.7M1606.5 513h-3.7M1025.7 509.07h3.7M1606.5 509.07h-3.7M1025.7 505.6h3.7M1606.5 505.6h-3.7M1025.7 482.06h3.7M1606.5 482.06h-3.7M1025.7 470.11h3.7M1606.5 470.11h-3.7M1025.7 461.63h3.7M1606.5 461.63h-3.7M1025.7 455.05h3.7M1606.5 455.05h-3.7M1025.7 449.68h3.7M1606.5 449.68h-3.7M1025.7 445.13h3.7M1606.5 445.13h-3.7M1025.7 441.2h3.7M1606.5 441.2h-3.7M1025.7 437.73h3.7M1606.5 437.73h-3.7M1025.7 414.19h3.7M1606.5 414.19h-3.7M1025.7 402.24h3.7M1606.5 402.24h-3.7M1025.7 393.76h3.7M1606.5 393.76h-3.7M1025.7 387.18h3.7M1606.5 387.18h-3.7M1025.7 381.81h3.7M1606.5 381.81h-3.7M1025.7 377.26h3.7M1606.5 377.26h-3.7M1025.7 373.33h3.7M1606.5 373.33h-3.7M1025.7 369.86h3.7M1606.5 369.86h-3.7M1025.7 346.32h3.7M1606.5 346.32h-3.7M1025.7 334.37h3.7M1606.5 334.37h-3.7M1025.7 325.89h3.7M1606.5 325.89h-3.7M1025.7 319.31h3.7M1606.5 319.31h-3.7M1025.7 313.94h3.7M1606.5 313.94h-3.7M1025.7 309.39h3.7M1606.5 309.39h-3.7M1025.7 305.46h3.7M1606.5 305.46h-3.7M1025.7 301.99h3.7M1606.5 301.99h-3.7M1025.7 278.45h3.7M1606.5 278.45h-3.7M1025.7 266.5h3.7M1606.5 266.5h-3.7M1025.7 258.02h3.7M1606.5 258.02h-3.7M1025.7 251.44h3.7M1606.5 251.44h-3.7M1025.7 246.07h3.7M1606.5 246.07h-3.7M1025.7 241.52h3.7M1606.5 241.52h-3.7M1025.7 237.59h3.7M1606.5 237.59h-3.7M1025.7 234.12h3.7M1606.5 234.12h-3.7M1025.7 210.58h3.7M1606.5 210.58h-3.7M1025.7 198.63h3.7M1606.5 198.63h-3.7M1025.7 190.15h3.7M1606.5 190.15h-3.7M1025.7 183.57h3.7M1606.5 183.57h-3.7M1025.7 178.2h3.7M1606.5 178.2h-3.7M1025.7 173.65h3.7M1606.5 173.65h-3.7M1025.7 169.72h3.7M1606.5 169.72h-3.7M1025.7 166.25h3.7M1606.5 166.25h-3.7M1025.7 142.71h3.7M1606.5 142.71h-3.7M1025.7 130.76h3.7M1606.5 130.76h-3.7M1025.7 122.28h3.7M1606.5 122.28h-3.7M1025.7 115.7h3.7M1606.5 115.7h-3.7M1025.7 110.33h3.7M1606.5 110.33h-3.7M1025.7 105.78h3.7M1606.5 105.78h-3.7M1025.7 101.85h3.7M1606.5 101.85h-3.7M1025.7 98.38h3.7M1606.5 98.38h-3.7M1025.7 74.84h3.7M1606.5 74.84h-3.7M1025.7 62.89h3.7M1606.5 62.89h-3.7M1025.7 54.41h3.7M1606.5 54.41h-3.7M1025.7 47.83h3.7M1606.5 47.83h-3.7M1025.7 42.46h3.7M1606.5 42.46h-3.7M1025.7 37.91h3.7M1606.5 37.91h-3.7M1025.7 33.98h3.7M1606.5 33.98h-3.7M1025.7 30.51h3.7M1606.5 30.51h-3.7" stroke="#000" stroke-width="0.8" fill="none"/>
<path d="M1084.71 522.3v-3.8M1084.71 13.5v3.8M1105.99 522.3v-3.8M1105.99 13.5v3.8M1118.77 522.3v-3.8M1118.77 13.5v3.8M1127.94 522.3v-3.8M1127.94 13.5v3.8M1135.09 522.3v-3.8M1135.09 13.5v3.8M1140.95 522.3v-3.8M1140.95 13.5v3.8M1145.92 522.3v-3.8M1145.92 13.5v3.8M1150.24 522.3v-3.8M1150.24 13.5v3.8M1235.31 522.3v-3.8M1235.31 13.5v3.8M1256.59 522.3v-3.8M1256.59 13.5v3.8M1269.37 522.3v-3.8M1269.37 13.5v3.8M1278.54 522.3v-3.8M1278.54 13.5v3.8M1285.69 522.3v-3.8M1285.69 13.5v3.8M1291.55 522.3v-3.8M1291.55 13.5v3.8M1296.52 522.3v-3.8M1296.52 13.5v3.8M1300.84 522.3v-3.8M1300.84 13.5v3.8M1385.91 522.3v-3.8M1385.91 13.5v3.8M1407.19 522.3v-3.8M1407.19 13.5v3.8M1419.97 522.3v-3.8M1419.97 13.5v3.8M1429.14 522.3v-3.8M1429.14 13.5v3.8M1436.29 522.3v-3.8M1436.29 13.5v3.8M1442.15 522.3v-3.8M1442.15 13.5v3.8M1447.12 522.3v-3.8M1447.12 13.5v3.8M1451.44 522.3v-3.8M1451.44 13.5v3.8M1536.51 522.3v-3.8M1536.51 13.5v3.8M1557.79 522.3v-3.8M1557.79 13.5v3.8M1570.57 522.3v-3.8M1570.57 13.5v3.8M1579.74 522.3v-3.8M1579.74 13.5v3.8M1586.89 522.3v-3.8M1586.89 13.5v3.8M1592.75 522.3v-3.8M1592.75 13.5v3.8M1597.72 522.3v-3.8M1597.72 13.5v3.8M1602.04 522.3v-3.8M1602.04 13.5v3.8M1154.05 522.3v-7.6M1154.05 13.5v7.6M1304.65 522.3v-7.6M1304.65 13.5v7.6M1455.25 522.3v-7.6M1455.25 13.5v7.6M1025.7 502.49h7.6M1606.5 502.49h-7.6M1025.7 434.62h7.6M1606.5 434.62h-7.6M1025.7 366.75h7.6M1606.5 366.75h-7.6M1025.7 298.88h7.6M1606.5 298.88h-7.6M1025.7 231.01h7.6M1606.5 231.01h-7.6M1025.7 163.14h7.6M1606.5 163.14h-7.6M1025.7 95.27h7.6M1606.5 95.27h-7.6M1025.7 27.4h7.6M1606.5 27.4h-7.6" stroke="#000" stroke-width="0.9" fill="none"/>
<rect x="1025.7" y="13.5" width="580.8" height="508.8" fill="none" stroke="#1a1a1a" stroke-width="1.5"/>
<defs><linearGradient id="vg" x1="0" y1="1" x2="0" y2="0"><stop offset="0%" stop-color="#440154"/><stop offset="10%" stop-color="#482475"/><stop offset="20%" stop-color="#414487"/><stop offset="30%" stop-color="#355f8d"/><stop offset="40%" stop-color="#2a788e"/><stop offset="50%" stop-color="#21918c"/><stop offset="60%" stop-color="#22a884"/><stop offset="70%" stop-color="#44bf70"/><stop offset="80%" stop-color="#7ad151"/><stop offset="90%" stop-color="#bddf26"/><stop offset="100%" stop-color="#fde725"/></linearGradient></defs>
<rect x="1613.2" y="9" width="29.7" height="509.1" fill="url(#vg)" stroke="#000" stroke-opacity="0.55" stroke-width="0.8"/>
<path d="M1613.2 467.19h7.5M1642.9 467.19h-7.5M1613.2 416.28h7.5M1642.9 416.28h-7.5M1613.2 365.37h7.5M1642.9 365.37h-7.5M1613.2 314.46h7.5M1642.9 314.46h-7.5M1613.2 263.55h7.5M1642.9 263.55h-7.5M1613.2 212.64h7.5M1642.9 212.64h-7.5M1613.2 161.73h7.5M1642.9 161.73h-7.5M1613.2 110.82h7.5M1642.9 110.82h-7.5M1613.2 59.91h7.5M1642.9 59.91h-7.5" stroke="#000" stroke-opacity="0.5" stroke-width="1.2" fill="none"/>
<text transform="translate(1662.8,527) scale(1,1.040)" font-size="24">0</text>
<text transform="translate(1662.8,476.09) scale(1,1.040)" font-size="24">0.1</text>
<text transform="translate(1662.8,425.18) scale(1,1.040)" font-size="24">0.2</text>
<text transform="translate(1662.8,374.27) scale(1,1.040)" font-size="24">0.3</text>
<text transform="translate(1662.8,323.36) scale(1,1.040)" font-size="24">0.4</text>
<text transform="translate(1662.8,272.45) scale(1,1.040)" font-size="24">0.5</text>
<text transform="translate(1662.8,221.54) scale(1,1.040)" font-size="24">0.6</text>
<text transform="translate(1662.8,170.63) scale(1,1.040)" font-size="24">0.7</text>
<text transform="translate(1662.8,119.72) scale(1,1.040)" font-size="24">0.8</text>
<text transform="translate(1662.8,68.81) scale(1,1.040)" font-size="24">0.9</text>
<text transform="translate(1662.8,17.9) scale(1,1.040)" font-size="24">1</text>
<text transform="translate(1730.8,263.1) rotate(-90) scale(1,1.05)" font-size="24" text-anchor="middle">e</text>
<text transform="translate(1010.4,511.69) scale(1,1.050)" font-size="23.6" text-anchor="end">1e-24</text>
<text transform="translate(1010.4,443.82) scale(1,1.050)" font-size="23.6" text-anchor="end">1e-23</text>
<text transform="translate(1010.4,375.95) scale(1,1.050)" font-size="23.6" text-anchor="end">1e-22</text>
<text transform="translate(1010.4,308.08) scale(1,1.050)" font-size="23.6" text-anchor="end">1e-21</text>
<text transform="translate(1010.4,240.21) scale(1,1.050)" font-size="23.6" text-anchor="end">1e-20</text>
<text transform="translate(1010.4,172.34) scale(1,1.050)" font-size="23.6" text-anchor="end">1e-19</text>
<text transform="translate(1010.4,104.47) scale(1,1.050)" font-size="23.6" text-anchor="end">1e-18</text>
<text transform="translate(1010.4,36.6) scale(1,1.050)" font-size="23.6" text-anchor="end">1e-17</text>
<text transform="translate(1154.55,555.6) scale(1,1.040)" font-size="24" text-anchor="middle">1e-02</text>
<text transform="translate(1305.15,555.6) scale(1,1.040)" font-size="24" text-anchor="middle">1e+00</text>
<text transform="translate(1455.75,555.6) scale(1,1.040)" font-size="24" text-anchor="middle">1e+02</text>
<text transform="translate(1606.35,555.6) scale(1,1.040)" font-size="24" text-anchor="middle">1e+04</text>
<text transform="translate(1239.3,592.1) scale(1,1.040)" font-size="24.26">Frequency [Hz]</text>
<text transform="translate(923.3,268.5) rotate(-90) scale(1,1.06)" font-size="24.3" text-anchor="middle">Characteristic Strain</text>
<text transform="translate(902.1,30.78) scale(1,0.990)" font-size="42.83">b</text>
<text transform="translate(1078.38,207.09) scale(1,1.056)" font-size="23.94">LISA</text>
<text transform="translate(1455.58,130.79) scale(1,1.052)" font-size="24.03">KAGRA</text>
<text transform="translate(1438.46,207.37) scale(1,1.083)" font-size="24.53">LIGO</text>
<text transform="translate(1455.26,511.2) scale(1,1.043)" font-size="24.79">ET</text>
<text transform="translate(1257.5,399.8) rotate(-34) scale(1,1.05)" font-size="23.4">ALIA</text>
<text transform="translate(1285.2,457.8) rotate(-31) scale(1,1.05)" font-size="23.4">DO</text>
<text transform="translate(1295,517.6) rotate(-33) scale(1,1.05)" font-size="23">DECIGO</text>
<text transform="translate(1126.3,38.6) scale(1,1.050)" font-size="21.7">Local Universe</text>
<text transform="translate(1266.03,38.6) scale(1,1.050)" font-size="21.7">- D</text>
<text transform="translate(1294.41,44.7) scale(1,1.050)" font-size="16.5">L</text>
<text transform="translate(1309.12,38.6) scale(1,1.050)" font-size="21.7">=</text>
<text transform="translate(1360.77,38.6) scale(1,1.050)" font-size="21.7" text-anchor="end">230</text>
<text transform="translate(1371.85,38.6) scale(1,1.050)" font-size="21.7">Mpc</text>
<text transform="translate(1127.6,62.6) scale(1,1.050)" font-size="21.7">Virgo Cluster</text>
<text transform="translate(1267.53,62.6) scale(1,1.050)" font-size="21.7">- D</text>
<text transform="translate(1295.91,68.7) scale(1,1.050)" font-size="16.5">L</text>
<text transform="translate(1310.62,62.6) scale(1,1.050)" font-size="21.7">=</text>
<text transform="translate(1361.97,62.6) scale(1,1.050)" font-size="21.7" text-anchor="end">20</text>
<text transform="translate(1373.35,62.6) scale(1,1.050)" font-size="21.7">Mpc</text>
<text transform="translate(1127.6,86.75) scale(1,1.050)" font-size="21.7">Andromeda</text>
<text transform="translate(1267.53,86.75) scale(1,1.050)" font-size="21.7">- D</text>
<text transform="translate(1295.91,92.85) scale(1,1.050)" font-size="16.5">L</text>
<text transform="translate(1310.62,86.75) scale(1,1.050)" font-size="21.7">=</text>
<text transform="translate(1361.97,86.75) scale(1,1.050)" font-size="21.7" text-anchor="end">779</text>
<text transform="translate(1373.35,86.75) scale(1,1.050)" font-size="21.7">kpc</text>
<path d="M1053.1 33.5 H1113.6" stroke="#ffdf00" stroke-width="1" fill="none"/>
<path d="M1053.1 57.7 H1113.6" stroke="#ff0000" stroke-width="1.6" fill="none"/>
<path d="M1053.1 81.4 H1113.6" stroke="#ffa500" stroke-width="1.7" fill="none"/>
</g>
</svg>
</body></html>
